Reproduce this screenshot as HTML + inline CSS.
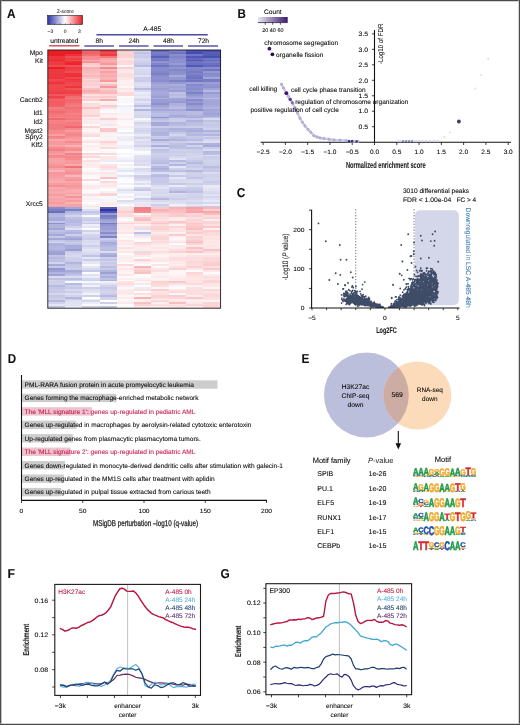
<!DOCTYPE html>
<html><head><meta charset="utf-8"><style>
html,body{margin:0;padding:0;background:#fff;width:520px;height:725px;overflow:hidden}
svg{display:block;filter:blur(0.3px);font-family:"Liberation Sans", sans-serif;text-rendering:geometricPrecision}
</style></head><body>
<svg width="520" height="725" viewBox="0 0 520 725">
<rect width="520" height="725" fill="#fff"/>
<text x="7" y="17.9" font-size="12.9" font-weight="bold" fill="#111" textLength="8.57" lengthAdjust="spacingAndGlyphs" stroke="#111" stroke-width="0.08">A</text>
<defs><linearGradient id="zg" x1="0" x2="1" y1="0" y2="0"><stop offset="0" stop-color="#2c34a6"/><stop offset="0.5" stop-color="#ffffff"/><stop offset="1" stop-color="#eb1c24"/></linearGradient><linearGradient id="cg" x1="0" x2="1" y1="0" y2="0"><stop offset="0" stop-color="#ece8f6"/><stop offset="1" stop-color="#3a1670"/></linearGradient></defs>
<rect x="47.6" y="15.4" width="35" height="9" fill="url(#zg)" stroke="#222" stroke-width="0.6"/>
<line x1="49.5" y1="23.2" x2="49.5" y2="24.6" stroke="#333" stroke-width="0.5" />
<line x1="54.8" y1="23.2" x2="54.8" y2="24.6" stroke="#333" stroke-width="0.5" />
<line x1="60.1" y1="23.2" x2="60.1" y2="24.6" stroke="#333" stroke-width="0.5" />
<line x1="65.4" y1="23.2" x2="65.4" y2="24.6" stroke="#333" stroke-width="0.5" />
<line x1="70.7" y1="23.2" x2="70.7" y2="24.6" stroke="#333" stroke-width="0.5" />
<line x1="76" y1="23.2" x2="76" y2="24.6" stroke="#333" stroke-width="0.5" />
<line x1="81.3" y1="23.2" x2="81.3" y2="24.6" stroke="#333" stroke-width="0.5" />
<text x="65.2" y="12.7" font-size="5" text-anchor="middle" fill="#333" stroke="#333" stroke-width="0.08">Z-score</text>
<text x="50.4" y="32.5" font-size="5" text-anchor="middle" fill="#333" stroke="#333" stroke-width="0.08">−3</text>
<text x="65.2" y="32.5" font-size="5" text-anchor="middle" fill="#333" stroke="#333" stroke-width="0.08">0</text>
<text x="79.5" y="32.5" font-size="5" text-anchor="middle" fill="#333" stroke="#333" stroke-width="0.08">3</text>
<text x="64.3" y="42.6" font-size="6.7" text-anchor="middle" stroke="#222" stroke-width="0.08">untreated</text>
<line x1="49.2" y1="45.8" x2="79.4" y2="45.8" stroke="#cc4050" stroke-width="1.35" />
<text x="152.2" y="31.4" font-size="6.7" text-anchor="middle" stroke="#222" stroke-width="0.08">A-485</text>
<line x1="96.4" y1="34.7" x2="207.8" y2="34.7" stroke="#4a4aa2" stroke-width="1.4" />
<text x="99.3" y="43.2" font-size="6.7" text-anchor="middle" stroke="#222" stroke-width="0.08">8h</text>
<text x="134" y="43.2" font-size="6.7" text-anchor="middle" stroke="#222" stroke-width="0.08">24h</text>
<text x="168.5" y="43.2" font-size="6.7" text-anchor="middle" stroke="#222" stroke-width="0.08">48h</text>
<text x="203.5" y="43.2" font-size="6.7" text-anchor="middle" stroke="#222" stroke-width="0.08">72h</text>
<line x1="84.3" y1="46" x2="114" y2="46" stroke="#4a4aa2" stroke-width="1.4" />
<line x1="119" y1="46" x2="148.6" y2="46" stroke="#4a4aa2" stroke-width="1.4" />
<line x1="153.5" y1="46" x2="183" y2="46" stroke="#4a4aa2" stroke-width="1.4" />
<line x1="188" y1="46" x2="218" y2="46" stroke="#4a4aa2" stroke-width="1.4" />
<g shape-rendering="crispEdges">
<rect x="47.8" y="50" width="17.33" height="1.95" fill="#eb1c24" />
<rect x="65.08" y="50" width="17.33" height="1.95" fill="#eb1f27" />
<rect x="82.36" y="50" width="17.33" height="1.95" fill="#f2676c" />
<rect x="99.64" y="50" width="17.33" height="1.95" fill="#ed363d" />
<rect x="116.92" y="50" width="17.33" height="1.95" fill="#facacc" />
<rect x="134.2" y="50" width="17.33" height="1.95" fill="#d3d5ed" />
<rect x="151.48" y="50" width="17.33" height="1.95" fill="#676dbf" />
<rect x="168.76" y="50" width="17.33" height="1.95" fill="#7c81c8" />
<rect x="186.04" y="50" width="17.33" height="1.95" fill="#4d54b4" />
<rect x="203.32" y="50" width="17.33" height="1.95" fill="#4a51b3" />
<rect x="47.8" y="51.9" width="17.33" height="1.95" fill="#eb1c24" />
<rect x="65.08" y="51.9" width="17.33" height="1.95" fill="#eb1c24" />
<rect x="82.36" y="51.9" width="17.33" height="1.95" fill="#f15e64" />
<rect x="99.64" y="51.9" width="17.33" height="1.95" fill="#ef4a50" />
<rect x="116.92" y="51.9" width="17.33" height="1.95" fill="#fbd4d6" />
<rect x="134.2" y="51.9" width="17.33" height="1.95" fill="#c0c2e4" />
<rect x="151.48" y="51.9" width="17.33" height="1.95" fill="#787dc6" />
<rect x="168.76" y="51.9" width="17.33" height="1.95" fill="#6e74c2" />
<rect x="186.04" y="51.9" width="17.33" height="1.95" fill="#454cb0" />
<rect x="203.32" y="51.9" width="17.33" height="1.95" fill="#575eb8" />
<rect x="47.8" y="53.8" width="17.33" height="1.95" fill="#eb1c24" />
<rect x="65.08" y="53.8" width="17.33" height="1.95" fill="#ed3138" />
<rect x="82.36" y="53.8" width="17.33" height="1.95" fill="#f27075" />
<rect x="99.64" y="53.8" width="17.33" height="1.95" fill="#ee3a41" />
<rect x="116.92" y="53.8" width="17.33" height="1.95" fill="#fbd0d1" />
<rect x="134.2" y="53.8" width="17.33" height="1.95" fill="#cccee9" />
<rect x="151.48" y="53.8" width="17.33" height="1.95" fill="#7277c3" />
<rect x="168.76" y="53.8" width="17.33" height="1.95" fill="#8a8ecd" />
<rect x="186.04" y="53.8" width="17.33" height="1.95" fill="#7076c3" />
<rect x="203.32" y="53.8" width="17.33" height="1.95" fill="#545bb7" />
<rect x="47.8" y="55.7" width="17.33" height="1.95" fill="#ed353c" />
<rect x="65.08" y="55.7" width="17.33" height="1.95" fill="#ef4f55" />
<rect x="82.36" y="55.7" width="17.33" height="1.95" fill="#f58c90" />
<rect x="99.64" y="55.7" width="17.33" height="1.95" fill="#f3787d" />
<rect x="116.92" y="55.7" width="17.33" height="1.95" fill="#fbd3d4" />
<rect x="134.2" y="55.7" width="17.33" height="1.95" fill="#c7cae8" />
<rect x="151.48" y="55.7" width="17.33" height="1.95" fill="#5a60b9" />
<rect x="168.76" y="55.7" width="17.33" height="1.95" fill="#8085c9" />
<rect x="186.04" y="55.7" width="17.33" height="1.95" fill="#4f56b5" />
<rect x="203.32" y="55.7" width="17.33" height="1.95" fill="#484fb2" />
<rect x="47.8" y="57.6" width="17.33" height="1.95" fill="#ed343b" />
<rect x="65.08" y="57.6" width="17.33" height="1.95" fill="#ee3f45" />
<rect x="82.36" y="57.6" width="17.33" height="1.95" fill="#f58e92" />
<rect x="99.64" y="57.6" width="17.33" height="1.95" fill="#f7a4a7" />
<rect x="116.92" y="57.6" width="17.33" height="1.95" fill="#fde3e4" />
<rect x="134.2" y="57.6" width="17.33" height="1.95" fill="#d4d6ed" />
<rect x="151.48" y="57.6" width="17.33" height="1.95" fill="#7a7fc7" />
<rect x="168.76" y="57.6" width="17.33" height="1.95" fill="#888dcd" />
<rect x="186.04" y="57.6" width="17.33" height="1.95" fill="#656bbe" />
<rect x="203.32" y="57.6" width="17.33" height="1.95" fill="#7277c4" />
<rect x="47.8" y="59.5" width="17.33" height="1.95" fill="#ec2830" />
<rect x="65.08" y="59.5" width="17.33" height="1.95" fill="#ef4e55" />
<rect x="82.36" y="59.5" width="17.33" height="1.95" fill="#f8abae" />
<rect x="99.64" y="59.5" width="17.33" height="1.95" fill="#f8b2b5" />
<rect x="116.92" y="59.5" width="17.33" height="1.95" fill="#fcdcdd" />
<rect x="134.2" y="59.5" width="17.33" height="1.95" fill="#d6d7ee" />
<rect x="151.48" y="59.5" width="17.33" height="1.95" fill="#6f74c2" />
<rect x="168.76" y="59.5" width="17.33" height="1.95" fill="#9094d0" />
<rect x="186.04" y="59.5" width="17.33" height="1.95" fill="#5259b6" />
<rect x="203.32" y="59.5" width="17.33" height="1.95" fill="#656bbe" />
<rect x="47.8" y="61.4" width="17.33" height="1.95" fill="#ed383f" />
<rect x="65.08" y="61.4" width="17.33" height="1.95" fill="#ed2e35" />
<rect x="82.36" y="61.4" width="17.33" height="1.95" fill="#f59296" />
<rect x="99.64" y="61.4" width="17.33" height="1.95" fill="#f7a9ac" />
<rect x="116.92" y="61.4" width="17.33" height="1.95" fill="#fcd8da" />
<rect x="134.2" y="61.4" width="17.33" height="1.95" fill="#ced0ea" />
<rect x="151.48" y="61.4" width="17.33" height="1.95" fill="#9094d0" />
<rect x="168.76" y="61.4" width="17.33" height="1.95" fill="#8c90ce" />
<rect x="186.04" y="61.4" width="17.33" height="1.95" fill="#6e73c2" />
<rect x="203.32" y="61.4" width="17.33" height="1.95" fill="#777dc6" />
<rect x="47.8" y="63.3" width="17.33" height="1.95" fill="#ee3c43" />
<rect x="65.08" y="63.3" width="17.33" height="1.95" fill="#ec242c" />
<rect x="82.36" y="63.3" width="17.33" height="1.95" fill="#fac9cb" />
<rect x="99.64" y="63.3" width="17.33" height="1.95" fill="#f6979b" />
<rect x="116.92" y="63.3" width="17.33" height="1.95" fill="#fcdddf" />
<rect x="134.2" y="63.3" width="17.33" height="1.95" fill="#c8cae8" />
<rect x="151.48" y="63.3" width="17.33" height="1.95" fill="#8186ca" />
<rect x="168.76" y="63.3" width="17.33" height="1.95" fill="#979bd3" />
<rect x="186.04" y="63.3" width="17.33" height="1.95" fill="#6a70c0" />
<rect x="203.32" y="63.3" width="17.33" height="1.95" fill="#6b70c1" />
<rect x="47.8" y="65.2" width="17.33" height="1.95" fill="#ef4c52" />
<rect x="65.08" y="65.2" width="17.33" height="1.95" fill="#f04f55" />
<rect x="82.36" y="65.2" width="17.33" height="1.95" fill="#fbd3d4" />
<rect x="99.64" y="65.2" width="17.33" height="1.95" fill="#fac8ca" />
<rect x="116.92" y="65.2" width="17.33" height="1.95" fill="#fef6f6" />
<rect x="134.2" y="65.2" width="17.33" height="1.95" fill="#b9bce2" />
<rect x="151.48" y="65.2" width="17.33" height="1.95" fill="#6f74c2" />
<rect x="168.76" y="65.2" width="17.33" height="1.95" fill="#8286ca" />
<rect x="186.04" y="65.2" width="17.33" height="1.95" fill="#5258b6" />
<rect x="203.32" y="65.2" width="17.33" height="1.95" fill="#6268bd" />
<rect x="47.8" y="67.1" width="17.33" height="1.95" fill="#eb1c24" />
<rect x="65.08" y="67.1" width="17.33" height="1.95" fill="#ee3a41" />
<rect x="82.36" y="67.1" width="17.33" height="1.95" fill="#f8b0b3" />
<rect x="99.64" y="67.1" width="17.33" height="1.95" fill="#f58a8e" />
<rect x="116.92" y="67.1" width="17.33" height="1.95" fill="#fbd0d2" />
<rect x="134.2" y="67.1" width="17.33" height="1.95" fill="#dee0f1" />
<rect x="151.48" y="67.1" width="17.33" height="1.95" fill="#898dcd" />
<rect x="168.76" y="67.1" width="17.33" height="1.95" fill="#9094d0" />
<rect x="186.04" y="67.1" width="17.33" height="1.95" fill="#8287ca" />
<rect x="203.32" y="67.1" width="17.33" height="1.95" fill="#888dcd" />
<rect x="47.8" y="69" width="17.33" height="1.95" fill="#ed383f" />
<rect x="65.08" y="69" width="17.33" height="1.95" fill="#ee4248" />
<rect x="82.36" y="69" width="17.33" height="1.95" fill="#f9b8ba" />
<rect x="99.64" y="69" width="17.33" height="1.95" fill="#f9babc" />
<rect x="116.92" y="69" width="17.33" height="1.95" fill="#fde8e9" />
<rect x="134.2" y="69" width="17.33" height="1.95" fill="#d7d9ee" />
<rect x="151.48" y="69" width="17.33" height="1.95" fill="#878ccc" />
<rect x="168.76" y="69" width="17.33" height="1.95" fill="#8287ca" />
<rect x="186.04" y="69" width="17.33" height="1.95" fill="#7e82c8" />
<rect x="203.32" y="69" width="17.33" height="1.95" fill="#7076c3" />
<rect x="47.8" y="70.9" width="17.33" height="1.95" fill="#ee3a41" />
<rect x="65.08" y="70.9" width="17.33" height="1.95" fill="#ef4d53" />
<rect x="82.36" y="70.9" width="17.33" height="1.95" fill="#f9bbbd" />
<rect x="99.64" y="70.9" width="17.33" height="1.95" fill="#f7a1a4" />
<rect x="116.92" y="70.9" width="17.33" height="1.95" fill="#fde9ea" />
<rect x="134.2" y="70.9" width="17.33" height="1.95" fill="#d7d9ee" />
<rect x="151.48" y="70.9" width="17.33" height="1.95" fill="#8287ca" />
<rect x="168.76" y="70.9" width="17.33" height="1.95" fill="#8a8fce" />
<rect x="186.04" y="70.9" width="17.33" height="1.95" fill="#757ac5" />
<rect x="203.32" y="70.9" width="17.33" height="1.95" fill="#9599d2" />
<rect x="47.8" y="72.8" width="17.33" height="1.95" fill="#ed363d" />
<rect x="65.08" y="72.8" width="17.33" height="1.95" fill="#ed3239" />
<rect x="82.36" y="72.8" width="17.33" height="1.95" fill="#fac4c6" />
<rect x="99.64" y="72.8" width="17.33" height="1.95" fill="#f8b2b5" />
<rect x="116.92" y="72.8" width="17.33" height="1.95" fill="#fcdee0" />
<rect x="134.2" y="72.8" width="17.33" height="1.95" fill="#d2d4ec" />
<rect x="151.48" y="72.8" width="17.33" height="1.95" fill="#7b80c7" />
<rect x="168.76" y="72.8" width="17.33" height="1.95" fill="#8d91cf" />
<rect x="186.04" y="72.8" width="17.33" height="1.95" fill="#7c81c8" />
<rect x="203.32" y="72.8" width="17.33" height="1.95" fill="#868bcc" />
<rect x="47.8" y="74.7" width="17.33" height="1.95" fill="#ed373e" />
<rect x="65.08" y="74.7" width="17.33" height="1.95" fill="#ed2f36" />
<rect x="82.36" y="74.7" width="17.33" height="1.95" fill="#f9b7ba" />
<rect x="99.64" y="74.7" width="17.33" height="1.95" fill="#f8abae" />
<rect x="116.92" y="74.7" width="17.33" height="1.95" fill="#fcddde" />
<rect x="134.2" y="74.7" width="17.33" height="1.95" fill="#e0e1f2" />
<rect x="151.48" y="74.7" width="17.33" height="1.95" fill="#898dcd" />
<rect x="168.76" y="74.7" width="17.33" height="1.95" fill="#a7abda" />
<rect x="186.04" y="74.7" width="17.33" height="1.95" fill="#7378c4" />
<rect x="203.32" y="74.7" width="17.33" height="1.95" fill="#8a8fce" />
<rect x="47.8" y="76.6" width="17.33" height="1.95" fill="#ed333b" />
<rect x="65.08" y="76.6" width="17.33" height="1.95" fill="#ef484e" />
<rect x="82.36" y="76.6" width="17.33" height="1.95" fill="#fac7c9" />
<rect x="99.64" y="76.6" width="17.33" height="1.95" fill="#f9b6b8" />
<rect x="116.92" y="76.6" width="17.33" height="1.95" fill="#fde4e5" />
<rect x="134.2" y="76.6" width="17.33" height="1.95" fill="#cccee9" />
<rect x="151.48" y="76.6" width="17.33" height="1.95" fill="#8f93d0" />
<rect x="168.76" y="76.6" width="17.33" height="1.95" fill="#9498d2" />
<rect x="186.04" y="76.6" width="17.33" height="1.95" fill="#6e73c2" />
<rect x="203.32" y="76.6" width="17.33" height="1.95" fill="#a3a7d8" />
<rect x="47.8" y="78.5" width="17.33" height="1.95" fill="#ef4b51" />
<rect x="65.08" y="78.5" width="17.33" height="1.95" fill="#ed3239" />
<rect x="82.36" y="78.5" width="17.33" height="1.95" fill="#fcd8d9" />
<rect x="99.64" y="78.5" width="17.33" height="1.95" fill="#f8adb0" />
<rect x="116.92" y="78.5" width="17.33" height="1.95" fill="#fde7e7" />
<rect x="134.2" y="78.5" width="17.33" height="1.95" fill="#ced0ea" />
<rect x="151.48" y="78.5" width="17.33" height="1.95" fill="#8b8fce" />
<rect x="168.76" y="78.5" width="17.33" height="1.95" fill="#9296d1" />
<rect x="186.04" y="78.5" width="17.33" height="1.95" fill="#7d82c8" />
<rect x="203.32" y="78.5" width="17.33" height="1.95" fill="#757ac5" />
<rect x="47.8" y="80.4" width="17.33" height="1.95" fill="#ef444b" />
<rect x="65.08" y="80.4" width="17.33" height="1.95" fill="#ee3e45" />
<rect x="82.36" y="80.4" width="17.33" height="1.95" fill="#facacc" />
<rect x="99.64" y="80.4" width="17.33" height="1.95" fill="#f6999c" />
<rect x="116.92" y="80.4" width="17.33" height="1.95" fill="#fef0f1" />
<rect x="134.2" y="80.4" width="17.33" height="1.95" fill="#c9cbe8" />
<rect x="151.48" y="80.4" width="17.33" height="1.95" fill="#8a8ece" />
<rect x="168.76" y="80.4" width="17.33" height="1.95" fill="#7d82c8" />
<rect x="186.04" y="80.4" width="17.33" height="1.95" fill="#7076c3" />
<rect x="203.32" y="80.4" width="17.33" height="1.95" fill="#787dc6" />
<rect x="47.8" y="82.3" width="17.33" height="1.95" fill="#ed343b" />
<rect x="65.08" y="82.3" width="17.33" height="1.95" fill="#ef494f" />
<rect x="82.36" y="82.3" width="17.33" height="1.95" fill="#fbd3d5" />
<rect x="99.64" y="82.3" width="17.33" height="1.95" fill="#fcddde" />
<rect x="116.92" y="82.3" width="17.33" height="1.95" fill="#fef0f1" />
<rect x="134.2" y="82.3" width="17.33" height="1.95" fill="#dbdcf0" />
<rect x="151.48" y="82.3" width="17.33" height="1.95" fill="#9b9fd5" />
<rect x="168.76" y="82.3" width="17.33" height="1.95" fill="#9599d2" />
<rect x="186.04" y="82.3" width="17.33" height="1.95" fill="#9da0d6" />
<rect x="203.32" y="82.3" width="17.33" height="1.95" fill="#9c9fd5" />
<rect x="47.8" y="84.2" width="17.33" height="1.95" fill="#ef454b" />
<rect x="65.08" y="84.2" width="17.33" height="1.95" fill="#ef4a50" />
<rect x="82.36" y="84.2" width="17.33" height="1.95" fill="#fbcecf" />
<rect x="99.64" y="84.2" width="17.33" height="1.95" fill="#f9bfc1" />
<rect x="116.92" y="84.2" width="17.33" height="1.95" fill="#fdedee" />
<rect x="134.2" y="84.2" width="17.33" height="1.95" fill="#dfe0f1" />
<rect x="151.48" y="84.2" width="17.33" height="1.95" fill="#a6a9d9" />
<rect x="168.76" y="84.2" width="17.33" height="1.95" fill="#abaedc" />
<rect x="186.04" y="84.2" width="17.33" height="1.95" fill="#868acc" />
<rect x="203.32" y="84.2" width="17.33" height="1.95" fill="#9397d1" />
<rect x="47.8" y="86.1" width="17.33" height="1.95" fill="#ef494f" />
<rect x="65.08" y="86.1" width="17.33" height="1.95" fill="#ed343b" />
<rect x="82.36" y="86.1" width="17.33" height="1.95" fill="#fcdadb" />
<rect x="99.64" y="86.1" width="17.33" height="1.95" fill="#f6969a" />
<rect x="116.92" y="86.1" width="17.33" height="1.95" fill="#fef8f8" />
<rect x="134.2" y="86.1" width="17.33" height="1.95" fill="#d8daef" />
<rect x="151.48" y="86.1" width="17.33" height="1.95" fill="#a3a7d8" />
<rect x="168.76" y="86.1" width="17.33" height="1.95" fill="#9fa2d6" />
<rect x="186.04" y="86.1" width="17.33" height="1.95" fill="#8d91cf" />
<rect x="203.32" y="86.1" width="17.33" height="1.95" fill="#8d91cf" />
<rect x="47.8" y="88" width="17.33" height="1.95" fill="#ef464c" />
<rect x="65.08" y="88" width="17.33" height="1.95" fill="#f05359" />
<rect x="82.36" y="88" width="17.33" height="1.95" fill="#f9c0c2" />
<rect x="99.64" y="88" width="17.33" height="1.95" fill="#facbcd" />
<rect x="116.92" y="88" width="17.33" height="1.95" fill="#fde5e6" />
<rect x="134.2" y="88" width="17.33" height="1.95" fill="#babce2" />
<rect x="151.48" y="88" width="17.33" height="1.95" fill="#999dd4" />
<rect x="168.76" y="88" width="17.33" height="1.95" fill="#a6aada" />
<rect x="186.04" y="88" width="17.33" height="1.95" fill="#878ccc" />
<rect x="203.32" y="88" width="17.33" height="1.95" fill="#9ea2d6" />
<rect x="47.8" y="89.9" width="17.33" height="1.95" fill="#ef444a" />
<rect x="65.08" y="89.9" width="17.33" height="1.95" fill="#ee434a" />
<rect x="82.36" y="89.9" width="17.33" height="1.95" fill="#f8abae" />
<rect x="99.64" y="89.9" width="17.33" height="1.95" fill="#f9bdc0" />
<rect x="116.92" y="89.9" width="17.33" height="1.95" fill="#fdedee" />
<rect x="134.2" y="89.9" width="17.33" height="1.95" fill="#d8daef" />
<rect x="151.48" y="89.9" width="17.33" height="1.95" fill="#a2a6d8" />
<rect x="168.76" y="89.9" width="17.33" height="1.95" fill="#999dd4" />
<rect x="186.04" y="89.9" width="17.33" height="1.95" fill="#9195d1" />
<rect x="203.32" y="89.9" width="17.33" height="1.95" fill="#b6b9e0" />
<rect x="47.8" y="91.8" width="17.33" height="1.95" fill="#ee3c43" />
<rect x="65.08" y="91.8" width="17.33" height="1.95" fill="#ee3f45" />
<rect x="82.36" y="91.8" width="17.33" height="1.95" fill="#f9b7ba" />
<rect x="99.64" y="91.8" width="17.33" height="1.95" fill="#f9b6b9" />
<rect x="116.92" y="91.8" width="17.33" height="1.95" fill="#fcdadc" />
<rect x="134.2" y="91.8" width="17.33" height="1.95" fill="#ebecf7" />
<rect x="151.48" y="91.8" width="17.33" height="1.95" fill="#a7aada" />
<rect x="168.76" y="91.8" width="17.33" height="1.95" fill="#bfc2e4" />
<rect x="186.04" y="91.8" width="17.33" height="1.95" fill="#7d82c8" />
<rect x="203.32" y="91.8" width="17.33" height="1.95" fill="#989cd4" />
<rect x="47.8" y="93.7" width="17.33" height="1.95" fill="#f0585e" />
<rect x="65.08" y="93.7" width="17.33" height="1.95" fill="#f0575d" />
<rect x="82.36" y="93.7" width="17.33" height="1.95" fill="#fce1e2" />
<rect x="99.64" y="93.7" width="17.33" height="1.95" fill="#fcdadb" />
<rect x="116.92" y="93.7" width="17.33" height="1.95" fill="#fcdadb" />
<rect x="134.2" y="93.7" width="17.33" height="1.95" fill="#e3e4f3" />
<rect x="151.48" y="93.7" width="17.33" height="1.95" fill="#a2a5d8" />
<rect x="168.76" y="93.7" width="17.33" height="1.95" fill="#b8bae1" />
<rect x="186.04" y="93.7" width="17.33" height="1.95" fill="#9397d1" />
<rect x="203.32" y="93.7" width="17.33" height="1.95" fill="#a6aada" />
<rect x="47.8" y="95.6" width="17.33" height="1.95" fill="#ee4147" />
<rect x="65.08" y="95.6" width="17.33" height="1.95" fill="#f26b70" />
<rect x="82.36" y="95.6" width="17.33" height="1.95" fill="#fbcfd1" />
<rect x="99.64" y="95.6" width="17.33" height="1.95" fill="#facbcd" />
<rect x="116.92" y="95.6" width="17.33" height="1.95" fill="#fefeff" />
<rect x="134.2" y="95.6" width="17.33" height="1.95" fill="#e9e9f6" />
<rect x="151.48" y="95.6" width="17.33" height="1.95" fill="#9b9ed5" />
<rect x="168.76" y="95.6" width="17.33" height="1.95" fill="#bdc0e3" />
<rect x="186.04" y="95.6" width="17.33" height="1.95" fill="#9ea1d6" />
<rect x="203.32" y="95.6" width="17.33" height="1.95" fill="#a7aada" />
<rect x="47.8" y="97.5" width="17.33" height="1.95" fill="#f05056" />
<rect x="65.08" y="97.5" width="17.33" height="1.95" fill="#f3777c" />
<rect x="82.36" y="97.5" width="17.33" height="1.95" fill="#fcdcdd" />
<rect x="99.64" y="97.5" width="17.33" height="1.95" fill="#fce0e1" />
<rect x="116.92" y="97.5" width="17.33" height="1.95" fill="#fef5f5" />
<rect x="134.2" y="97.5" width="17.33" height="1.95" fill="#dcddf0" />
<rect x="151.48" y="97.5" width="17.33" height="1.95" fill="#acafdc" />
<rect x="168.76" y="97.5" width="17.33" height="1.95" fill="#a1a5d7" />
<rect x="186.04" y="97.5" width="17.33" height="1.95" fill="#adb0dd" />
<rect x="203.32" y="97.5" width="17.33" height="1.95" fill="#babce2" />
<rect x="47.8" y="99.4" width="17.33" height="1.95" fill="#f16267" />
<rect x="65.08" y="99.4" width="17.33" height="1.95" fill="#f2666b" />
<rect x="82.36" y="99.4" width="17.33" height="1.95" fill="#fbced0" />
<rect x="99.64" y="99.4" width="17.33" height="1.95" fill="#f7a9ac" />
<rect x="116.92" y="99.4" width="17.33" height="1.95" fill="#f9f9fc" />
<rect x="134.2" y="99.4" width="17.33" height="1.95" fill="#d4d6ed" />
<rect x="151.48" y="99.4" width="17.33" height="1.95" fill="#999dd4" />
<rect x="168.76" y="99.4" width="17.33" height="1.95" fill="#9ea2d6" />
<rect x="186.04" y="99.4" width="17.33" height="1.95" fill="#878bcc" />
<rect x="203.32" y="99.4" width="17.33" height="1.95" fill="#a4a8d9" />
<rect x="47.8" y="101.3" width="17.33" height="1.95" fill="#f15c62" />
<rect x="65.08" y="101.3" width="17.33" height="1.95" fill="#f26a6f" />
<rect x="82.36" y="101.3" width="17.33" height="1.95" fill="#fef4f4" />
<rect x="99.64" y="101.3" width="17.33" height="1.95" fill="#fef3f3" />
<rect x="116.92" y="101.3" width="17.33" height="1.95" fill="#f8f8fc" />
<rect x="134.2" y="101.3" width="17.33" height="1.95" fill="#e4e5f4" />
<rect x="151.48" y="101.3" width="17.33" height="1.95" fill="#989cd3" />
<rect x="168.76" y="101.3" width="17.33" height="1.95" fill="#969ad3" />
<rect x="186.04" y="101.3" width="17.33" height="1.95" fill="#9599d2" />
<rect x="203.32" y="101.3" width="17.33" height="1.95" fill="#a1a5d7" />
<rect x="47.8" y="103.2" width="17.33" height="1.95" fill="#f15d63" />
<rect x="65.08" y="103.2" width="17.33" height="1.95" fill="#f37479" />
<rect x="82.36" y="103.2" width="17.33" height="1.95" fill="#fcdddf" />
<rect x="99.64" y="103.2" width="17.33" height="1.95" fill="#fdeded" />
<rect x="116.92" y="103.2" width="17.33" height="1.95" fill="#ffffff" />
<rect x="134.2" y="103.2" width="17.33" height="1.95" fill="#d7d8ee" />
<rect x="151.48" y="103.2" width="17.33" height="1.95" fill="#8c90cf" />
<rect x="168.76" y="103.2" width="17.33" height="1.95" fill="#aeb1dd" />
<rect x="186.04" y="103.2" width="17.33" height="1.95" fill="#878bcc" />
<rect x="203.32" y="103.2" width="17.33" height="1.95" fill="#a2a5d8" />
<rect x="47.8" y="105.1" width="17.33" height="1.95" fill="#f16267" />
<rect x="65.08" y="105.1" width="17.33" height="1.95" fill="#f37c81" />
<rect x="82.36" y="105.1" width="17.33" height="1.95" fill="#fcdedf" />
<rect x="99.64" y="105.1" width="17.33" height="1.95" fill="#facacc" />
<rect x="116.92" y="105.1" width="17.33" height="1.95" fill="#eeeff8" />
<rect x="134.2" y="105.1" width="17.33" height="1.95" fill="#bcbfe3" />
<rect x="151.48" y="105.1" width="17.33" height="1.95" fill="#9fa3d7" />
<rect x="168.76" y="105.1" width="17.33" height="1.95" fill="#b2b5df" />
<rect x="186.04" y="105.1" width="17.33" height="1.95" fill="#999dd4" />
<rect x="203.32" y="105.1" width="17.33" height="1.95" fill="#a8acda" />
<rect x="47.8" y="107" width="17.33" height="1.95" fill="#f47d81" />
<rect x="65.08" y="107" width="17.33" height="1.95" fill="#f27075" />
<rect x="82.36" y="107" width="17.33" height="1.95" fill="#fac1c3" />
<rect x="99.64" y="107" width="17.33" height="1.95" fill="#fcdfe0" />
<rect x="116.92" y="107" width="17.33" height="1.95" fill="#f5f5fb" />
<rect x="134.2" y="107" width="17.33" height="1.95" fill="#dfe1f2" />
<rect x="151.48" y="107" width="17.33" height="1.95" fill="#adb0dc" />
<rect x="168.76" y="107" width="17.33" height="1.95" fill="#bcbee3" />
<rect x="186.04" y="107" width="17.33" height="1.95" fill="#9ea2d6" />
<rect x="203.32" y="107" width="17.33" height="1.95" fill="#b0b3de" />
<rect x="47.8" y="108.9" width="17.33" height="1.95" fill="#f3777c" />
<rect x="65.08" y="108.9" width="17.33" height="1.95" fill="#f3767a" />
<rect x="82.36" y="108.9" width="17.33" height="1.95" fill="#fcdedf" />
<rect x="99.64" y="108.9" width="17.33" height="1.95" fill="#f6f7fb" />
<rect x="116.92" y="108.9" width="17.33" height="1.95" fill="#f8f8fc" />
<rect x="134.2" y="108.9" width="17.33" height="1.95" fill="#b1b4de" />
<rect x="151.48" y="108.9" width="17.33" height="1.95" fill="#a5a9d9" />
<rect x="168.76" y="108.9" width="17.33" height="1.95" fill="#a6a9da" />
<rect x="186.04" y="108.9" width="17.33" height="1.95" fill="#8d92cf" />
<rect x="203.32" y="108.9" width="17.33" height="1.95" fill="#a3a7d8" />
<rect x="47.8" y="110.8" width="17.33" height="1.95" fill="#f2696e" />
<rect x="65.08" y="110.8" width="17.33" height="1.95" fill="#f3797e" />
<rect x="82.36" y="110.8" width="17.33" height="1.95" fill="#fcdfe0" />
<rect x="99.64" y="110.8" width="17.33" height="1.95" fill="#fafafd" />
<rect x="116.92" y="110.8" width="17.33" height="1.95" fill="#f7f7fc" />
<rect x="134.2" y="110.8" width="17.33" height="1.95" fill="#d8daef" />
<rect x="151.48" y="110.8" width="17.33" height="1.95" fill="#b4b7e0" />
<rect x="168.76" y="110.8" width="17.33" height="1.95" fill="#b6b8e0" />
<rect x="186.04" y="110.8" width="17.33" height="1.95" fill="#b9bbe1" />
<rect x="203.32" y="110.8" width="17.33" height="1.95" fill="#a5a9d9" />
<rect x="47.8" y="112.7" width="17.33" height="1.95" fill="#f3757a" />
<rect x="65.08" y="112.7" width="17.33" height="1.95" fill="#f48186" />
<rect x="82.36" y="112.7" width="17.33" height="1.95" fill="#fcdedf" />
<rect x="99.64" y="112.7" width="17.33" height="1.95" fill="#fde9ea" />
<rect x="116.92" y="112.7" width="17.33" height="1.95" fill="#fef1f2" />
<rect x="134.2" y="112.7" width="17.33" height="1.95" fill="#d8daef" />
<rect x="151.48" y="112.7" width="17.33" height="1.95" fill="#bdc0e3" />
<rect x="168.76" y="112.7" width="17.33" height="1.95" fill="#b5b7e0" />
<rect x="186.04" y="112.7" width="17.33" height="1.95" fill="#b9bbe1" />
<rect x="203.32" y="112.7" width="17.33" height="1.95" fill="#9fa3d7" />
<rect x="47.8" y="114.6" width="17.33" height="1.95" fill="#f37a7f" />
<rect x="65.08" y="114.6" width="17.33" height="1.95" fill="#f3797e" />
<rect x="82.36" y="114.6" width="17.33" height="1.95" fill="#fbd1d2" />
<rect x="99.64" y="114.6" width="17.33" height="1.95" fill="#fef2f3" />
<rect x="116.92" y="114.6" width="17.33" height="1.95" fill="#f7f7fb" />
<rect x="134.2" y="114.6" width="17.33" height="1.95" fill="#d5d7ed" />
<rect x="151.48" y="114.6" width="17.33" height="1.95" fill="#b9bce2" />
<rect x="168.76" y="114.6" width="17.33" height="1.95" fill="#a6a9d9" />
<rect x="186.04" y="114.6" width="17.33" height="1.95" fill="#afb2dd" />
<rect x="203.32" y="114.6" width="17.33" height="1.95" fill="#a7aada" />
<rect x="47.8" y="116.5" width="17.33" height="1.95" fill="#f48589" />
<rect x="65.08" y="116.5" width="17.33" height="1.95" fill="#f48387" />
<rect x="82.36" y="116.5" width="17.33" height="1.95" fill="#fef4f5" />
<rect x="99.64" y="116.5" width="17.33" height="1.95" fill="#feefef" />
<rect x="116.92" y="116.5" width="17.33" height="1.95" fill="#f8f9fc" />
<rect x="134.2" y="116.5" width="17.33" height="1.95" fill="#d4d5ed" />
<rect x="151.48" y="116.5" width="17.33" height="1.95" fill="#9195d1" />
<rect x="168.76" y="116.5" width="17.33" height="1.95" fill="#aeb1dd" />
<rect x="186.04" y="116.5" width="17.33" height="1.95" fill="#a8abda" />
<rect x="203.32" y="116.5" width="17.33" height="1.95" fill="#bbbde2" />
<rect x="47.8" y="118.4" width="17.33" height="1.95" fill="#f2676d" />
<rect x="65.08" y="118.4" width="17.33" height="1.95" fill="#f37479" />
<rect x="82.36" y="118.4" width="17.33" height="1.95" fill="#fde6e7" />
<rect x="99.64" y="118.4" width="17.33" height="1.95" fill="#fbcfd1" />
<rect x="116.92" y="118.4" width="17.33" height="1.95" fill="#fdebec" />
<rect x="134.2" y="118.4" width="17.33" height="1.95" fill="#f6f6fb" />
<rect x="151.48" y="118.4" width="17.33" height="1.95" fill="#b9bbe1" />
<rect x="168.76" y="118.4" width="17.33" height="1.95" fill="#c9cbe8" />
<rect x="186.04" y="118.4" width="17.33" height="1.95" fill="#c4c7e6" />
<rect x="203.32" y="118.4" width="17.33" height="1.95" fill="#d7d9ee" />
<rect x="47.8" y="120.3" width="17.33" height="1.95" fill="#f48286" />
<rect x="65.08" y="120.3" width="17.33" height="1.95" fill="#f5898d" />
<rect x="82.36" y="120.3" width="17.33" height="1.95" fill="#fdeaeb" />
<rect x="99.64" y="120.3" width="17.33" height="1.95" fill="#fdeced" />
<rect x="116.92" y="120.3" width="17.33" height="1.95" fill="#fef6f6" />
<rect x="134.2" y="120.3" width="17.33" height="1.95" fill="#eaebf6" />
<rect x="151.48" y="120.3" width="17.33" height="1.95" fill="#c2c5e5" />
<rect x="168.76" y="120.3" width="17.33" height="1.95" fill="#cbcde9" />
<rect x="186.04" y="120.3" width="17.33" height="1.95" fill="#aeb1dd" />
<rect x="203.32" y="120.3" width="17.33" height="1.95" fill="#bec1e4" />
<rect x="47.8" y="122.2" width="17.33" height="1.95" fill="#f48185" />
<rect x="65.08" y="122.2" width="17.33" height="1.95" fill="#f3797e" />
<rect x="82.36" y="122.2" width="17.33" height="1.95" fill="#fdeaeb" />
<rect x="99.64" y="122.2" width="17.33" height="1.95" fill="#f2f3fa" />
<rect x="116.92" y="122.2" width="17.33" height="1.95" fill="#f9f9fd" />
<rect x="134.2" y="122.2" width="17.33" height="1.95" fill="#d4d5ed" />
<rect x="151.48" y="122.2" width="17.33" height="1.95" fill="#a6aada" />
<rect x="168.76" y="122.2" width="17.33" height="1.95" fill="#b2b5df" />
<rect x="186.04" y="122.2" width="17.33" height="1.95" fill="#bcbee3" />
<rect x="203.32" y="122.2" width="17.33" height="1.95" fill="#cbcde9" />
<rect x="47.8" y="124.1" width="17.33" height="1.95" fill="#f3787d" />
<rect x="65.08" y="124.1" width="17.33" height="1.95" fill="#f37c80" />
<rect x="82.36" y="124.1" width="17.33" height="1.95" fill="#fffbfb" />
<rect x="99.64" y="124.1" width="17.33" height="1.95" fill="#fde5e6" />
<rect x="116.92" y="124.1" width="17.33" height="1.95" fill="#fafafd" />
<rect x="134.2" y="124.1" width="17.33" height="1.95" fill="#dddef1" />
<rect x="151.48" y="124.1" width="17.33" height="1.95" fill="#a6a9d9" />
<rect x="168.76" y="124.1" width="17.33" height="1.95" fill="#b7bae1" />
<rect x="186.04" y="124.1" width="17.33" height="1.95" fill="#bdc0e3" />
<rect x="203.32" y="124.1" width="17.33" height="1.95" fill="#c6c8e7" />
<rect x="47.8" y="126" width="17.33" height="1.95" fill="#f37b7f" />
<rect x="65.08" y="126" width="17.33" height="1.95" fill="#f2676d" />
<rect x="82.36" y="126" width="17.33" height="1.95" fill="#fbd5d6" />
<rect x="99.64" y="126" width="17.33" height="1.95" fill="#fef6f6" />
<rect x="116.92" y="126" width="17.33" height="1.95" fill="#feefef" />
<rect x="134.2" y="126" width="17.33" height="1.95" fill="#e4e5f4" />
<rect x="151.48" y="126" width="17.33" height="1.95" fill="#cbcde9" />
<rect x="168.76" y="126" width="17.33" height="1.95" fill="#c8cae8" />
<rect x="186.04" y="126" width="17.33" height="1.95" fill="#cdcfea" />
<rect x="203.32" y="126" width="17.33" height="1.95" fill="#c9cbe8" />
<rect x="47.8" y="127.9" width="17.33" height="1.95" fill="#f37a7f" />
<rect x="65.08" y="127.9" width="17.33" height="1.95" fill="#f4888c" />
<rect x="82.36" y="127.9" width="17.33" height="1.95" fill="#fef1f1" />
<rect x="99.64" y="127.9" width="17.33" height="1.95" fill="#fac8ca" />
<rect x="116.92" y="127.9" width="17.33" height="1.95" fill="#f7f7fc" />
<rect x="134.2" y="127.9" width="17.33" height="1.95" fill="#d6d7ee" />
<rect x="151.48" y="127.9" width="17.33" height="1.95" fill="#b5b7e0" />
<rect x="168.76" y="127.9" width="17.33" height="1.95" fill="#aeb1dd" />
<rect x="186.04" y="127.9" width="17.33" height="1.95" fill="#afb2dd" />
<rect x="203.32" y="127.9" width="17.33" height="1.95" fill="#d0d2eb" />
<rect x="47.8" y="129.8" width="17.33" height="1.95" fill="#f58b8f" />
<rect x="65.08" y="129.8" width="17.33" height="1.95" fill="#f69da0" />
<rect x="82.36" y="129.8" width="17.33" height="1.95" fill="#fef8f8" />
<rect x="99.64" y="129.8" width="17.33" height="1.95" fill="#fac7c9" />
<rect x="116.92" y="129.8" width="17.33" height="1.95" fill="#ffffff" />
<rect x="134.2" y="129.8" width="17.33" height="1.95" fill="#d2d4ec" />
<rect x="151.48" y="129.8" width="17.33" height="1.95" fill="#b8bbe1" />
<rect x="168.76" y="129.8" width="17.33" height="1.95" fill="#b2b5df" />
<rect x="186.04" y="129.8" width="17.33" height="1.95" fill="#aaaddb" />
<rect x="203.32" y="129.8" width="17.33" height="1.95" fill="#afb2dd" />
<rect x="47.8" y="131.7" width="17.33" height="1.95" fill="#f5898d" />
<rect x="65.08" y="131.7" width="17.33" height="1.95" fill="#f58b8f" />
<rect x="82.36" y="131.7" width="17.33" height="1.95" fill="#fdeaeb" />
<rect x="99.64" y="131.7" width="17.33" height="1.95" fill="#feefef" />
<rect x="116.92" y="131.7" width="17.33" height="1.95" fill="#eaebf6" />
<rect x="134.2" y="131.7" width="17.33" height="1.95" fill="#d8daef" />
<rect x="151.48" y="131.7" width="17.33" height="1.95" fill="#aeb2dd" />
<rect x="168.76" y="131.7" width="17.33" height="1.95" fill="#c6c8e7" />
<rect x="186.04" y="131.7" width="17.33" height="1.95" fill="#babde2" />
<rect x="203.32" y="131.7" width="17.33" height="1.95" fill="#c2c5e5" />
<rect x="47.8" y="133.6" width="17.33" height="1.95" fill="#f79fa3" />
<rect x="65.08" y="133.6" width="17.33" height="1.95" fill="#f48589" />
<rect x="82.36" y="133.6" width="17.33" height="1.95" fill="#fcddde" />
<rect x="99.64" y="133.6" width="17.33" height="1.95" fill="#f5f5fb" />
<rect x="116.92" y="133.6" width="17.33" height="1.95" fill="#fafafd" />
<rect x="134.2" y="133.6" width="17.33" height="1.95" fill="#e9eaf6" />
<rect x="151.48" y="133.6" width="17.33" height="1.95" fill="#b1b4de" />
<rect x="168.76" y="133.6" width="17.33" height="1.95" fill="#d4d6ed" />
<rect x="186.04" y="133.6" width="17.33" height="1.95" fill="#b4b7df" />
<rect x="203.32" y="133.6" width="17.33" height="1.95" fill="#b2b5de" />
<rect x="47.8" y="135.5" width="17.33" height="1.95" fill="#f47f83" />
<rect x="65.08" y="135.5" width="17.33" height="1.95" fill="#f58e92" />
<rect x="82.36" y="135.5" width="17.33" height="1.95" fill="#fcd8da" />
<rect x="99.64" y="135.5" width="17.33" height="1.95" fill="#f3f4fa" />
<rect x="116.92" y="135.5" width="17.33" height="1.95" fill="#fdeaeb" />
<rect x="134.2" y="135.5" width="17.33" height="1.95" fill="#dddff1" />
<rect x="151.48" y="135.5" width="17.33" height="1.95" fill="#cbcde9" />
<rect x="168.76" y="135.5" width="17.33" height="1.95" fill="#c6c9e7" />
<rect x="186.04" y="135.5" width="17.33" height="1.95" fill="#c8cae8" />
<rect x="203.32" y="135.5" width="17.33" height="1.95" fill="#d3d4ec" />
<rect x="47.8" y="137.4" width="17.33" height="1.95" fill="#f5888c" />
<rect x="65.08" y="137.4" width="17.33" height="1.95" fill="#f6999c" />
<rect x="82.36" y="137.4" width="17.33" height="1.95" fill="#fffcfc" />
<rect x="99.64" y="137.4" width="17.33" height="1.95" fill="#fef3f3" />
<rect x="116.92" y="137.4" width="17.33" height="1.95" fill="#ecedf7" />
<rect x="134.2" y="137.4" width="17.33" height="1.95" fill="#d1d3ec" />
<rect x="151.48" y="137.4" width="17.33" height="1.95" fill="#c7c9e7" />
<rect x="168.76" y="137.4" width="17.33" height="1.95" fill="#bec0e3" />
<rect x="186.04" y="137.4" width="17.33" height="1.95" fill="#c5c7e6" />
<rect x="203.32" y="137.4" width="17.33" height="1.95" fill="#c2c5e5" />
<rect x="47.8" y="139.3" width="17.33" height="1.95" fill="#f7a9ac" />
<rect x="65.08" y="139.3" width="17.33" height="1.95" fill="#f7a0a3" />
<rect x="82.36" y="139.3" width="17.33" height="1.95" fill="#fef1f1" />
<rect x="99.64" y="139.3" width="17.33" height="1.95" fill="#fef0f0" />
<rect x="116.92" y="139.3" width="17.33" height="1.95" fill="#ececf7" />
<rect x="134.2" y="139.3" width="17.33" height="1.95" fill="#e3e5f3" />
<rect x="151.48" y="139.3" width="17.33" height="1.95" fill="#a8abda" />
<rect x="168.76" y="139.3" width="17.33" height="1.95" fill="#b1b4de" />
<rect x="186.04" y="139.3" width="17.33" height="1.95" fill="#b9bce2" />
<rect x="203.32" y="139.3" width="17.33" height="1.95" fill="#d6d8ee" />
<rect x="47.8" y="141.2" width="17.33" height="1.95" fill="#f6989c" />
<rect x="65.08" y="141.2" width="17.33" height="1.95" fill="#f58a8e" />
<rect x="82.36" y="141.2" width="17.33" height="1.95" fill="#fde3e4" />
<rect x="99.64" y="141.2" width="17.33" height="1.95" fill="#fbd3d5" />
<rect x="116.92" y="141.2" width="17.33" height="1.95" fill="#f7f7fc" />
<rect x="134.2" y="141.2" width="17.33" height="1.95" fill="#d9daef" />
<rect x="151.48" y="141.2" width="17.33" height="1.95" fill="#c6c8e7" />
<rect x="168.76" y="141.2" width="17.33" height="1.95" fill="#cdcfea" />
<rect x="186.04" y="141.2" width="17.33" height="1.95" fill="#d3d5ed" />
<rect x="203.32" y="141.2" width="17.33" height="1.95" fill="#dedff1" />
<rect x="47.8" y="143.1" width="17.33" height="1.95" fill="#f69b9f" />
<rect x="65.08" y="143.1" width="17.33" height="1.95" fill="#f69a9d" />
<rect x="82.36" y="143.1" width="17.33" height="1.95" fill="#fef8f8" />
<rect x="99.64" y="143.1" width="17.33" height="1.95" fill="#fde5e6" />
<rect x="116.92" y="143.1" width="17.33" height="1.95" fill="#f8f9fc" />
<rect x="134.2" y="143.1" width="17.33" height="1.95" fill="#dddff1" />
<rect x="151.48" y="143.1" width="17.33" height="1.95" fill="#ced0ea" />
<rect x="168.76" y="143.1" width="17.33" height="1.95" fill="#c1c3e5" />
<rect x="186.04" y="143.1" width="17.33" height="1.95" fill="#b0b3de" />
<rect x="203.32" y="143.1" width="17.33" height="1.95" fill="#afb2dd" />
<rect x="47.8" y="145" width="17.33" height="1.95" fill="#f7a4a7" />
<rect x="65.08" y="145" width="17.33" height="1.95" fill="#f8b1b4" />
<rect x="82.36" y="145" width="17.33" height="1.95" fill="#fdedee" />
<rect x="99.64" y="145" width="17.33" height="1.95" fill="#feeeef" />
<rect x="116.92" y="145" width="17.33" height="1.95" fill="#eeeff8" />
<rect x="134.2" y="145" width="17.33" height="1.95" fill="#d0d2eb" />
<rect x="151.48" y="145" width="17.33" height="1.95" fill="#acafdc" />
<rect x="168.76" y="145" width="17.33" height="1.95" fill="#b7bae1" />
<rect x="186.04" y="145" width="17.33" height="1.95" fill="#d0d2eb" />
<rect x="203.32" y="145" width="17.33" height="1.95" fill="#a7abda" />
<rect x="47.8" y="146.9" width="17.33" height="1.95" fill="#f5898d" />
<rect x="65.08" y="146.9" width="17.33" height="1.95" fill="#f69498" />
<rect x="82.36" y="146.9" width="17.33" height="1.95" fill="#fef4f4" />
<rect x="99.64" y="146.9" width="17.33" height="1.95" fill="#fcdadc" />
<rect x="116.92" y="146.9" width="17.33" height="1.95" fill="#eeeff8" />
<rect x="134.2" y="146.9" width="17.33" height="1.95" fill="#e6e7f4" />
<rect x="151.48" y="146.9" width="17.33" height="1.95" fill="#d6d7ee" />
<rect x="168.76" y="146.9" width="17.33" height="1.95" fill="#bdc0e3" />
<rect x="186.04" y="146.9" width="17.33" height="1.95" fill="#babde2" />
<rect x="203.32" y="146.9" width="17.33" height="1.95" fill="#cacce8" />
<rect x="47.8" y="148.8" width="17.33" height="1.95" fill="#f47e83" />
<rect x="65.08" y="148.8" width="17.33" height="1.95" fill="#f5898d" />
<rect x="82.36" y="148.8" width="17.33" height="1.95" fill="#fef4f4" />
<rect x="99.64" y="148.8" width="17.33" height="1.95" fill="#fefeff" />
<rect x="116.92" y="148.8" width="17.33" height="1.95" fill="#ffffff" />
<rect x="134.2" y="148.8" width="17.33" height="1.95" fill="#e9eaf6" />
<rect x="151.48" y="148.8" width="17.33" height="1.95" fill="#bfc1e4" />
<rect x="168.76" y="148.8" width="17.33" height="1.95" fill="#cfd1eb" />
<rect x="186.04" y="148.8" width="17.33" height="1.95" fill="#cdcfea" />
<rect x="203.32" y="148.8" width="17.33" height="1.95" fill="#dadbef" />
<rect x="47.8" y="150.7" width="17.33" height="1.95" fill="#f69497" />
<rect x="65.08" y="150.7" width="17.33" height="1.95" fill="#f8abae" />
<rect x="82.36" y="150.7" width="17.33" height="1.95" fill="#fffcfc" />
<rect x="99.64" y="150.7" width="17.33" height="1.95" fill="#fef5f5" />
<rect x="116.92" y="150.7" width="17.33" height="1.95" fill="#ffffff" />
<rect x="134.2" y="150.7" width="17.33" height="1.95" fill="#fdfdfe" />
<rect x="151.48" y="150.7" width="17.33" height="1.95" fill="#c4c6e6" />
<rect x="168.76" y="150.7" width="17.33" height="1.95" fill="#cacce9" />
<rect x="186.04" y="150.7" width="17.33" height="1.95" fill="#cbcde9" />
<rect x="203.32" y="150.7" width="17.33" height="1.95" fill="#b4b7e0" />
<rect x="47.8" y="152.6" width="17.33" height="1.95" fill="#f69ea1" />
<rect x="65.08" y="152.6" width="17.33" height="1.95" fill="#f48186" />
<rect x="82.36" y="152.6" width="17.33" height="1.95" fill="#fcd8da" />
<rect x="99.64" y="152.6" width="17.33" height="1.95" fill="#fcddde" />
<rect x="116.92" y="152.6" width="17.33" height="1.95" fill="#f4f4fa" />
<rect x="134.2" y="152.6" width="17.33" height="1.95" fill="#f5f6fb" />
<rect x="151.48" y="152.6" width="17.33" height="1.95" fill="#cfd0eb" />
<rect x="168.76" y="152.6" width="17.33" height="1.95" fill="#d0d2eb" />
<rect x="186.04" y="152.6" width="17.33" height="1.95" fill="#d1d3ec" />
<rect x="203.32" y="152.6" width="17.33" height="1.95" fill="#bbbee2" />
<rect x="47.8" y="154.5" width="17.33" height="1.95" fill="#f4878c" />
<rect x="65.08" y="154.5" width="17.33" height="1.95" fill="#f59396" />
<rect x="82.36" y="154.5" width="17.33" height="1.95" fill="#fdeced" />
<rect x="99.64" y="154.5" width="17.33" height="1.95" fill="#fefefe" />
<rect x="116.92" y="154.5" width="17.33" height="1.95" fill="#ffffff" />
<rect x="134.2" y="154.5" width="17.33" height="1.95" fill="#e4e5f4" />
<rect x="151.48" y="154.5" width="17.33" height="1.95" fill="#cbcde9" />
<rect x="168.76" y="154.5" width="17.33" height="1.95" fill="#c8cae8" />
<rect x="186.04" y="154.5" width="17.33" height="1.95" fill="#d3d5ed" />
<rect x="203.32" y="154.5" width="17.33" height="1.95" fill="#dcddf0" />
<rect x="47.8" y="156.4" width="17.33" height="1.95" fill="#f5898e" />
<rect x="65.08" y="156.4" width="17.33" height="1.95" fill="#f5888d" />
<rect x="82.36" y="156.4" width="17.33" height="1.95" fill="#fcd9da" />
<rect x="99.64" y="156.4" width="17.33" height="1.95" fill="#fde6e7" />
<rect x="116.92" y="156.4" width="17.33" height="1.95" fill="#f7f7fc" />
<rect x="134.2" y="156.4" width="17.33" height="1.95" fill="#dddff1" />
<rect x="151.48" y="156.4" width="17.33" height="1.95" fill="#cbcde9" />
<rect x="168.76" y="156.4" width="17.33" height="1.95" fill="#d5d7ed" />
<rect x="186.04" y="156.4" width="17.33" height="1.95" fill="#d5d7ed" />
<rect x="203.32" y="156.4" width="17.33" height="1.95" fill="#cacce9" />
<rect x="47.8" y="158.3" width="17.33" height="1.95" fill="#f7a1a4" />
<rect x="65.08" y="158.3" width="17.33" height="1.95" fill="#f58b8f" />
<rect x="82.36" y="158.3" width="17.33" height="1.95" fill="#fef6f6" />
<rect x="99.64" y="158.3" width="17.33" height="1.95" fill="#fde5e6" />
<rect x="116.92" y="158.3" width="17.33" height="1.95" fill="#f1f1f9" />
<rect x="134.2" y="158.3" width="17.33" height="1.95" fill="#dddff1" />
<rect x="151.48" y="158.3" width="17.33" height="1.95" fill="#c3c5e6" />
<rect x="168.76" y="158.3" width="17.33" height="1.95" fill="#e1e3f3" />
<rect x="186.04" y="158.3" width="17.33" height="1.95" fill="#cfd0eb" />
<rect x="203.32" y="158.3" width="17.33" height="1.95" fill="#ccceea" />
<rect x="47.8" y="160.2" width="17.33" height="1.95" fill="#f7a4a7" />
<rect x="65.08" y="160.2" width="17.33" height="1.95" fill="#f69a9e" />
<rect x="82.36" y="160.2" width="17.33" height="1.95" fill="#fce1e2" />
<rect x="99.64" y="160.2" width="17.33" height="1.95" fill="#ebecf7" />
<rect x="116.92" y="160.2" width="17.33" height="1.95" fill="#e8e9f5" />
<rect x="134.2" y="160.2" width="17.33" height="1.95" fill="#d9daef" />
<rect x="151.48" y="160.2" width="17.33" height="1.95" fill="#bec1e4" />
<rect x="168.76" y="160.2" width="17.33" height="1.95" fill="#b6b9e0" />
<rect x="186.04" y="160.2" width="17.33" height="1.95" fill="#c6c8e7" />
<rect x="203.32" y="160.2" width="17.33" height="1.95" fill="#d1d3ec" />
<rect x="47.8" y="162.1" width="17.33" height="1.95" fill="#f79fa3" />
<rect x="65.08" y="162.1" width="17.33" height="1.95" fill="#f69a9e" />
<rect x="82.36" y="162.1" width="17.33" height="1.95" fill="#fdeeee" />
<rect x="99.64" y="162.1" width="17.33" height="1.95" fill="#fdfdfe" />
<rect x="116.92" y="162.1" width="17.33" height="1.95" fill="#fffcfc" />
<rect x="134.2" y="162.1" width="17.33" height="1.95" fill="#dddef1" />
<rect x="151.48" y="162.1" width="17.33" height="1.95" fill="#b9bce1" />
<rect x="168.76" y="162.1" width="17.33" height="1.95" fill="#d1d2eb" />
<rect x="186.04" y="162.1" width="17.33" height="1.95" fill="#b6b9e0" />
<rect x="203.32" y="162.1" width="17.33" height="1.95" fill="#d0d2eb" />
<rect x="47.8" y="164" width="17.33" height="1.95" fill="#f6979b" />
<rect x="65.08" y="164" width="17.33" height="1.95" fill="#f8abae" />
<rect x="82.36" y="164" width="17.33" height="1.95" fill="#fdeaeb" />
<rect x="99.64" y="164" width="17.33" height="1.95" fill="#fde5e6" />
<rect x="116.92" y="164" width="17.33" height="1.95" fill="#f3f3fa" />
<rect x="134.2" y="164" width="17.33" height="1.95" fill="#dadbef" />
<rect x="151.48" y="164" width="17.33" height="1.95" fill="#d0d2eb" />
<rect x="168.76" y="164" width="17.33" height="1.95" fill="#b3b6df" />
<rect x="186.04" y="164" width="17.33" height="1.95" fill="#cacce9" />
<rect x="203.32" y="164" width="17.33" height="1.95" fill="#cdcfea" />
<rect x="47.8" y="165.9" width="17.33" height="1.95" fill="#f58d91" />
<rect x="65.08" y="165.9" width="17.33" height="1.95" fill="#f27075" />
<rect x="82.36" y="165.9" width="17.33" height="1.95" fill="#fdedee" />
<rect x="99.64" y="165.9" width="17.33" height="1.95" fill="#fcd9da" />
<rect x="116.92" y="165.9" width="17.33" height="1.95" fill="#fafafd" />
<rect x="134.2" y="165.9" width="17.33" height="1.95" fill="#f4f4fa" />
<rect x="151.48" y="165.9" width="17.33" height="1.95" fill="#b8bbe1" />
<rect x="168.76" y="165.9" width="17.33" height="1.95" fill="#e6e7f4" />
<rect x="186.04" y="165.9" width="17.33" height="1.95" fill="#c8cae8" />
<rect x="203.32" y="165.9" width="17.33" height="1.95" fill="#babde2" />
<rect x="47.8" y="167.8" width="17.33" height="1.95" fill="#f7a3a6" />
<rect x="65.08" y="167.8" width="17.33" height="1.95" fill="#f7a2a6" />
<rect x="82.36" y="167.8" width="17.33" height="1.95" fill="#fff9fa" />
<rect x="99.64" y="167.8" width="17.33" height="1.95" fill="#fde3e4" />
<rect x="116.92" y="167.8" width="17.33" height="1.95" fill="#efeff8" />
<rect x="134.2" y="167.8" width="17.33" height="1.95" fill="#dadbef" />
<rect x="151.48" y="167.8" width="17.33" height="1.95" fill="#aeb1dd" />
<rect x="168.76" y="167.8" width="17.33" height="1.95" fill="#cfd1eb" />
<rect x="186.04" y="167.8" width="17.33" height="1.95" fill="#d3d5ec" />
<rect x="203.32" y="167.8" width="17.33" height="1.95" fill="#c6c8e7" />
<rect x="47.8" y="169.7" width="17.33" height="1.95" fill="#f9b5b8" />
<rect x="65.08" y="169.7" width="17.33" height="1.95" fill="#f6979b" />
<rect x="82.36" y="169.7" width="17.33" height="1.95" fill="#f8f9fc" />
<rect x="99.64" y="169.7" width="17.33" height="1.95" fill="#f5f5fb" />
<rect x="116.92" y="169.7" width="17.33" height="1.95" fill="#e3e4f3" />
<rect x="134.2" y="169.7" width="17.33" height="1.95" fill="#dddef1" />
<rect x="151.48" y="169.7" width="17.33" height="1.95" fill="#bbbee3" />
<rect x="168.76" y="169.7" width="17.33" height="1.95" fill="#bcbee3" />
<rect x="186.04" y="169.7" width="17.33" height="1.95" fill="#b3b6df" />
<rect x="203.32" y="169.7" width="17.33" height="1.95" fill="#c6c8e7" />
<rect x="47.8" y="171.6" width="17.33" height="1.95" fill="#f6979b" />
<rect x="65.08" y="171.6" width="17.33" height="1.95" fill="#f58f93" />
<rect x="82.36" y="171.6" width="17.33" height="1.95" fill="#fdeaeb" />
<rect x="99.64" y="171.6" width="17.33" height="1.95" fill="#fde6e7" />
<rect x="116.92" y="171.6" width="17.33" height="1.95" fill="#fcfcfe" />
<rect x="134.2" y="171.6" width="17.33" height="1.95" fill="#e7e8f5" />
<rect x="151.48" y="171.6" width="17.33" height="1.95" fill="#dee0f1" />
<rect x="168.76" y="171.6" width="17.33" height="1.95" fill="#dcddf0" />
<rect x="186.04" y="171.6" width="17.33" height="1.95" fill="#ced0ea" />
<rect x="203.32" y="171.6" width="17.33" height="1.95" fill="#dadbef" />
<rect x="47.8" y="173.5" width="17.33" height="1.95" fill="#f6979b" />
<rect x="65.08" y="173.5" width="17.33" height="1.95" fill="#f69ea2" />
<rect x="82.36" y="173.5" width="17.33" height="1.95" fill="#fdeeee" />
<rect x="99.64" y="173.5" width="17.33" height="1.95" fill="#eeeef8" />
<rect x="116.92" y="173.5" width="17.33" height="1.95" fill="#f8f8fc" />
<rect x="134.2" y="173.5" width="17.33" height="1.95" fill="#eeeff8" />
<rect x="151.48" y="173.5" width="17.33" height="1.95" fill="#bec0e4" />
<rect x="168.76" y="173.5" width="17.33" height="1.95" fill="#e3e4f3" />
<rect x="186.04" y="173.5" width="17.33" height="1.95" fill="#d3d4ec" />
<rect x="203.32" y="173.5" width="17.33" height="1.95" fill="#d0d2eb" />
<rect x="47.8" y="175.4" width="17.33" height="1.95" fill="#f69b9f" />
<rect x="65.08" y="175.4" width="17.33" height="1.95" fill="#f9b7b9" />
<rect x="82.36" y="175.4" width="17.33" height="1.95" fill="#fafafd" />
<rect x="99.64" y="175.4" width="17.33" height="1.95" fill="#feeeef" />
<rect x="116.92" y="175.4" width="17.33" height="1.95" fill="#e1e2f2" />
<rect x="134.2" y="175.4" width="17.33" height="1.95" fill="#ccceea" />
<rect x="151.48" y="175.4" width="17.33" height="1.95" fill="#b7bae1" />
<rect x="168.76" y="175.4" width="17.33" height="1.95" fill="#c6c8e7" />
<rect x="186.04" y="175.4" width="17.33" height="1.95" fill="#cdcfea" />
<rect x="203.32" y="175.4" width="17.33" height="1.95" fill="#ced0ea" />
<rect x="47.8" y="177.3" width="17.33" height="1.95" fill="#f79fa2" />
<rect x="65.08" y="177.3" width="17.33" height="1.95" fill="#f69da1" />
<rect x="82.36" y="177.3" width="17.33" height="1.95" fill="#fffafa" />
<rect x="99.64" y="177.3" width="17.33" height="1.95" fill="#f9c0c3" />
<rect x="116.92" y="177.3" width="17.33" height="1.95" fill="#f8f8fc" />
<rect x="134.2" y="177.3" width="17.33" height="1.95" fill="#cfd1eb" />
<rect x="151.48" y="177.3" width="17.33" height="1.95" fill="#c5c7e6" />
<rect x="168.76" y="177.3" width="17.33" height="1.95" fill="#e6e7f5" />
<rect x="186.04" y="177.3" width="17.33" height="1.95" fill="#c4c6e6" />
<rect x="203.32" y="177.3" width="17.33" height="1.95" fill="#d2d4ec" />
<rect x="47.8" y="179.2" width="17.33" height="1.95" fill="#f7a8ab" />
<rect x="65.08" y="179.2" width="17.33" height="1.95" fill="#f69497" />
<rect x="82.36" y="179.2" width="17.33" height="1.95" fill="#fcdadb" />
<rect x="99.64" y="179.2" width="17.33" height="1.95" fill="#fdfdfe" />
<rect x="116.92" y="179.2" width="17.33" height="1.95" fill="#fffdfd" />
<rect x="134.2" y="179.2" width="17.33" height="1.95" fill="#dadbef" />
<rect x="151.48" y="179.2" width="17.33" height="1.95" fill="#c6c8e7" />
<rect x="168.76" y="179.2" width="17.33" height="1.95" fill="#d7d9ee" />
<rect x="186.04" y="179.2" width="17.33" height="1.95" fill="#d7d8ee" />
<rect x="203.32" y="179.2" width="17.33" height="1.95" fill="#d1d3ec" />
<rect x="47.8" y="181.1" width="17.33" height="1.95" fill="#f8abae" />
<rect x="65.08" y="181.1" width="17.33" height="1.95" fill="#f7a7aa" />
<rect x="82.36" y="181.1" width="17.33" height="1.95" fill="#fffdfd" />
<rect x="99.64" y="181.1" width="17.33" height="1.95" fill="#fcdadc" />
<rect x="116.92" y="181.1" width="17.33" height="1.95" fill="#fffefe" />
<rect x="134.2" y="181.1" width="17.33" height="1.95" fill="#edeef7" />
<rect x="151.48" y="181.1" width="17.33" height="1.95" fill="#c5c8e7" />
<rect x="168.76" y="181.1" width="17.33" height="1.95" fill="#d9daef" />
<rect x="186.04" y="181.1" width="17.33" height="1.95" fill="#dcdef0" />
<rect x="203.32" y="181.1" width="17.33" height="1.95" fill="#c9cbe8" />
<rect x="47.8" y="183" width="17.33" height="1.95" fill="#f69da1" />
<rect x="65.08" y="183" width="17.33" height="1.95" fill="#f7a0a4" />
<rect x="82.36" y="183" width="17.33" height="1.95" fill="#fef5f6" />
<rect x="99.64" y="183" width="17.33" height="1.95" fill="#fdeaea" />
<rect x="116.92" y="183" width="17.33" height="1.95" fill="#f2f2f9" />
<rect x="134.2" y="183" width="17.33" height="1.95" fill="#dee0f1" />
<rect x="151.48" y="183" width="17.33" height="1.95" fill="#cacce9" />
<rect x="168.76" y="183" width="17.33" height="1.95" fill="#c5c7e6" />
<rect x="186.04" y="183" width="17.33" height="1.95" fill="#cccee9" />
<rect x="203.32" y="183" width="17.33" height="1.95" fill="#cecfea" />
<rect x="47.8" y="184.9" width="17.33" height="1.95" fill="#f58f93" />
<rect x="65.08" y="184.9" width="17.33" height="1.95" fill="#f6969a" />
<rect x="82.36" y="184.9" width="17.33" height="1.95" fill="#fde9ea" />
<rect x="99.64" y="184.9" width="17.33" height="1.95" fill="#fde6e7" />
<rect x="116.92" y="184.9" width="17.33" height="1.95" fill="#fefeff" />
<rect x="134.2" y="184.9" width="17.33" height="1.95" fill="#f4f5fa" />
<rect x="151.48" y="184.9" width="17.33" height="1.95" fill="#dddef1" />
<rect x="168.76" y="184.9" width="17.33" height="1.95" fill="#eaebf6" />
<rect x="186.04" y="184.9" width="17.33" height="1.95" fill="#d9dbef" />
<rect x="203.32" y="184.9" width="17.33" height="1.95" fill="#e8e9f5" />
<rect x="47.8" y="186.8" width="17.33" height="1.95" fill="#f7a9ac" />
<rect x="65.08" y="186.8" width="17.33" height="1.95" fill="#f69ea1" />
<rect x="82.36" y="186.8" width="17.33" height="1.95" fill="#fdebec" />
<rect x="99.64" y="186.8" width="17.33" height="1.95" fill="#fef4f4" />
<rect x="116.92" y="186.8" width="17.33" height="1.95" fill="#f4f4fa" />
<rect x="134.2" y="186.8" width="17.33" height="1.95" fill="#d3d5ec" />
<rect x="151.48" y="186.8" width="17.33" height="1.95" fill="#e2e3f3" />
<rect x="168.76" y="186.8" width="17.33" height="1.95" fill="#ced0eb" />
<rect x="186.04" y="186.8" width="17.33" height="1.95" fill="#cccee9" />
<rect x="203.32" y="186.8" width="17.33" height="1.95" fill="#e5e6f4" />
<rect x="47.8" y="188.7" width="17.33" height="1.95" fill="#f7a2a5" />
<rect x="65.08" y="188.7" width="17.33" height="1.95" fill="#f8acaf" />
<rect x="82.36" y="188.7" width="17.33" height="1.95" fill="#fef7f7" />
<rect x="99.64" y="188.7" width="17.33" height="1.95" fill="#fefefe" />
<rect x="116.92" y="188.7" width="17.33" height="1.95" fill="#dddff1" />
<rect x="134.2" y="188.7" width="17.33" height="1.95" fill="#c4c6e6" />
<rect x="151.48" y="188.7" width="17.33" height="1.95" fill="#d7d9ee" />
<rect x="168.76" y="188.7" width="17.33" height="1.95" fill="#c5c7e6" />
<rect x="186.04" y="188.7" width="17.33" height="1.95" fill="#c5c7e7" />
<rect x="203.32" y="188.7" width="17.33" height="1.95" fill="#e0e2f2" />
<rect x="47.8" y="190.6" width="17.33" height="1.95" fill="#f7a9ac" />
<rect x="65.08" y="190.6" width="17.33" height="1.95" fill="#f8adb0" />
<rect x="82.36" y="190.6" width="17.33" height="1.95" fill="#fffafa" />
<rect x="99.64" y="190.6" width="17.33" height="1.95" fill="#f2f2f9" />
<rect x="116.92" y="190.6" width="17.33" height="1.95" fill="#eaebf6" />
<rect x="134.2" y="190.6" width="17.33" height="1.95" fill="#ecedf7" />
<rect x="151.48" y="190.6" width="17.33" height="1.95" fill="#d6d8ee" />
<rect x="168.76" y="190.6" width="17.33" height="1.95" fill="#b0b3de" />
<rect x="186.04" y="190.6" width="17.33" height="1.95" fill="#bdbfe3" />
<rect x="203.32" y="190.6" width="17.33" height="1.95" fill="#dadbef" />
<rect x="47.8" y="192.5" width="17.33" height="1.95" fill="#f7a8ab" />
<rect x="65.08" y="192.5" width="17.33" height="1.95" fill="#f69c9f" />
<rect x="82.36" y="192.5" width="17.33" height="1.95" fill="#f1f2f9" />
<rect x="99.64" y="192.5" width="17.33" height="1.95" fill="#fcd7d9" />
<rect x="116.92" y="192.5" width="17.33" height="1.95" fill="#f3f3fa" />
<rect x="134.2" y="192.5" width="17.33" height="1.95" fill="#e7e8f5" />
<rect x="151.48" y="192.5" width="17.33" height="1.95" fill="#d4d6ed" />
<rect x="168.76" y="192.5" width="17.33" height="1.95" fill="#dedff1" />
<rect x="186.04" y="192.5" width="17.33" height="1.95" fill="#d3d5ed" />
<rect x="203.32" y="192.5" width="17.33" height="1.95" fill="#d4d5ed" />
<rect x="47.8" y="194.4" width="17.33" height="1.95" fill="#f69da1" />
<rect x="65.08" y="194.4" width="17.33" height="1.95" fill="#f8b1b4" />
<rect x="82.36" y="194.4" width="17.33" height="1.95" fill="#fcdedf" />
<rect x="99.64" y="194.4" width="17.33" height="1.95" fill="#fbd2d4" />
<rect x="116.92" y="194.4" width="17.33" height="1.95" fill="#fffafa" />
<rect x="134.2" y="194.4" width="17.33" height="1.95" fill="#e7e8f5" />
<rect x="151.48" y="194.4" width="17.33" height="1.95" fill="#dbdcf0" />
<rect x="168.76" y="194.4" width="17.33" height="1.95" fill="#d6d7ee" />
<rect x="186.04" y="194.4" width="17.33" height="1.95" fill="#d1d3ec" />
<rect x="203.32" y="194.4" width="17.33" height="1.95" fill="#e0e1f2" />
<rect x="47.8" y="196.3" width="17.33" height="1.95" fill="#f8abae" />
<rect x="65.08" y="196.3" width="17.33" height="1.95" fill="#f59296" />
<rect x="82.36" y="196.3" width="17.33" height="1.95" fill="#f5f5fb" />
<rect x="99.64" y="196.3" width="17.33" height="1.95" fill="#fafbfd" />
<rect x="116.92" y="196.3" width="17.33" height="1.95" fill="#edeef7" />
<rect x="134.2" y="196.3" width="17.33" height="1.95" fill="#f1f1f9" />
<rect x="151.48" y="196.3" width="17.33" height="1.95" fill="#d1d3eb" />
<rect x="168.76" y="196.3" width="17.33" height="1.95" fill="#d4d5ed" />
<rect x="186.04" y="196.3" width="17.33" height="1.95" fill="#cfd1eb" />
<rect x="203.32" y="196.3" width="17.33" height="1.95" fill="#d4d6ed" />
<rect x="47.8" y="198.2" width="17.33" height="1.95" fill="#f7a2a5" />
<rect x="65.08" y="198.2" width="17.33" height="1.95" fill="#f8aaad" />
<rect x="82.36" y="198.2" width="17.33" height="1.95" fill="#fef0f0" />
<rect x="99.64" y="198.2" width="17.33" height="1.95" fill="#f5f5fb" />
<rect x="116.92" y="198.2" width="17.33" height="1.95" fill="#fffcfc" />
<rect x="134.2" y="198.2" width="17.33" height="1.95" fill="#d1d2eb" />
<rect x="151.48" y="198.2" width="17.33" height="1.95" fill="#b5b7e0" />
<rect x="168.76" y="198.2" width="17.33" height="1.95" fill="#cccee9" />
<rect x="186.04" y="198.2" width="17.33" height="1.95" fill="#d3d5ed" />
<rect x="203.32" y="198.2" width="17.33" height="1.95" fill="#dedff1" />
<rect x="47.8" y="200.1" width="17.33" height="1.95" fill="#f7a5a9" />
<rect x="65.08" y="200.1" width="17.33" height="1.95" fill="#f69ca0" />
<rect x="82.36" y="200.1" width="17.33" height="1.95" fill="#f7f8fc" />
<rect x="99.64" y="200.1" width="17.33" height="1.95" fill="#f5f5fb" />
<rect x="116.92" y="200.1" width="17.33" height="1.95" fill="#dcdef0" />
<rect x="134.2" y="200.1" width="17.33" height="1.95" fill="#dfe1f2" />
<rect x="151.48" y="200.1" width="17.33" height="1.95" fill="#d7d9ee" />
<rect x="168.76" y="200.1" width="17.33" height="1.95" fill="#dadbef" />
<rect x="186.04" y="200.1" width="17.33" height="1.95" fill="#dddff1" />
<rect x="203.32" y="200.1" width="17.33" height="1.95" fill="#e7e8f5" />
<rect x="47.8" y="202" width="17.33" height="1.95" fill="#f69b9f" />
<rect x="65.08" y="202" width="17.33" height="1.95" fill="#f8b4b7" />
<rect x="82.36" y="202" width="17.33" height="1.95" fill="#feffff" />
<rect x="99.64" y="202" width="17.33" height="1.95" fill="#fdedee" />
<rect x="116.92" y="202" width="17.33" height="1.95" fill="#ebebf6" />
<rect x="134.2" y="202" width="17.33" height="1.95" fill="#e9eaf6" />
<rect x="151.48" y="202" width="17.33" height="1.95" fill="#e4e5f4" />
<rect x="168.76" y="202" width="17.33" height="1.95" fill="#dddef1" />
<rect x="186.04" y="202" width="17.33" height="1.95" fill="#d3d4ec" />
<rect x="203.32" y="202" width="17.33" height="1.95" fill="#d6d8ee" />
<rect x="47.8" y="203.9" width="17.33" height="1.95" fill="#f7a8ab" />
<rect x="65.08" y="203.9" width="17.33" height="1.95" fill="#f7a2a5" />
<rect x="82.36" y="203.9" width="17.33" height="1.95" fill="#fef1f1" />
<rect x="99.64" y="203.9" width="17.33" height="1.95" fill="#fdeaeb" />
<rect x="116.92" y="203.9" width="17.33" height="1.95" fill="#fffbfb" />
<rect x="134.2" y="203.9" width="17.33" height="1.95" fill="#e5e6f4" />
<rect x="151.48" y="203.9" width="17.33" height="1.95" fill="#ccceea" />
<rect x="168.76" y="203.9" width="17.33" height="1.95" fill="#f0f0f9" />
<rect x="186.04" y="203.9" width="17.33" height="1.95" fill="#e5e6f4" />
<rect x="203.32" y="203.9" width="17.33" height="1.95" fill="#eeeff8" />
<rect x="47.8" y="205.8" width="17.33" height="1.55" fill="#f79fa3" />
<rect x="65.08" y="205.8" width="17.33" height="1.55" fill="#f69ea1" />
<rect x="82.36" y="205.8" width="17.33" height="1.55" fill="#fde3e4" />
<rect x="99.64" y="205.8" width="17.33" height="1.55" fill="#fffafa" />
<rect x="116.92" y="205.8" width="17.33" height="1.55" fill="#eeeef8" />
<rect x="134.2" y="205.8" width="17.33" height="1.55" fill="#e7e8f5" />
<rect x="151.48" y="205.8" width="17.33" height="1.55" fill="#d7d9ee" />
<rect x="168.76" y="205.8" width="17.33" height="1.55" fill="#dfe0f1" />
<rect x="186.04" y="205.8" width="17.33" height="1.55" fill="#d4d5ed" />
<rect x="203.32" y="205.8" width="17.33" height="1.55" fill="#c5c7e7" />
<rect x="47.8" y="207.3" width="17.33" height="1.95" fill="#868bcc" />
<rect x="65.08" y="207.3" width="17.33" height="1.95" fill="#a3a7d8" />
<rect x="82.36" y="207.3" width="17.33" height="1.95" fill="#f2f3fa" />
<rect x="99.64" y="207.3" width="17.33" height="1.95" fill="#545bb7" />
<rect x="116.92" y="207.3" width="17.33" height="1.95" fill="#fce2e3" />
<rect x="134.2" y="207.3" width="17.33" height="1.95" fill="#f48084" />
<rect x="151.48" y="207.3" width="17.33" height="1.95" fill="#fac8ca" />
<rect x="168.76" y="207.3" width="17.33" height="1.95" fill="#f8b1b4" />
<rect x="186.04" y="207.3" width="17.33" height="1.95" fill="#f79fa2" />
<rect x="203.32" y="207.3" width="17.33" height="1.95" fill="#f9b7b9" />
<rect x="47.8" y="209.2" width="17.33" height="1.95" fill="#797ec6" />
<rect x="65.08" y="209.2" width="17.33" height="1.95" fill="#7d82c8" />
<rect x="82.36" y="209.2" width="17.33" height="1.95" fill="#dbdcf0" />
<rect x="99.64" y="209.2" width="17.33" height="1.95" fill="#2c34a6" />
<rect x="116.92" y="209.2" width="17.33" height="1.95" fill="#fcdbdc" />
<rect x="134.2" y="209.2" width="17.33" height="1.95" fill="#f48186" />
<rect x="151.48" y="209.2" width="17.33" height="1.95" fill="#f8b2b4" />
<rect x="168.76" y="209.2" width="17.33" height="1.95" fill="#f9bdbf" />
<rect x="186.04" y="209.2" width="17.33" height="1.95" fill="#f8abae" />
<rect x="203.32" y="209.2" width="17.33" height="1.95" fill="#fbd0d1" />
<rect x="47.8" y="211.1" width="17.33" height="1.95" fill="#696ec0" />
<rect x="65.08" y="211.1" width="17.33" height="1.95" fill="#b1b4de" />
<rect x="82.36" y="211.1" width="17.33" height="1.95" fill="#c3c6e6" />
<rect x="99.64" y="211.1" width="17.33" height="1.95" fill="#5258b6" />
<rect x="116.92" y="211.1" width="17.33" height="1.95" fill="#fbcfd1" />
<rect x="134.2" y="211.1" width="17.33" height="1.95" fill="#f58b8f" />
<rect x="151.48" y="211.1" width="17.33" height="1.95" fill="#f9bfc2" />
<rect x="168.76" y="211.1" width="17.33" height="1.95" fill="#fac1c3" />
<rect x="186.04" y="211.1" width="17.33" height="1.95" fill="#f7a3a7" />
<rect x="203.32" y="211.1" width="17.33" height="1.95" fill="#f7a8ab" />
<rect x="47.8" y="213" width="17.33" height="1.95" fill="#afb2dd" />
<rect x="65.08" y="213" width="17.33" height="1.95" fill="#c0c3e4" />
<rect x="82.36" y="213" width="17.33" height="1.95" fill="#cfd0eb" />
<rect x="99.64" y="213" width="17.33" height="1.95" fill="#9a9ed4" />
<rect x="116.92" y="213" width="17.33" height="1.95" fill="#fcdbdc" />
<rect x="134.2" y="213" width="17.33" height="1.95" fill="#fffafa" />
<rect x="151.48" y="213" width="17.33" height="1.95" fill="#fbd6d8" />
<rect x="168.76" y="213" width="17.33" height="1.95" fill="#facbcd" />
<rect x="186.04" y="213" width="17.33" height="1.95" fill="#fcd7d9" />
<rect x="203.32" y="213" width="17.33" height="1.95" fill="#f9bdbf" />
<rect x="47.8" y="214.9" width="17.33" height="1.95" fill="#b4b7df" />
<rect x="65.08" y="214.9" width="17.33" height="1.95" fill="#d4d6ed" />
<rect x="82.36" y="214.9" width="17.33" height="1.95" fill="#f9f9fd" />
<rect x="99.64" y="214.9" width="17.33" height="1.95" fill="#777cc5" />
<rect x="116.92" y="214.9" width="17.33" height="1.95" fill="#fcdadb" />
<rect x="134.2" y="214.9" width="17.33" height="1.95" fill="#fce1e2" />
<rect x="151.48" y="214.9" width="17.33" height="1.95" fill="#fbd4d5" />
<rect x="168.76" y="214.9" width="17.33" height="1.95" fill="#fac9cb" />
<rect x="186.04" y="214.9" width="17.33" height="1.95" fill="#fbcfd1" />
<rect x="203.32" y="214.9" width="17.33" height="1.95" fill="#fcddde" />
<rect x="47.8" y="216.8" width="17.33" height="1.95" fill="#a8acda" />
<rect x="65.08" y="216.8" width="17.33" height="1.95" fill="#bec1e4" />
<rect x="82.36" y="216.8" width="17.33" height="1.95" fill="#d1d3ec" />
<rect x="99.64" y="216.8" width="17.33" height="1.95" fill="#7f84c9" />
<rect x="116.92" y="216.8" width="17.33" height="1.95" fill="#fef2f2" />
<rect x="134.2" y="216.8" width="17.33" height="1.95" fill="#fac7c9" />
<rect x="151.48" y="216.8" width="17.33" height="1.95" fill="#fcddde" />
<rect x="168.76" y="216.8" width="17.33" height="1.95" fill="#fdecec" />
<rect x="186.04" y="216.8" width="17.33" height="1.95" fill="#fcdfe0" />
<rect x="203.32" y="216.8" width="17.33" height="1.95" fill="#fbd2d3" />
<rect x="47.8" y="218.7" width="17.33" height="1.95" fill="#a7aada" />
<rect x="65.08" y="218.7" width="17.33" height="1.95" fill="#b8bae1" />
<rect x="82.36" y="218.7" width="17.33" height="1.95" fill="#c8cae8" />
<rect x="99.64" y="218.7" width="17.33" height="1.95" fill="#9ca0d5" />
<rect x="116.92" y="218.7" width="17.33" height="1.95" fill="#fefefe" />
<rect x="134.2" y="218.7" width="17.33" height="1.95" fill="#f9bdc0" />
<rect x="151.48" y="218.7" width="17.33" height="1.95" fill="#fde3e4" />
<rect x="168.76" y="218.7" width="17.33" height="1.95" fill="#fdeded" />
<rect x="186.04" y="218.7" width="17.33" height="1.95" fill="#fbd4d6" />
<rect x="203.32" y="218.7" width="17.33" height="1.95" fill="#feeeef" />
<rect x="47.8" y="220.6" width="17.33" height="1.95" fill="#c2c5e5" />
<rect x="65.08" y="220.6" width="17.33" height="1.95" fill="#b5b8e0" />
<rect x="82.36" y="220.6" width="17.33" height="1.95" fill="#d8d9ee" />
<rect x="99.64" y="220.6" width="17.33" height="1.95" fill="#a6aada" />
<rect x="116.92" y="220.6" width="17.33" height="1.95" fill="#fdeced" />
<rect x="134.2" y="220.6" width="17.33" height="1.95" fill="#fce2e3" />
<rect x="151.48" y="220.6" width="17.33" height="1.95" fill="#fbd4d5" />
<rect x="168.76" y="220.6" width="17.33" height="1.95" fill="#fac6c8" />
<rect x="186.04" y="220.6" width="17.33" height="1.95" fill="#fbd7d8" />
<rect x="203.32" y="220.6" width="17.33" height="1.95" fill="#fbd4d5" />
<rect x="47.8" y="222.5" width="17.33" height="1.95" fill="#8c90ce" />
<rect x="65.08" y="222.5" width="17.33" height="1.95" fill="#bec0e4" />
<rect x="82.36" y="222.5" width="17.33" height="1.95" fill="#c6c8e7" />
<rect x="99.64" y="222.5" width="17.33" height="1.95" fill="#767bc5" />
<rect x="116.92" y="222.5" width="17.33" height="1.95" fill="#fbd1d2" />
<rect x="134.2" y="222.5" width="17.33" height="1.95" fill="#fcd9da" />
<rect x="151.48" y="222.5" width="17.33" height="1.95" fill="#fac4c6" />
<rect x="168.76" y="222.5" width="17.33" height="1.95" fill="#fcd7d9" />
<rect x="186.04" y="222.5" width="17.33" height="1.95" fill="#fac7c9" />
<rect x="203.32" y="222.5" width="17.33" height="1.95" fill="#fbd6d7" />
<rect x="47.8" y="224.4" width="17.33" height="1.95" fill="#afb2dd" />
<rect x="65.08" y="224.4" width="17.33" height="1.95" fill="#bcbfe3" />
<rect x="82.36" y="224.4" width="17.33" height="1.95" fill="#edeef7" />
<rect x="99.64" y="224.4" width="17.33" height="1.95" fill="#9094d0" />
<rect x="116.92" y="224.4" width="17.33" height="1.95" fill="#fde9ea" />
<rect x="134.2" y="224.4" width="17.33" height="1.95" fill="#fef2f2" />
<rect x="151.48" y="224.4" width="17.33" height="1.95" fill="#fcdddf" />
<rect x="168.76" y="224.4" width="17.33" height="1.95" fill="#fdeeef" />
<rect x="186.04" y="224.4" width="17.33" height="1.95" fill="#faccce" />
<rect x="203.32" y="224.4" width="17.33" height="1.95" fill="#fce1e2" />
<rect x="47.8" y="226.3" width="17.33" height="1.95" fill="#b0b3de" />
<rect x="65.08" y="226.3" width="17.33" height="1.95" fill="#cfd1eb" />
<rect x="82.36" y="226.3" width="17.33" height="1.95" fill="#e3e4f3" />
<rect x="99.64" y="226.3" width="17.33" height="1.95" fill="#9b9fd5" />
<rect x="116.92" y="226.3" width="17.33" height="1.95" fill="#fde8e9" />
<rect x="134.2" y="226.3" width="17.33" height="1.95" fill="#fcdcdd" />
<rect x="151.48" y="226.3" width="17.33" height="1.95" fill="#fbd3d5" />
<rect x="168.76" y="226.3" width="17.33" height="1.95" fill="#fbd6d7" />
<rect x="186.04" y="226.3" width="17.33" height="1.95" fill="#fac6c8" />
<rect x="203.32" y="226.3" width="17.33" height="1.95" fill="#fac6c8" />
<rect x="47.8" y="228.2" width="17.33" height="1.95" fill="#a0a4d7" />
<rect x="65.08" y="228.2" width="17.33" height="1.95" fill="#e0e1f2" />
<rect x="82.36" y="228.2" width="17.33" height="1.95" fill="#fdfdfe" />
<rect x="99.64" y="228.2" width="17.33" height="1.95" fill="#9a9ed4" />
<rect x="116.92" y="228.2" width="17.33" height="1.95" fill="#fdeaeb" />
<rect x="134.2" y="228.2" width="17.33" height="1.95" fill="#dfe0f1" />
<rect x="151.48" y="228.2" width="17.33" height="1.95" fill="#fbd0d1" />
<rect x="168.76" y="228.2" width="17.33" height="1.95" fill="#fde4e5" />
<rect x="186.04" y="228.2" width="17.33" height="1.95" fill="#f9bdbf" />
<rect x="203.32" y="228.2" width="17.33" height="1.95" fill="#fef1f1" />
<rect x="47.8" y="230.1" width="17.33" height="1.95" fill="#c1c3e5" />
<rect x="65.08" y="230.1" width="17.33" height="1.95" fill="#b8bae1" />
<rect x="82.36" y="230.1" width="17.33" height="1.95" fill="#d1d2eb" />
<rect x="99.64" y="230.1" width="17.33" height="1.95" fill="#a6a9d9" />
<rect x="116.92" y="230.1" width="17.33" height="1.95" fill="#feeeef" />
<rect x="134.2" y="230.1" width="17.33" height="1.95" fill="#fef1f2" />
<rect x="151.48" y="230.1" width="17.33" height="1.95" fill="#fcddde" />
<rect x="168.76" y="230.1" width="17.33" height="1.95" fill="#fce2e3" />
<rect x="186.04" y="230.1" width="17.33" height="1.95" fill="#fcd8d9" />
<rect x="203.32" y="230.1" width="17.33" height="1.95" fill="#fbcfd1" />
<rect x="47.8" y="232" width="17.33" height="1.95" fill="#b6b9e0" />
<rect x="65.08" y="232" width="17.33" height="1.95" fill="#afb2dd" />
<rect x="82.36" y="232" width="17.33" height="1.95" fill="#e6e7f5" />
<rect x="99.64" y="232" width="17.33" height="1.95" fill="#888dcd" />
<rect x="116.92" y="232" width="17.33" height="1.95" fill="#fde4e5" />
<rect x="134.2" y="232" width="17.33" height="1.95" fill="#bec0e3" />
<rect x="151.48" y="232" width="17.33" height="1.95" fill="#fdeaea" />
<rect x="168.76" y="232" width="17.33" height="1.95" fill="#fef1f2" />
<rect x="186.04" y="232" width="17.33" height="1.95" fill="#fbcdcf" />
<rect x="203.32" y="232" width="17.33" height="1.95" fill="#fcd8da" />
<rect x="47.8" y="233.9" width="17.33" height="1.95" fill="#a4a8d9" />
<rect x="65.08" y="233.9" width="17.33" height="1.95" fill="#cfd1eb" />
<rect x="82.36" y="233.9" width="17.33" height="1.95" fill="#d4d5ed" />
<rect x="99.64" y="233.9" width="17.33" height="1.95" fill="#aaaddb" />
<rect x="116.92" y="233.9" width="17.33" height="1.95" fill="#fefeff" />
<rect x="134.2" y="233.9" width="17.33" height="1.95" fill="#e3e4f3" />
<rect x="151.48" y="233.9" width="17.33" height="1.95" fill="#fcdfe0" />
<rect x="168.76" y="233.9" width="17.33" height="1.95" fill="#facbcd" />
<rect x="186.04" y="233.9" width="17.33" height="1.95" fill="#fde5e6" />
<rect x="203.32" y="233.9" width="17.33" height="1.95" fill="#fcdbdc" />
<rect x="47.8" y="235.8" width="17.33" height="1.95" fill="#c6c8e7" />
<rect x="65.08" y="235.8" width="17.33" height="1.95" fill="#b2b5de" />
<rect x="82.36" y="235.8" width="17.33" height="1.95" fill="#d0d2eb" />
<rect x="99.64" y="235.8" width="17.33" height="1.95" fill="#7e83c9" />
<rect x="116.92" y="235.8" width="17.33" height="1.95" fill="#fef4f5" />
<rect x="134.2" y="235.8" width="17.33" height="1.95" fill="#fde9ea" />
<rect x="151.48" y="235.8" width="17.33" height="1.95" fill="#fbd4d6" />
<rect x="168.76" y="235.8" width="17.33" height="1.95" fill="#fef1f1" />
<rect x="186.04" y="235.8" width="17.33" height="1.95" fill="#fbd2d4" />
<rect x="203.32" y="235.8" width="17.33" height="1.95" fill="#fde4e5" />
<rect x="47.8" y="237.7" width="17.33" height="1.95" fill="#a4a7d8" />
<rect x="65.08" y="237.7" width="17.33" height="1.95" fill="#a0a3d7" />
<rect x="82.36" y="237.7" width="17.33" height="1.95" fill="#c9cbe8" />
<rect x="99.64" y="237.7" width="17.33" height="1.95" fill="#cacce9" />
<rect x="116.92" y="237.7" width="17.33" height="1.95" fill="#fef8f8" />
<rect x="134.2" y="237.7" width="17.33" height="1.95" fill="#fef8f9" />
<rect x="151.48" y="237.7" width="17.33" height="1.95" fill="#fbd4d5" />
<rect x="168.76" y="237.7" width="17.33" height="1.95" fill="#fef8f8" />
<rect x="186.04" y="237.7" width="17.33" height="1.95" fill="#fbd5d6" />
<rect x="203.32" y="237.7" width="17.33" height="1.95" fill="#fce2e3" />
<rect x="47.8" y="239.6" width="17.33" height="1.95" fill="#c6c8e7" />
<rect x="65.08" y="239.6" width="17.33" height="1.95" fill="#bec0e3" />
<rect x="82.36" y="239.6" width="17.33" height="1.95" fill="#dadbef" />
<rect x="99.64" y="239.6" width="17.33" height="1.95" fill="#bdc0e3" />
<rect x="116.92" y="239.6" width="17.33" height="1.95" fill="#fde5e6" />
<rect x="134.2" y="239.6" width="17.33" height="1.95" fill="#ffffff" />
<rect x="151.48" y="239.6" width="17.33" height="1.95" fill="#fce0e1" />
<rect x="168.76" y="239.6" width="17.33" height="1.95" fill="#fdedee" />
<rect x="186.04" y="239.6" width="17.33" height="1.95" fill="#fac9cb" />
<rect x="203.32" y="239.6" width="17.33" height="1.95" fill="#fde8e9" />
<rect x="47.8" y="241.5" width="17.33" height="1.95" fill="#d6d8ee" />
<rect x="65.08" y="241.5" width="17.33" height="1.95" fill="#cfd1eb" />
<rect x="82.36" y="241.5" width="17.33" height="1.95" fill="#d9daef" />
<rect x="99.64" y="241.5" width="17.33" height="1.95" fill="#a4a7d8" />
<rect x="116.92" y="241.5" width="17.33" height="1.95" fill="#fef0f1" />
<rect x="134.2" y="241.5" width="17.33" height="1.95" fill="#fbcdcf" />
<rect x="151.48" y="241.5" width="17.33" height="1.95" fill="#fcdadb" />
<rect x="168.76" y="241.5" width="17.33" height="1.95" fill="#fcdedf" />
<rect x="186.04" y="241.5" width="17.33" height="1.95" fill="#f9babd" />
<rect x="203.32" y="241.5" width="17.33" height="1.95" fill="#fde4e5" />
<rect x="47.8" y="243.4" width="17.33" height="1.95" fill="#aeb1dd" />
<rect x="65.08" y="243.4" width="17.33" height="1.95" fill="#c2c4e5" />
<rect x="82.36" y="243.4" width="17.33" height="1.95" fill="#dee0f1" />
<rect x="99.64" y="243.4" width="17.33" height="1.95" fill="#acafdc" />
<rect x="116.92" y="243.4" width="17.33" height="1.95" fill="#fde8e9" />
<rect x="134.2" y="243.4" width="17.33" height="1.95" fill="#fcdcde" />
<rect x="151.48" y="243.4" width="17.33" height="1.95" fill="#fde6e6" />
<rect x="168.76" y="243.4" width="17.33" height="1.95" fill="#fffefe" />
<rect x="186.04" y="243.4" width="17.33" height="1.95" fill="#fbd3d5" />
<rect x="203.32" y="243.4" width="17.33" height="1.95" fill="#fde9ea" />
<rect x="47.8" y="245.3" width="17.33" height="1.95" fill="#b1b4de" />
<rect x="65.08" y="245.3" width="17.33" height="1.95" fill="#a7abda" />
<rect x="82.36" y="245.3" width="17.33" height="1.95" fill="#cdcfea" />
<rect x="99.64" y="245.3" width="17.33" height="1.95" fill="#b4b7df" />
<rect x="116.92" y="245.3" width="17.33" height="1.95" fill="#fef3f4" />
<rect x="134.2" y="245.3" width="17.33" height="1.95" fill="#fde6e7" />
<rect x="151.48" y="245.3" width="17.33" height="1.95" fill="#fdeeee" />
<rect x="168.76" y="245.3" width="17.33" height="1.95" fill="#fde7e8" />
<rect x="186.04" y="245.3" width="17.33" height="1.95" fill="#fdeaeb" />
<rect x="203.32" y="245.3" width="17.33" height="1.95" fill="#fde4e5" />
<rect x="47.8" y="247.2" width="17.33" height="1.95" fill="#b4b7e0" />
<rect x="65.08" y="247.2" width="17.33" height="1.95" fill="#a9acdb" />
<rect x="82.36" y="247.2" width="17.33" height="1.95" fill="#dbdcf0" />
<rect x="99.64" y="247.2" width="17.33" height="1.95" fill="#bdc0e3" />
<rect x="116.92" y="247.2" width="17.33" height="1.95" fill="#fce1e2" />
<rect x="134.2" y="247.2" width="17.33" height="1.95" fill="#fdecec" />
<rect x="151.48" y="247.2" width="17.33" height="1.95" fill="#fde4e5" />
<rect x="168.76" y="247.2" width="17.33" height="1.95" fill="#fdeced" />
<rect x="186.04" y="247.2" width="17.33" height="1.95" fill="#fac2c4" />
<rect x="203.32" y="247.2" width="17.33" height="1.95" fill="#fde6e7" />
<rect x="47.8" y="249.1" width="17.33" height="1.95" fill="#afb2dd" />
<rect x="65.08" y="249.1" width="17.33" height="1.95" fill="#9b9ed5" />
<rect x="82.36" y="249.1" width="17.33" height="1.95" fill="#e5e6f4" />
<rect x="99.64" y="249.1" width="17.33" height="1.95" fill="#b9bce1" />
<rect x="116.92" y="249.1" width="17.33" height="1.95" fill="#feeff0" />
<rect x="134.2" y="249.1" width="17.33" height="1.95" fill="#efeff8" />
<rect x="151.48" y="249.1" width="17.33" height="1.95" fill="#fdedee" />
<rect x="168.76" y="249.1" width="17.33" height="1.95" fill="#fcdedf" />
<rect x="186.04" y="249.1" width="17.33" height="1.95" fill="#fcd7d9" />
<rect x="203.32" y="249.1" width="17.33" height="1.95" fill="#fac4c6" />
<rect x="47.8" y="251" width="17.33" height="1.95" fill="#9ea1d6" />
<rect x="65.08" y="251" width="17.33" height="1.95" fill="#c9cbe8" />
<rect x="82.36" y="251" width="17.33" height="1.95" fill="#dedff1" />
<rect x="99.64" y="251" width="17.33" height="1.95" fill="#dbdcf0" />
<rect x="116.92" y="251" width="17.33" height="1.95" fill="#fde7e8" />
<rect x="134.2" y="251" width="17.33" height="1.95" fill="#fbd6d8" />
<rect x="151.48" y="251" width="17.33" height="1.95" fill="#fcdedf" />
<rect x="168.76" y="251" width="17.33" height="1.95" fill="#fbd3d5" />
<rect x="186.04" y="251" width="17.33" height="1.95" fill="#fac4c6" />
<rect x="203.32" y="251" width="17.33" height="1.95" fill="#fcdddf" />
<rect x="47.8" y="252.9" width="17.33" height="1.95" fill="#9ca0d5" />
<rect x="65.08" y="252.9" width="17.33" height="1.95" fill="#d2d4ec" />
<rect x="82.36" y="252.9" width="17.33" height="1.95" fill="#d5d7ed" />
<rect x="99.64" y="252.9" width="17.33" height="1.95" fill="#b1b4de" />
<rect x="116.92" y="252.9" width="17.33" height="1.95" fill="#fdfdfe" />
<rect x="134.2" y="252.9" width="17.33" height="1.95" fill="#fcd8da" />
<rect x="151.48" y="252.9" width="17.33" height="1.95" fill="#fdeaeb" />
<rect x="168.76" y="252.9" width="17.33" height="1.95" fill="#feefef" />
<rect x="186.04" y="252.9" width="17.33" height="1.95" fill="#fdeeee" />
<rect x="203.32" y="252.9" width="17.33" height="1.95" fill="#fdebec" />
<rect x="47.8" y="254.8" width="17.33" height="1.95" fill="#c2c5e5" />
<rect x="65.08" y="254.8" width="17.33" height="1.95" fill="#d8d9ee" />
<rect x="82.36" y="254.8" width="17.33" height="1.95" fill="#c1c3e5" />
<rect x="99.64" y="254.8" width="17.33" height="1.95" fill="#a4a8d9" />
<rect x="116.92" y="254.8" width="17.33" height="1.95" fill="#feeff0" />
<rect x="134.2" y="254.8" width="17.33" height="1.95" fill="#fdebec" />
<rect x="151.48" y="254.8" width="17.33" height="1.95" fill="#fef5f5" />
<rect x="168.76" y="254.8" width="17.33" height="1.95" fill="#fdeaeb" />
<rect x="186.04" y="254.8" width="17.33" height="1.95" fill="#fce2e3" />
<rect x="203.32" y="254.8" width="17.33" height="1.95" fill="#fde4e5" />
<rect x="47.8" y="256.7" width="17.33" height="1.95" fill="#b7b9e0" />
<rect x="65.08" y="256.7" width="17.33" height="1.95" fill="#d0d2eb" />
<rect x="82.36" y="256.7" width="17.33" height="1.95" fill="#e6e7f4" />
<rect x="99.64" y="256.7" width="17.33" height="1.95" fill="#ccceea" />
<rect x="116.92" y="256.7" width="17.33" height="1.95" fill="#fdedee" />
<rect x="134.2" y="256.7" width="17.33" height="1.95" fill="#fafafd" />
<rect x="151.48" y="256.7" width="17.33" height="1.95" fill="#fdeaeb" />
<rect x="168.76" y="256.7" width="17.33" height="1.95" fill="#fcdcde" />
<rect x="186.04" y="256.7" width="17.33" height="1.95" fill="#fcdddf" />
<rect x="203.32" y="256.7" width="17.33" height="1.95" fill="#fcd7d9" />
<rect x="47.8" y="258.6" width="17.33" height="1.95" fill="#bec0e3" />
<rect x="65.08" y="258.6" width="17.33" height="1.95" fill="#cdcfea" />
<rect x="82.36" y="258.6" width="17.33" height="1.95" fill="#cacce9" />
<rect x="99.64" y="258.6" width="17.33" height="1.95" fill="#c2c4e5" />
<rect x="116.92" y="258.6" width="17.33" height="1.95" fill="#fef1f1" />
<rect x="134.2" y="258.6" width="17.33" height="1.95" fill="#fbd1d3" />
<rect x="151.48" y="258.6" width="17.33" height="1.95" fill="#fde8e9" />
<rect x="168.76" y="258.6" width="17.33" height="1.95" fill="#fcdedf" />
<rect x="186.04" y="258.6" width="17.33" height="1.95" fill="#fcdfe1" />
<rect x="203.32" y="258.6" width="17.33" height="1.95" fill="#fbd7d8" />
<rect x="47.8" y="260.5" width="17.33" height="1.95" fill="#bcbfe3" />
<rect x="65.08" y="260.5" width="17.33" height="1.95" fill="#cacce9" />
<rect x="82.36" y="260.5" width="17.33" height="1.95" fill="#e5e6f4" />
<rect x="99.64" y="260.5" width="17.33" height="1.95" fill="#d7d9ee" />
<rect x="116.92" y="260.5" width="17.33" height="1.95" fill="#fdeced" />
<rect x="134.2" y="260.5" width="17.33" height="1.95" fill="#fde7e8" />
<rect x="151.48" y="260.5" width="17.33" height="1.95" fill="#fde3e4" />
<rect x="168.76" y="260.5" width="17.33" height="1.95" fill="#fde9ea" />
<rect x="186.04" y="260.5" width="17.33" height="1.95" fill="#fbd6d8" />
<rect x="203.32" y="260.5" width="17.33" height="1.95" fill="#fbd5d7" />
<rect x="47.8" y="262.4" width="17.33" height="1.95" fill="#d3d5ec" />
<rect x="65.08" y="262.4" width="17.33" height="1.95" fill="#b3b6df" />
<rect x="82.36" y="262.4" width="17.33" height="1.95" fill="#e5e6f4" />
<rect x="99.64" y="262.4" width="17.33" height="1.95" fill="#c7c9e8" />
<rect x="116.92" y="262.4" width="17.33" height="1.95" fill="#fcfcfe" />
<rect x="134.2" y="262.4" width="17.33" height="1.95" fill="#fef3f4" />
<rect x="151.48" y="262.4" width="17.33" height="1.95" fill="#fffafa" />
<rect x="168.76" y="262.4" width="17.33" height="1.95" fill="#fde9ea" />
<rect x="186.04" y="262.4" width="17.33" height="1.95" fill="#fcdadc" />
<rect x="203.32" y="262.4" width="17.33" height="1.95" fill="#fbcfd1" />
<rect x="47.8" y="264.3" width="17.33" height="1.95" fill="#a6a9d9" />
<rect x="65.08" y="264.3" width="17.33" height="1.95" fill="#c3c5e6" />
<rect x="82.36" y="264.3" width="17.33" height="1.95" fill="#f8f9fc" />
<rect x="99.64" y="264.3" width="17.33" height="1.95" fill="#cdcfea" />
<rect x="116.92" y="264.3" width="17.33" height="1.95" fill="#fcd9da" />
<rect x="134.2" y="264.3" width="17.33" height="1.95" fill="#ffffff" />
<rect x="151.48" y="264.3" width="17.33" height="1.95" fill="#fde5e6" />
<rect x="168.76" y="264.3" width="17.33" height="1.95" fill="#fdeeee" />
<rect x="186.04" y="264.3" width="17.33" height="1.95" fill="#fcddde" />
<rect x="203.32" y="264.3" width="17.33" height="1.95" fill="#fbccce" />
<rect x="47.8" y="266.2" width="17.33" height="1.95" fill="#c6c8e7" />
<rect x="65.08" y="266.2" width="17.33" height="1.95" fill="#c8cae8" />
<rect x="82.36" y="266.2" width="17.33" height="1.95" fill="#e5e6f4" />
<rect x="99.64" y="266.2" width="17.33" height="1.95" fill="#bbbee2" />
<rect x="116.92" y="266.2" width="17.33" height="1.95" fill="#fef3f4" />
<rect x="134.2" y="266.2" width="17.33" height="1.95" fill="#f8b3b6" />
<rect x="151.48" y="266.2" width="17.33" height="1.95" fill="#fef7f8" />
<rect x="168.76" y="266.2" width="17.33" height="1.95" fill="#fce0e1" />
<rect x="186.04" y="266.2" width="17.33" height="1.95" fill="#fbd2d4" />
<rect x="203.32" y="266.2" width="17.33" height="1.95" fill="#fce0e1" />
<rect x="47.8" y="268.1" width="17.33" height="1.95" fill="#9296d1" />
<rect x="65.08" y="268.1" width="17.33" height="1.95" fill="#cacce8" />
<rect x="82.36" y="268.1" width="17.33" height="1.95" fill="#d8d9ef" />
<rect x="99.64" y="268.1" width="17.33" height="1.95" fill="#c7c9e7" />
<rect x="116.92" y="268.1" width="17.33" height="1.95" fill="#fde5e6" />
<rect x="134.2" y="268.1" width="17.33" height="1.95" fill="#fbd6d7" />
<rect x="151.48" y="268.1" width="17.33" height="1.95" fill="#fde4e4" />
<rect x="168.76" y="268.1" width="17.33" height="1.95" fill="#fbd0d2" />
<rect x="186.04" y="268.1" width="17.33" height="1.95" fill="#fde6e7" />
<rect x="203.32" y="268.1" width="17.33" height="1.95" fill="#facbcd" />
<rect x="47.8" y="270" width="17.33" height="1.95" fill="#9da0d6" />
<rect x="65.08" y="270" width="17.33" height="1.95" fill="#a5a8d9" />
<rect x="82.36" y="270" width="17.33" height="1.95" fill="#c4c7e6" />
<rect x="99.64" y="270" width="17.33" height="1.95" fill="#b1b4de" />
<rect x="116.92" y="270" width="17.33" height="1.95" fill="#feeff0" />
<rect x="134.2" y="270" width="17.33" height="1.95" fill="#fac9cb" />
<rect x="151.48" y="270" width="17.33" height="1.95" fill="#fcddde" />
<rect x="168.76" y="270" width="17.33" height="1.95" fill="#fef5f5" />
<rect x="186.04" y="270" width="17.33" height="1.95" fill="#fffbfb" />
<rect x="203.32" y="270" width="17.33" height="1.95" fill="#fde6e7" />
<rect x="47.8" y="271.9" width="17.33" height="1.95" fill="#b2b5df" />
<rect x="65.08" y="271.9" width="17.33" height="1.95" fill="#b2b4de" />
<rect x="82.36" y="271.9" width="17.33" height="1.95" fill="#fbfbfd" />
<rect x="99.64" y="271.9" width="17.33" height="1.95" fill="#9ca0d5" />
<rect x="116.92" y="271.9" width="17.33" height="1.95" fill="#fef5f5" />
<rect x="134.2" y="271.9" width="17.33" height="1.95" fill="#fac1c3" />
<rect x="151.48" y="271.9" width="17.33" height="1.95" fill="#fef2f3" />
<rect x="168.76" y="271.9" width="17.33" height="1.95" fill="#fef7f7" />
<rect x="186.04" y="271.9" width="17.33" height="1.95" fill="#fbd6d7" />
<rect x="203.32" y="271.9" width="17.33" height="1.95" fill="#fcfcfe" />
<rect x="47.8" y="273.8" width="17.33" height="1.95" fill="#9ea2d6" />
<rect x="65.08" y="273.8" width="17.33" height="1.95" fill="#c3c5e6" />
<rect x="82.36" y="273.8" width="17.33" height="1.95" fill="#e0e1f2" />
<rect x="99.64" y="273.8" width="17.33" height="1.95" fill="#babde2" />
<rect x="116.92" y="273.8" width="17.33" height="1.95" fill="#fde6e7" />
<rect x="134.2" y="273.8" width="17.33" height="1.95" fill="#fdfdfe" />
<rect x="151.48" y="273.8" width="17.33" height="1.95" fill="#fef0f0" />
<rect x="168.76" y="273.8" width="17.33" height="1.95" fill="#fef3f4" />
<rect x="186.04" y="273.8" width="17.33" height="1.95" fill="#fcddde" />
<rect x="203.32" y="273.8" width="17.33" height="1.95" fill="#fdeced" />
<rect x="47.8" y="275.7" width="17.33" height="1.95" fill="#dadbef" />
<rect x="65.08" y="275.7" width="17.33" height="1.95" fill="#dbddf0" />
<rect x="82.36" y="275.7" width="17.33" height="1.95" fill="#ececf7" />
<rect x="99.64" y="275.7" width="17.33" height="1.95" fill="#acb0dc" />
<rect x="116.92" y="275.7" width="17.33" height="1.95" fill="#fffbfb" />
<rect x="134.2" y="275.7" width="17.33" height="1.95" fill="#fffafa" />
<rect x="151.48" y="275.7" width="17.33" height="1.95" fill="#fdebeb" />
<rect x="168.76" y="275.7" width="17.33" height="1.95" fill="#fdeded" />
<rect x="186.04" y="275.7" width="17.33" height="1.95" fill="#fde5e6" />
<rect x="203.32" y="275.7" width="17.33" height="1.95" fill="#fcdcde" />
<rect x="47.8" y="277.6" width="17.33" height="1.95" fill="#bec1e4" />
<rect x="65.08" y="277.6" width="17.33" height="1.95" fill="#bbbee2" />
<rect x="82.36" y="277.6" width="17.33" height="1.95" fill="#d4d6ed" />
<rect x="99.64" y="277.6" width="17.33" height="1.95" fill="#bec0e3" />
<rect x="116.92" y="277.6" width="17.33" height="1.95" fill="#feeeef" />
<rect x="134.2" y="277.6" width="17.33" height="1.95" fill="#fdeded" />
<rect x="151.48" y="277.6" width="17.33" height="1.95" fill="#fef4f5" />
<rect x="168.76" y="277.6" width="17.33" height="1.95" fill="#fde7e8" />
<rect x="186.04" y="277.6" width="17.33" height="1.95" fill="#fde5e6" />
<rect x="203.32" y="277.6" width="17.33" height="1.95" fill="#fce3e4" />
<rect x="47.8" y="279.5" width="17.33" height="1.95" fill="#d1d3ec" />
<rect x="65.08" y="279.5" width="17.33" height="1.95" fill="#cfd0eb" />
<rect x="82.36" y="279.5" width="17.33" height="1.95" fill="#d0d2eb" />
<rect x="99.64" y="279.5" width="17.33" height="1.95" fill="#b0b3de" />
<rect x="116.92" y="279.5" width="17.33" height="1.95" fill="#fffdfd" />
<rect x="134.2" y="279.5" width="17.33" height="1.95" fill="#fde3e4" />
<rect x="151.48" y="279.5" width="17.33" height="1.95" fill="#feeeef" />
<rect x="168.76" y="279.5" width="17.33" height="1.95" fill="#fdeaeb" />
<rect x="186.04" y="279.5" width="17.33" height="1.95" fill="#fce2e3" />
<rect x="203.32" y="279.5" width="17.33" height="1.95" fill="#fbd4d6" />
<rect x="47.8" y="281.4" width="17.33" height="1.95" fill="#cdcfea" />
<rect x="65.08" y="281.4" width="17.33" height="1.95" fill="#fafafd" />
<rect x="82.36" y="281.4" width="17.33" height="1.95" fill="#f7f7fb" />
<rect x="99.64" y="281.4" width="17.33" height="1.95" fill="#f0f1f9" />
<rect x="116.92" y="281.4" width="17.33" height="1.95" fill="#fde3e4" />
<rect x="134.2" y="281.4" width="17.33" height="1.95" fill="#f9f9fc" />
<rect x="151.48" y="281.4" width="17.33" height="1.95" fill="#fbd2d3" />
<rect x="168.76" y="281.4" width="17.33" height="1.95" fill="#fac8ca" />
<rect x="186.04" y="281.4" width="17.33" height="1.95" fill="#fde4e5" />
<rect x="203.32" y="281.4" width="17.33" height="1.95" fill="#fbd4d6" />
<rect x="47.8" y="283.3" width="17.33" height="1.95" fill="#cfd1eb" />
<rect x="65.08" y="283.3" width="17.33" height="1.95" fill="#b9bce2" />
<rect x="82.36" y="283.3" width="17.33" height="1.95" fill="#dcdef0" />
<rect x="99.64" y="283.3" width="17.33" height="1.95" fill="#e0e2f2" />
<rect x="116.92" y="283.3" width="17.33" height="1.95" fill="#fcdcdd" />
<rect x="134.2" y="283.3" width="17.33" height="1.95" fill="#fde9ea" />
<rect x="151.48" y="283.3" width="17.33" height="1.95" fill="#fcd8da" />
<rect x="168.76" y="283.3" width="17.33" height="1.95" fill="#fce1e2" />
<rect x="186.04" y="283.3" width="17.33" height="1.95" fill="#fcdadb" />
<rect x="203.32" y="283.3" width="17.33" height="1.95" fill="#fde4e5" />
<rect x="47.8" y="285.2" width="17.33" height="1.95" fill="#b8bbe1" />
<rect x="65.08" y="285.2" width="17.33" height="1.95" fill="#ccceea" />
<rect x="82.36" y="285.2" width="17.33" height="1.95" fill="#f1f2f9" />
<rect x="99.64" y="285.2" width="17.33" height="1.95" fill="#d0d2eb" />
<rect x="116.92" y="285.2" width="17.33" height="1.95" fill="#fdeaea" />
<rect x="134.2" y="285.2" width="17.33" height="1.95" fill="#fcfcfe" />
<rect x="151.48" y="285.2" width="17.33" height="1.95" fill="#fcdedf" />
<rect x="168.76" y="285.2" width="17.33" height="1.95" fill="#f4f5fb" />
<rect x="186.04" y="285.2" width="17.33" height="1.95" fill="#fef2f2" />
<rect x="203.32" y="285.2" width="17.33" height="1.95" fill="#fde6e7" />
<rect x="47.8" y="287.1" width="17.33" height="1.95" fill="#c4c6e6" />
<rect x="65.08" y="287.1" width="17.33" height="1.95" fill="#c5c8e7" />
<rect x="82.36" y="287.1" width="17.33" height="1.95" fill="#ccceea" />
<rect x="99.64" y="287.1" width="17.33" height="1.95" fill="#c6c8e7" />
<rect x="116.92" y="287.1" width="17.33" height="1.95" fill="#f7f8fc" />
<rect x="134.2" y="287.1" width="17.33" height="1.95" fill="#ebecf7" />
<rect x="151.48" y="287.1" width="17.33" height="1.95" fill="#fef5f5" />
<rect x="168.76" y="287.1" width="17.33" height="1.95" fill="#fcfcfe" />
<rect x="186.04" y="287.1" width="17.33" height="1.95" fill="#fce0e1" />
<rect x="203.32" y="287.1" width="17.33" height="1.95" fill="#fef4f4" />
<rect x="47.8" y="289" width="17.33" height="1.95" fill="#c8cae8" />
<rect x="65.08" y="289" width="17.33" height="1.95" fill="#d8d9ee" />
<rect x="82.36" y="289" width="17.33" height="1.95" fill="#dcdef0" />
<rect x="99.64" y="289" width="17.33" height="1.95" fill="#ced0ea" />
<rect x="116.92" y="289" width="17.33" height="1.95" fill="#fdeced" />
<rect x="134.2" y="289" width="17.33" height="1.95" fill="#fce1e2" />
<rect x="151.48" y="289" width="17.33" height="1.95" fill="#fbd0d1" />
<rect x="168.76" y="289" width="17.33" height="1.95" fill="#fde6e7" />
<rect x="186.04" y="289" width="17.33" height="1.95" fill="#fcddde" />
<rect x="203.32" y="289" width="17.33" height="1.95" fill="#fcd7d9" />
<rect x="47.8" y="290.9" width="17.33" height="1.95" fill="#c8cae8" />
<rect x="65.08" y="290.9" width="17.33" height="1.95" fill="#cbcde9" />
<rect x="82.36" y="290.9" width="17.33" height="1.95" fill="#e1e2f2" />
<rect x="99.64" y="290.9" width="17.33" height="1.95" fill="#d4d6ed" />
<rect x="116.92" y="290.9" width="17.33" height="1.95" fill="#fde7e8" />
<rect x="134.2" y="290.9" width="17.33" height="1.95" fill="#fffefe" />
<rect x="151.48" y="290.9" width="17.33" height="1.95" fill="#fde4e5" />
<rect x="168.76" y="290.9" width="17.33" height="1.95" fill="#fcd8d9" />
<rect x="186.04" y="290.9" width="17.33" height="1.95" fill="#fcdcde" />
<rect x="203.32" y="290.9" width="17.33" height="1.95" fill="#fde3e4" />
<rect x="47.8" y="292.8" width="17.33" height="1.95" fill="#d7d8ee" />
<rect x="65.08" y="292.8" width="17.33" height="1.95" fill="#dcdef0" />
<rect x="82.36" y="292.8" width="17.33" height="1.95" fill="#f2f2f9" />
<rect x="99.64" y="292.8" width="17.33" height="1.95" fill="#ccceea" />
<rect x="116.92" y="292.8" width="17.33" height="1.95" fill="#fde9e9" />
<rect x="134.2" y="292.8" width="17.33" height="1.95" fill="#fce0e1" />
<rect x="151.48" y="292.8" width="17.33" height="1.95" fill="#fce0e1" />
<rect x="168.76" y="292.8" width="17.33" height="1.95" fill="#fef6f6" />
<rect x="186.04" y="292.8" width="17.33" height="1.95" fill="#fcdedf" />
<rect x="203.32" y="292.8" width="17.33" height="1.95" fill="#fcdadb" />
<rect x="47.8" y="294.7" width="17.33" height="1.95" fill="#c4c6e6" />
<rect x="65.08" y="294.7" width="17.33" height="1.95" fill="#d1d3ec" />
<rect x="82.36" y="294.7" width="17.33" height="1.95" fill="#ced0ea" />
<rect x="99.64" y="294.7" width="17.33" height="1.95" fill="#b6b9e0" />
<rect x="116.92" y="294.7" width="17.33" height="1.95" fill="#f8f8fc" />
<rect x="134.2" y="294.7" width="17.33" height="1.95" fill="#fef2f3" />
<rect x="151.48" y="294.7" width="17.33" height="1.95" fill="#fbd1d2" />
<rect x="168.76" y="294.7" width="17.33" height="1.95" fill="#fbcfd1" />
<rect x="186.04" y="294.7" width="17.33" height="1.95" fill="#fdeced" />
<rect x="203.32" y="294.7" width="17.33" height="1.95" fill="#fcd8d9" />
<rect x="47.8" y="296.6" width="17.33" height="1.95" fill="#c9cbe8" />
<rect x="65.08" y="296.6" width="17.33" height="1.95" fill="#b3b6df" />
<rect x="82.36" y="296.6" width="17.33" height="1.95" fill="#fffefe" />
<rect x="99.64" y="296.6" width="17.33" height="1.95" fill="#d1d3ec" />
<rect x="116.92" y="296.6" width="17.33" height="1.95" fill="#fdebec" />
<rect x="134.2" y="296.6" width="17.33" height="1.95" fill="#f8b3b6" />
<rect x="151.48" y="296.6" width="17.33" height="1.95" fill="#fcdadb" />
<rect x="168.76" y="296.6" width="17.33" height="1.95" fill="#fbd5d7" />
<rect x="186.04" y="296.6" width="17.33" height="1.95" fill="#fac8ca" />
<rect x="203.32" y="296.6" width="17.33" height="1.95" fill="#fcddde" />
<rect x="47.8" y="298.5" width="17.33" height="1.95" fill="#d0d2eb" />
<rect x="65.08" y="298.5" width="17.33" height="1.95" fill="#cacce9" />
<rect x="82.36" y="298.5" width="17.33" height="1.95" fill="#eaebf6" />
<rect x="99.64" y="298.5" width="17.33" height="1.95" fill="#d5d6ed" />
<rect x="116.92" y="298.5" width="17.33" height="1.95" fill="#fffcfc" />
<rect x="134.2" y="298.5" width="17.33" height="1.95" fill="#fef3f3" />
<rect x="151.48" y="298.5" width="17.33" height="1.95" fill="#fef0f1" />
<rect x="168.76" y="298.5" width="17.33" height="1.95" fill="#feeff0" />
<rect x="186.04" y="298.5" width="17.33" height="1.95" fill="#fde9e9" />
<rect x="203.32" y="298.5" width="17.33" height="1.95" fill="#fde5e6" />
<rect x="47.8" y="300.4" width="17.33" height="1.95" fill="#b4b7df" />
<rect x="65.08" y="300.4" width="17.33" height="1.95" fill="#dddef1" />
<rect x="82.36" y="300.4" width="17.33" height="1.95" fill="#d3d5ec" />
<rect x="99.64" y="300.4" width="17.33" height="1.95" fill="#fffefe" />
<rect x="116.92" y="300.4" width="17.33" height="1.95" fill="#fef4f5" />
<rect x="134.2" y="300.4" width="17.33" height="1.95" fill="#feeeef" />
<rect x="151.48" y="300.4" width="17.33" height="1.95" fill="#fbd6d7" />
<rect x="168.76" y="300.4" width="17.33" height="1.95" fill="#fde7e8" />
<rect x="186.04" y="300.4" width="17.33" height="1.95" fill="#fef0f0" />
<rect x="203.32" y="300.4" width="17.33" height="1.95" fill="#fef2f2" />
<rect x="47.8" y="302.3" width="17.33" height="1.95" fill="#d3d4ec" />
<rect x="65.08" y="302.3" width="17.33" height="1.95" fill="#e1e2f2" />
<rect x="82.36" y="302.3" width="17.33" height="1.95" fill="#ecedf7" />
<rect x="99.64" y="302.3" width="17.33" height="1.95" fill="#ccceea" />
<rect x="116.92" y="302.3" width="17.33" height="1.95" fill="#fde9ea" />
<rect x="134.2" y="302.3" width="17.33" height="1.95" fill="#f9c0c2" />
<rect x="151.48" y="302.3" width="17.33" height="1.95" fill="#feeeef" />
<rect x="168.76" y="302.3" width="17.33" height="1.95" fill="#f9bcbf" />
<rect x="186.04" y="302.3" width="17.33" height="1.95" fill="#fde6e7" />
<rect x="203.32" y="302.3" width="17.33" height="1.95" fill="#fbd3d4" />
<rect x="47.8" y="304.2" width="17.33" height="1.95" fill="#e5e6f4" />
<rect x="65.08" y="304.2" width="17.33" height="1.95" fill="#e1e2f3" />
<rect x="82.36" y="304.2" width="17.33" height="1.95" fill="#fcfcfe" />
<rect x="99.64" y="304.2" width="17.33" height="1.95" fill="#fafafd" />
<rect x="116.92" y="304.2" width="17.33" height="1.95" fill="#fffbfc" />
<rect x="134.2" y="304.2" width="17.33" height="1.95" fill="#fbd4d6" />
<rect x="151.48" y="304.2" width="17.33" height="1.95" fill="#fce0e1" />
<rect x="168.76" y="304.2" width="17.33" height="1.95" fill="#fde3e4" />
<rect x="186.04" y="304.2" width="17.33" height="1.95" fill="#fbd6d8" />
<rect x="203.32" y="304.2" width="17.33" height="1.95" fill="#fbd6d7" />
<rect x="47.8" y="306.1" width="17.33" height="1.95" fill="#c3c5e6" />
<rect x="65.08" y="306.1" width="17.33" height="1.95" fill="#e8e9f5" />
<rect x="82.36" y="306.1" width="17.33" height="1.95" fill="#ccceea" />
<rect x="99.64" y="306.1" width="17.33" height="1.95" fill="#c5c7e6" />
<rect x="116.92" y="306.1" width="17.33" height="1.95" fill="#fef7f8" />
<rect x="134.2" y="306.1" width="17.33" height="1.95" fill="#fde9e9" />
<rect x="151.48" y="306.1" width="17.33" height="1.95" fill="#fdeaeb" />
<rect x="168.76" y="306.1" width="17.33" height="1.95" fill="#fcdfe0" />
<rect x="186.04" y="306.1" width="17.33" height="1.95" fill="#fdeaea" />
<rect x="203.32" y="306.1" width="17.33" height="1.95" fill="#fbd2d4" />
<rect x="47.8" y="308" width="17.33" height="0.25" fill="#c6c8e7" />
<rect x="65.08" y="308" width="17.33" height="0.25" fill="#b8bae1" />
<rect x="82.36" y="308" width="17.33" height="0.25" fill="#dadbef" />
<rect x="99.64" y="308" width="17.33" height="0.25" fill="#babde2" />
<rect x="116.92" y="308" width="17.33" height="0.25" fill="#fce0e1" />
<rect x="134.2" y="308" width="17.33" height="0.25" fill="#fbd4d6" />
<rect x="151.48" y="308" width="17.33" height="0.25" fill="#fef2f3" />
<rect x="168.76" y="308" width="17.33" height="0.25" fill="#fbced0" />
<rect x="186.04" y="308" width="17.33" height="0.25" fill="#fde3e4" />
<rect x="203.32" y="308" width="17.33" height="0.25" fill="#fffafa" />
</g>
<rect x="47.8" y="50" width="172.8" height="258.2" fill="none" stroke="#1a1a1a" stroke-width="0.9"/>
<text x="42.8" y="55" font-size="6.7" text-anchor="end" stroke="#222" stroke-width="0.08">Mpo</text>
<text x="42.8" y="63.1" font-size="6.7" text-anchor="end" stroke="#222" stroke-width="0.08">Kit</text>
<text x="42.8" y="101.9" font-size="6.7" text-anchor="end" stroke="#222" stroke-width="0.08">Cacnb2</text>
<text x="42.8" y="115.4" font-size="6.7" text-anchor="end" stroke="#222" stroke-width="0.08">Id1</text>
<text x="42.8" y="123.5" font-size="6.7" text-anchor="end" stroke="#222" stroke-width="0.08">Id2</text>
<text x="42.8" y="132.5" font-size="6.7" text-anchor="end" stroke="#222" stroke-width="0.08">Mgst2</text>
<text x="42.8" y="139.3" font-size="6.7" text-anchor="end" stroke="#222" stroke-width="0.08">Spry2</text>
<text x="42.8" y="146.5" font-size="6.7" text-anchor="end" stroke="#222" stroke-width="0.08">Klf2</text>
<text x="42.8" y="205.6" font-size="6.7" text-anchor="end" stroke="#222" stroke-width="0.08">Xrcc5</text>
<text x="237.4" y="18" font-size="12.9" font-weight="bold" fill="#111" textLength="8.38" lengthAdjust="spacingAndGlyphs" stroke="#111" stroke-width="0.08">B</text>
<text x="272.9" y="13.7" font-size="6.6" text-anchor="middle" stroke="#222" stroke-width="0.08">Count</text>
<rect x="257.9" y="17.0" width="29.8" height="5.4" fill="url(#cg)"/>
<line x1="257.9" y1="22.6" x2="287.7" y2="22.6" stroke="#222" stroke-width="0.8" />
<line x1="265.2" y1="22.2" x2="265.2" y2="24.8" stroke="#222" stroke-width="0.7" />
<line x1="272.7" y1="22.2" x2="272.7" y2="24.8" stroke="#222" stroke-width="0.7" />
<line x1="280.4" y1="22.2" x2="280.4" y2="24.8" stroke="#222" stroke-width="0.7" />
<text x="265.2" y="31.5" font-size="5.4" text-anchor="middle" stroke="#222" stroke-width="0.08">20</text>
<text x="272.7" y="31.5" font-size="5.4" text-anchor="middle" stroke="#222" stroke-width="0.08">40</text>
<text x="280.4" y="31.5" font-size="5.4" text-anchor="middle" stroke="#222" stroke-width="0.08">60</text>
<line x1="374.5" y1="30" x2="374.5" y2="142.2" stroke="#111" stroke-width="1.1" />
<line x1="260.6" y1="142.2" x2="511" y2="142.2" stroke="#111" stroke-width="1.1" />
<line x1="371.9" y1="126.72" x2="374.5" y2="126.72" stroke="#111" stroke-width="0.8" />
<text x="368.2" y="128.92" font-size="6.3" text-anchor="end" textLength="9.63" lengthAdjust="spacingAndGlyphs" stroke="#222" stroke-width="0.08">0.5</text>
<line x1="371.9" y1="111.25" x2="374.5" y2="111.25" stroke="#111" stroke-width="0.8" />
<text x="368.2" y="113.45" font-size="6.3" text-anchor="end" textLength="9.63" lengthAdjust="spacingAndGlyphs" stroke="#222" stroke-width="0.08">1.0</text>
<line x1="371.9" y1="95.77" x2="374.5" y2="95.77" stroke="#111" stroke-width="0.8" />
<text x="368.2" y="97.97" font-size="6.3" text-anchor="end" textLength="9.63" lengthAdjust="spacingAndGlyphs" stroke="#222" stroke-width="0.08">1.5</text>
<line x1="371.9" y1="80.3" x2="374.5" y2="80.3" stroke="#111" stroke-width="0.8" />
<text x="368.2" y="82.5" font-size="6.3" text-anchor="end" textLength="9.63" lengthAdjust="spacingAndGlyphs" stroke="#222" stroke-width="0.08">2.0</text>
<line x1="371.9" y1="64.82" x2="374.5" y2="64.82" stroke="#111" stroke-width="0.8" />
<text x="368.2" y="67.02" font-size="6.3" text-anchor="end" textLength="9.63" lengthAdjust="spacingAndGlyphs" stroke="#222" stroke-width="0.08">2.5</text>
<line x1="371.9" y1="49.35" x2="374.5" y2="49.35" stroke="#111" stroke-width="0.8" />
<text x="368.2" y="51.55" font-size="6.3" text-anchor="end" textLength="9.63" lengthAdjust="spacingAndGlyphs" stroke="#222" stroke-width="0.08">3.0</text>
<line x1="371.9" y1="33.87" x2="374.5" y2="33.87" stroke="#111" stroke-width="0.8" />
<text x="368.2" y="36.07" font-size="6.3" text-anchor="end" textLength="9.63" lengthAdjust="spacingAndGlyphs" stroke="#222" stroke-width="0.08">3.5</text>
<line x1="263.1" y1="142.2" x2="263.1" y2="145" stroke="#111" stroke-width="0.8" />
<text x="263.1" y="154.2" font-size="6.3" text-anchor="middle" textLength="12.93" lengthAdjust="spacingAndGlyphs" stroke="#222" stroke-width="0.08">−2.5</text>
<line x1="285.38" y1="142.2" x2="285.38" y2="145" stroke="#111" stroke-width="0.8" />
<text x="285.38" y="154.2" font-size="6.3" text-anchor="middle" textLength="12.93" lengthAdjust="spacingAndGlyphs" stroke="#222" stroke-width="0.08">−2.0</text>
<line x1="307.66" y1="142.2" x2="307.66" y2="145" stroke="#111" stroke-width="0.8" />
<text x="307.66" y="154.2" font-size="6.3" text-anchor="middle" textLength="12.93" lengthAdjust="spacingAndGlyphs" stroke="#222" stroke-width="0.08">−1.5</text>
<line x1="329.94" y1="142.2" x2="329.94" y2="145" stroke="#111" stroke-width="0.8" />
<text x="329.94" y="154.2" font-size="6.3" text-anchor="middle" textLength="12.93" lengthAdjust="spacingAndGlyphs" stroke="#222" stroke-width="0.08">−1.0</text>
<line x1="352.22" y1="142.2" x2="352.22" y2="145" stroke="#111" stroke-width="0.8" />
<text x="352.22" y="154.2" font-size="6.3" text-anchor="middle" textLength="12.93" lengthAdjust="spacingAndGlyphs" stroke="#222" stroke-width="0.08">−0.5</text>
<line x1="374.5" y1="142.2" x2="374.5" y2="145" stroke="#111" stroke-width="0.8" />
<text x="374.5" y="154.2" font-size="6.3" text-anchor="middle" textLength="9.11" lengthAdjust="spacingAndGlyphs" stroke="#222" stroke-width="0.08">0.0</text>
<line x1="396.78" y1="142.2" x2="396.78" y2="145" stroke="#111" stroke-width="0.8" />
<text x="396.78" y="154.2" font-size="6.3" text-anchor="middle" textLength="9.11" lengthAdjust="spacingAndGlyphs" stroke="#222" stroke-width="0.08">0.5</text>
<line x1="419.06" y1="142.2" x2="419.06" y2="145" stroke="#111" stroke-width="0.8" />
<text x="419.06" y="154.2" font-size="6.3" text-anchor="middle" textLength="9.11" lengthAdjust="spacingAndGlyphs" stroke="#222" stroke-width="0.08">1.0</text>
<line x1="441.34" y1="142.2" x2="441.34" y2="145" stroke="#111" stroke-width="0.8" />
<text x="441.34" y="154.2" font-size="6.3" text-anchor="middle" textLength="9.11" lengthAdjust="spacingAndGlyphs" stroke="#222" stroke-width="0.08">1.5</text>
<line x1="463.62" y1="142.2" x2="463.62" y2="145" stroke="#111" stroke-width="0.8" />
<text x="463.62" y="154.2" font-size="6.3" text-anchor="middle" textLength="9.11" lengthAdjust="spacingAndGlyphs" stroke="#222" stroke-width="0.08">2.0</text>
<line x1="485.9" y1="142.2" x2="485.9" y2="145" stroke="#111" stroke-width="0.8" />
<text x="485.9" y="154.2" font-size="6.3" text-anchor="middle" textLength="9.11" lengthAdjust="spacingAndGlyphs" stroke="#222" stroke-width="0.08">2.5</text>
<line x1="508.18" y1="142.2" x2="508.18" y2="145" stroke="#111" stroke-width="0.8" />
<text x="508.18" y="154.2" font-size="6.3" text-anchor="middle" textLength="9.11" lengthAdjust="spacingAndGlyphs" stroke="#222" stroke-width="0.08">3.0</text>
<text x="383" y="43.8" font-size="7.2" text-anchor="middle" fill="#111" textLength="40.6" lengthAdjust="spacingAndGlyphs" transform="rotate(-90 383 43.8)" stroke="#111" stroke-width="0.08">-Log10 of FDR</text>
<text x="385.8" y="167.7" font-size="8.8" text-anchor="middle" font-weight="bold" fill="#1a1a1a" textLength="79.6" lengthAdjust="spacingAndGlyphs" stroke="#1a1a1a" stroke-width="0.08">Normalized enrichment score</text>
<path d="M281.5 84.2 L283.5 88 L286.4 93.2 L288.3 96.5 L290.2 99.4 L292.6 103.6 L295 108 L297.5 113 L300 118.3 L302.5 122.4 L305 126 L308 129.5 L310.8 132.3 L313.8 135.6 L317 137 L320 137.9 L324 138.6 L329.2 139.3 L334 139.9 L340 140.3 L346 140.8 L352.3 141.2 L358 141.5" fill="none" stroke="#cbc8e6" stroke-width="2.4" stroke-linejoin="round" stroke-linecap="round" opacity="0.95"/>
<circle cx="281.5" cy="84.2" r="1.25" fill="#c0bce0" stroke="#8a84c4" stroke-width="0.45" opacity="0.9"/>
<circle cx="283.5" cy="88" r="1.25" fill="#c0bce0" stroke="#8a84c4" stroke-width="0.45" opacity="0.9"/>
<circle cx="286.4" cy="93.2" r="1.25" fill="#c0bce0" stroke="#8a84c4" stroke-width="0.45" opacity="0.9"/>
<circle cx="288.3" cy="96.5" r="1.25" fill="#c0bce0" stroke="#8a84c4" stroke-width="0.45" opacity="0.9"/>
<circle cx="290.2" cy="99.4" r="1.25" fill="#c0bce0" stroke="#8a84c4" stroke-width="0.45" opacity="0.9"/>
<circle cx="292.6" cy="103.6" r="1.25" fill="#c0bce0" stroke="#8a84c4" stroke-width="0.45" opacity="0.9"/>
<circle cx="295" cy="108" r="1.25" fill="#c0bce0" stroke="#8a84c4" stroke-width="0.45" opacity="0.9"/>
<circle cx="297.5" cy="113" r="1.25" fill="#c0bce0" stroke="#8a84c4" stroke-width="0.45" opacity="0.9"/>
<circle cx="300" cy="118.3" r="1.25" fill="#c0bce0" stroke="#8a84c4" stroke-width="0.45" opacity="0.9"/>
<circle cx="302.5" cy="122.4" r="1.25" fill="#c0bce0" stroke="#8a84c4" stroke-width="0.45" opacity="0.9"/>
<circle cx="305" cy="126" r="1.25" fill="#c0bce0" stroke="#8a84c4" stroke-width="0.45" opacity="0.9"/>
<circle cx="308" cy="129.5" r="1.25" fill="#c0bce0" stroke="#8a84c4" stroke-width="0.45" opacity="0.9"/>
<circle cx="310.8" cy="132.3" r="1.25" fill="#c0bce0" stroke="#8a84c4" stroke-width="0.45" opacity="0.9"/>
<circle cx="313.8" cy="135.6" r="1.25" fill="#c0bce0" stroke="#8a84c4" stroke-width="0.45" opacity="0.9"/>
<circle cx="317" cy="137" r="1.25" fill="#c0bce0" stroke="#8a84c4" stroke-width="0.45" opacity="0.9"/>
<circle cx="320" cy="137.9" r="1.25" fill="#c0bce0" stroke="#8a84c4" stroke-width="0.45" opacity="0.9"/>
<circle cx="324" cy="138.6" r="1.25" fill="#c0bce0" stroke="#8a84c4" stroke-width="0.45" opacity="0.9"/>
<circle cx="329.2" cy="139.3" r="1.25" fill="#c0bce0" stroke="#8a84c4" stroke-width="0.45" opacity="0.9"/>
<circle cx="334" cy="139.9" r="1.25" fill="#c0bce0" stroke="#8a84c4" stroke-width="0.45" opacity="0.9"/>
<circle cx="340" cy="140.3" r="1.25" fill="#c0bce0" stroke="#8a84c4" stroke-width="0.45" opacity="0.9"/>
<circle cx="346" cy="140.8" r="1.25" fill="#c0bce0" stroke="#8a84c4" stroke-width="0.45" opacity="0.9"/>
<circle cx="352.3" cy="141.2" r="1.25" fill="#c0bce0" stroke="#8a84c4" stroke-width="0.45" opacity="0.9"/>
<circle cx="358" cy="141.5" r="1.25" fill="#c0bce0" stroke="#8a84c4" stroke-width="0.45" opacity="0.9"/>
<circle cx="286.4" cy="93.2" r="1.9" fill="#3a1670" />
<circle cx="290.2" cy="99.4" r="1.7" fill="#5a3d90" />
<circle cx="292.3" cy="102.5" r="1.5" fill="#7a6ab0" />
<circle cx="296" cy="110" r="1.4" fill="#8a80c0" />
<circle cx="349" cy="141.2" r="1.2" fill="#2a2a6a" />
<circle cx="352" cy="141.2" r="1.2" fill="#2a2a6a" />
<circle cx="356.5" cy="141.4" r="1.2" fill="#2a2a6a" />
<circle cx="269.4" cy="48.7" r="1.9" fill="#3a1670" />
<circle cx="272.4" cy="54.3" r="1.9" fill="#2a1050" />
<circle cx="458.9" cy="121.5" r="1.9" fill="#3a3a6e" />
<circle cx="398" cy="141" r="1.3" fill="#d4d2ec" opacity="0.85"/>
<circle cx="401" cy="141" r="1.3" fill="#d4d2ec" opacity="0.85"/>
<circle cx="404" cy="141" r="1.3" fill="#d4d2ec" opacity="0.85"/>
<circle cx="407" cy="141" r="1.3" fill="#d4d2ec" opacity="0.85"/>
<circle cx="410" cy="141" r="1.3" fill="#d4d2ec" opacity="0.85"/>
<circle cx="413" cy="141" r="1.3" fill="#d4d2ec" opacity="0.85"/>
<circle cx="416" cy="141" r="1.3" fill="#d4d2ec" opacity="0.85"/>
<circle cx="419" cy="141" r="1.3" fill="#d4d2ec" opacity="0.85"/>
<circle cx="422" cy="141" r="1.3" fill="#d4d2ec" opacity="0.85"/>
<circle cx="426" cy="141" r="1.3" fill="#d4d2ec" opacity="0.85"/>
<circle cx="430" cy="141" r="1.3" fill="#d4d2ec" opacity="0.85"/>
<circle cx="434" cy="141" r="1.3" fill="#d4d2ec" opacity="0.85"/>
<circle cx="437.5" cy="141" r="1.3" fill="#d4d2ec" opacity="0.85"/>
<circle cx="403" cy="141.2" r="0.9" fill="#4a4a86" opacity="0.8"/>
<circle cx="406" cy="141.2" r="0.9" fill="#4a4a86" opacity="0.8"/>
<circle cx="409" cy="141.2" r="0.9" fill="#4a4a86" opacity="0.8"/>
<circle cx="412" cy="141.2" r="0.9" fill="#4a4a86" opacity="0.8"/>
<circle cx="444.4" cy="136.8" r="1.1" fill="#e0dfea" />
<circle cx="450.2" cy="132.5" r="1.1" fill="#e0dfea" />
<circle cx="475.3" cy="88.6" r="1.1" fill="#e0dfea" />
<circle cx="481" cy="74.8" r="1.1" fill="#e0dfea" />
<circle cx="488.3" cy="58.9" r="1.1" fill="#e0dfea" />
<text x="264.2" y="45.3" font-size="6.55" stroke="#222" stroke-width="0.08">chromosome segregation</text>
<text x="276" y="57" font-size="6.55" stroke="#222" stroke-width="0.08">organelle fission</text>
<text x="249.2" y="90.6" font-size="6.55" stroke="#222" stroke-width="0.08">cell killing</text>
<text x="291" y="92.3" font-size="6.55" stroke="#222" stroke-width="0.08">cell cycle phase transition</text>
<text x="295.2" y="103.8" font-size="6.55" stroke="#222" stroke-width="0.08">regulation of chromosome organization</text>
<text x="250.4" y="112" font-size="6.55" stroke="#222" stroke-width="0.08">positive regulation of cell cycle</text>
<text x="236.8" y="197" font-size="12.9" font-weight="bold" fill="#111" textLength="8.57" lengthAdjust="spacingAndGlyphs" stroke="#111" stroke-width="0.08">C</text>
<rect x="415" y="210.2" width="43.8" height="95" rx="5" fill="#d4d6ea"/>
<line x1="355.74" y1="209.3" x2="355.74" y2="308" stroke="#808080" stroke-width="1.1" stroke-dasharray="1.3 1.6"/>
<line x1="414.06" y1="209.3" x2="414.06" y2="308" stroke="#808080" stroke-width="1.1" stroke-dasharray="1.3 1.6"/>
<path d="M351.44 300.3h0M361.21 299.97h0M371.42 304.5h0M351.61 301.13h0M368.48 300.71h0M366.58 299.03h0M369.39 303.08h0M353.97 294.58h0M359.71 301.03h0M353.33 287.64h0M361.32 301.2h0M363.83 301.97h0M381.5 307.2h0M366.38 302.44h0M349.24 297.25h0M371.31 304.45h0M360.19 301.88h0M350.05 294.09h0M381.63 306.75h0M347.87 294.24h0M371.07 305.81h0M362.35 303.79h0M353.73 296.24h0M346.45 301.8h0M368.43 299.27h0M371.26 305.03h0M349.14 302.96h0M348.71 300.92h0M358.07 296.75h0M358.15 299.95h0M351.32 299.35h0M361.52 298.38h0M350.28 302.63h0M352.1 296.9h0M360 298.28h0M360.89 300.21h0M360.37 300.82h0M351.06 298.84h0M368.21 305.45h0M367.03 303.51h0M369.01 305.59h0M358.43 295.85h0M349.42 296.19h0M374.74 305.64h0M378.28 306.78h0M351.41 300.03h0M352.42 291.18h0M349.95 296.13h0M361.67 297.97h0M350.29 296.97h0M357.62 297.63h0M360.66 298.61h0M360.84 304.5h0M364.43 303.27h0M360.76 302.22h0M364.3 304.77h0M380.3 306.34h0M360.85 303.7h0M364.53 304.15h0M382.1 307.2h0M358.42 302.25h0M371.74 304.28h0M365.57 304.3h0M376.36 304.05h0M371.82 305.27h0M356.22 298.58h0M357.99 298.76h0M362.8 303.09h0M377.38 306.24h0M369.2 304.32h0M365.47 302.32h0M374.73 305.35h0M372.91 305.5h0M368.76 302.25h0M356.5 299.65h0M378.06 305.92h0M361.69 302.62h0M362.25 302.02h0M354.71 304.24h0M358.99 298.59h0M374.05 302.3h0M349.89 303.85h0M361.95 304.05h0M354.09 300.89h0M374.12 303.31h0M372.76 303.67h0M353.75 302.22h0M360.93 300.04h0M355.85 299.7h0M367.99 303.96h0M374.11 305.47h0M378.19 306.97h0M346 300.39h0M352.22 298.11h0M357.41 300.64h0M347.05 292.59h0M362.76 303.36h0M382.14 306.98h0M361.98 303.2h0M347.24 297.92h0M366.98 298.37h0M366.62 303.19h0M357.33 297.22h0M353.3 299.62h0M355.98 297.4h0M369.45 305.02h0M353.24 298.22h0M363.79 302.59h0M360.33 297.76h0M352.38 295.55h0M359.42 301.47h0M355.32 303.35h0M354.56 299.75h0M359.36 299.41h0M357.84 299.93h0M363.36 303.43h0M375.39 304.28h0M369.79 304.08h0M359.73 302.22h0M363.18 294.7h0M372.59 304.68h0M354.24 301.11h0M356.25 304.28h0M352.8 293.69h0M377.51 305.74h0M355.86 301.48h0M362.22 304.67h0M363.7 301.33h0M353.45 296.02h0M348.24 301.2h0M370.56 304.21h0M358.2 296.78h0M372.12 305.6h0M349.09 302.19h0M355.96 297.8h0M368.52 303.73h0M379.4 305.04h0M354.84 298.76h0M371.79 304.45h0M381.32 306.85h0M349.65 303.82h0M365.44 302.37h0M355.41 299.96h0M348.02 295.58h0M370.11 303.79h0M349.44 296.1h0M371.18 302.82h0M369.58 298.84h0M375.3 306.25h0M348.69 289.75h0M364.73 304.1h0M347.59 302.36h0M375.97 306.19h0M363.31 304.07h0M370.72 304.43h0M358.82 303.48h0M362.09 299.99h0M363.86 303.84h0M360.98 301.88h0M372.42 303.3h0M366.92 303.58h0M379.65 306.34h0M376.92 306.65h0M365.34 302.63h0M367.94 302.94h0M380.62 306.34h0M369.58 304.27h0M365.24 300.45h0M375.33 305.72h0M355.36 299.37h0M360.68 297.5h0M365.1 304.45h0M367.95 302.79h0M359.31 296.68h0M365.97 299.41h0M350.89 303.12h0M353.24 295.28h0M360.51 297.73h0M375.62 305h0M354.83 299.38h0M358.82 300.83h0M364.11 299.53h0M376.63 306.27h0M371.48 306.84h0M374.95 304.12h0M367.6 302.06h0M372.49 305.07h0M356.1 294.35h0M365.28 304.75h0M355.43 302.82h0M356.52 292.97h0M370.46 303.98h0M372.39 304.14h0M381.36 307.01h0M367.68 303h0M357.75 302.98h0M373.59 306h0M353.1 300.74h0M361.59 300.88h0M375.65 304.5h0M357.61 300.78h0M349.43 304.71h0M354.72 300.54h0M364.7 299.1h0M363.54 299.55h0M349.44 299.58h0M347.74 292.86h0M367.2 303.09h0M373.28 305.6h0M345.5 295.44h0M367.75 303.23h0M355.36 299.07h0M354.01 302.26h0M372.42 304.51h0M364.06 300.78h0M354.84 300.78h0M365.94 305.09h0M366.08 304.15h0M362.6 302.64h0M372.8 305.97h0M349.31 301.91h0M346.16 299.41h0M368.07 303.91h0M363.02 304h0M365.69 303.06h0M374.19 304.94h0M368.16 303.11h0M357.01 302.45h0M356.86 302.27h0M354.12 300.62h0M366.54 303.88h0M369.05 299.44h0M365.1 301.66h0M358.82 303.45h0M365.06 301.3h0M349.92 295.85h0M379.97 306.48h0M367.46 301.18h0M373.44 303.3h0M372.22 303.59h0M381.56 307.2h0M369.09 302.85h0M360.93 302.38h0M363.55 304.25h0M380 304.51h0M350.62 302.65h0M353.23 293.53h0M367.32 302.49h0M371.2 305.86h0M361.1 303.62h0M374.33 303.97h0M363.01 303.9h0M365.42 302.55h0M364.16 300.97h0M361.63 295.29h0M351.53 293.07h0M356.36 302.81h0M353.68 298.52h0M361.3 302.46h0M369.85 304.89h0M378.89 306.19h0M358.36 301.54h0M356.73 304.42h0M366.06 304.24h0M370.75 302.58h0M351.49 295.6h0M358.59 302.08h0M361.1 299.7h0M350.02 301.7h0M375.46 303.96h0M361.92 301.14h0M358.1 296.02h0M365.99 302.76h0M347.84 300.79h0M372.47 305.2h0M373.07 303.96h0M379.39 306.01h0M383.2 307.16h0M364.93 296.55h0M364.64 304.74h0M360.66 293.78h0M365.08 304.1h0M371.44 304.21h0M371.79 304.71h0M381.42 307.2h0M382.62 307.2h0M353.99 292.99h0M360.06 291.45h0M359.75 300.51h0M353.56 296.96h0M381.01 306.83h0M347.16 298.57h0M365.16 303.32h0M366.37 301.08h0M363.43 300.35h0M378.98 306.34h0M372.02 305.24h0M371.67 304.26h0M375.95 304.18h0M345.5 299.71h0M371.28 305.1h0M351.85 299.66h0M363.8 303.75h0M350.51 300.02h0M377.87 304.38h0M378.98 306.11h0M356.5 301.85h0M372.19 304.88h0M370.55 304.54h0M369.84 305.85h0M363.41 302.15h0M364.24 301.23h0M374.28 304.07h0M373.24 306.71h0M379.89 305.21h0M362.08 304.06h0M346.46 291.84h0M348.05 297.99h0M375.83 306.14h0M368.57 299.09h0M368.17 304.49h0M360.15 300.32h0M378.95 307.09h0M364.51 300.19h0M351.04 299.22h0M364.82 301.31h0M379.53 306.17h0M359.31 302.49h0M355.06 301.82h0M374.86 304.45h0M358.06 297.78h0M377.87 306.54h0M380 306.65h0M352.63 301.02h0M374.72 306.19h0M368.39 305.12h0M348.15 298.63h0M372.01 303.49h0M367.06 301.57h0M369.31 300.32h0M356.61 301.87h0M351.56 291.73h0M362.7 302.71h0M373.22 303.34h0M370.34 306.46h0M379.95 307h0M354.97 295.45h0M352.7 302.42h0M366.81 302.7h0M365.24 303.63h0M351.75 286.97h0M374.05 303.15h0M356.5 298.43h0M377.15 306.03h0M361.05 302.11h0M357.06 295.07h0M361.26 301.3h0M379.73 305.21h0M370.51 302.68h0M348.1 301.65h0M358.97 303.65h0M376.54 305.44h0M358.72 300.08h0M348.65 304h0M350.56 300.06h0M368.67 303.56h0M375.93 306.04h0M375.15 305.93h0M370.69 304.13h0M355.2 298.03h0M354.24 298.21h0M368.8 297.45h0M365.91 303.05h0M351.72 300.23h0M364.57 304.56h0M350.05 295.19h0M353.78 295.97h0M367.57 301.01h0M376.02 306.58h0M369.46 302.53h0M354.63 303.56h0M377.23 304.15h0M359.91 299.15h0M371.83 306.03h0M375.08 305.79h0M356.65 294.36h0M374.27 305.83h0M364.71 302.1h0M360.13 303.21h0M360.3 304.19h0M376.22 306.1h0M349.91 300.09h0M364.52 302.24h0M356.77 299.96h0M357.42 296.79h0M373.16 302.8h0M359.01 305.48h0M382.23 307.2h0M364.32 301.59h0M372.05 304.76h0M355.93 286.47h0M368.24 303.66h0M357.47 291.47h0M363.79 296.89h0M353.67 300.09h0M346.64 295.27h0M356.27 298.5h0M349.77 299.85h0M347.35 296.24h0M353.88 299.78h0M382.88 307.2h0M364.84 300.33h0M363.82 303.7h0M357.63 296.2h0M368.2 303.6h0M372.7 303.87h0M364.31 304.08h0M346.36 293.57h0M372.53 305.13h0M379.59 305.19h0M381.21 307.2h0M361.68 299.64h0M365.42 305.49h0M368.4 302.97h0M350.59 300.45h0M369.23 302.7h0M368.19 303.99h0M358.9 301.65h0M361.14 299.41h0M380.03 306.75h0M354.54 299.73h0M364.3 302.3h0M368.41 303.26h0M354.01 298.17h0M354.35 302.54h0M369.44 302.28h0M375.49 306.48h0M359.05 301.16h0M375.55 304.19h0M368.67 304.47h0M371.27 301.33h0M365.65 303.58h0M361.42 301.9h0M375.1 303.99h0M378.33 306.7h0M357.98 303.46h0M360.82 299.39h0M380.47 307.09h0M366.51 304.45h0M364.64 305.34h0M367.09 305.16h0M370.1 303.87h0M357.84 301.31h0M374.41 304.95h0M375.48 306h0M378.63 306.19h0M358.9 302.89h0M363.97 302.05h0M348.45 302.15h0M382.25 307.13h0M370.49 303.3h0M348.06 303.48h0M379.18 307.12h0M364.74 303.15h0M364.5 300.56h0M346.71 303.23h0M369.09 305.2h0M380.4 307.11h0M379.49 304.33h0M380.11 306.61h0M357.76 301.83h0M351.19 301.99h0M357.06 300.75h0M358.91 301.3h0M360.87 303.06h0M375.81 306.04h0M359.05 304.12h0M366.21 303.82h0M360.73 304.11h0M370.14 303.5h0M360.87 298.04h0M363.26 303.26h0M378.13 307.17h0M366.91 304.06h0M359.22 300.44h0M359.53 298.6h0M372.32 306.12h0M374.04 304.1h0M364.1 305.07h0M373.36 304.98h0M367.58 301.81h0M347.42 300.55h0M376.57 306.8h0M373.29 303.86h0M364.03 300.74h0M352.71 290.52h0M348.58 298.9h0M358.22 300.77h0M368.22 299.91h0M375.81 306.69h0M355.34 298.56h0M377.75 306.67h0M348.07 294.98h0M355.21 292.73h0M382.8 306.88h0M358.75 300.85h0M365.42 299.06h0M373.47 305.32h0M365.98 300.88h0M347.78 300.44h0M354.7 300.2h0M368.48 304.6h0M357.56 301.3h0M376.61 306.21h0M375.13 305.51h0M371.41 303.9h0M380.8 306.42h0M347.31 299.46h0M379.76 306.3h0M359.42 299.75h0M359.92 298.49h0M367.3 305.03h0M349.49 298.61h0M360.14 301.1h0M361.91 302.83h0M369.83 304.38h0M362.85 300.72h0M381.13 307.2h0M365.92 301.42h0M349.91 302.11h0M349.91 298.59h0M352.24 301.15h0M362.66 303.89h0M369.64 304.71h0M376.72 305.11h0M348.19 300.29h0M360.5 303.79h0M352.42 285.83h0M349.91 290.71h0M349.06 301.98h0M353.53 295.74h0M359.46 303.85h0M367.76 304.81h0M363.16 304h0M361.31 295.87h0M350.16 297.38h0M362.63 298.32h0M347.77 294.54h0M359.64 300.96h0M380.66 306.4h0M352.25 299.36h0M353.95 299.62h0M345.9 295.69h0M372.82 303.55h0M346.98 298.94h0M363.54 304.45h0M357.88 300.15h0M347.83 300.56h0M372.59 305.13h0M371.15 304.96h0M377.33 306.55h0M363.78 302.97h0M355.02 300.06h0M356.53 303.15h0M368.59 301.44h0M349.19 297.72h0M356.87 302.44h0M346.24 300.88h0M380.53 306.62h0M356.59 301.72h0M359.47 298.66h0M360.45 299.97h0M376.57 307.2h0M350.93 301.24h0M356.79 303.2h0M367.93 303.23h0M351.15 302.12h0M369.53 305.56h0M353.06 295.97h0M367.36 303.07h0M379.44 306.83h0M374.17 304.79h0M367.19 305.1h0M356.87 300.15h0M353.69 298.52h0M354.59 300.5h0M364.09 305.16h0M369.05 302.73h0M345.46 299.94h0M359.31 301.17h0M377.71 305.29h0M358.86 299.74h0M362.69 299.22h0M378.32 306.65h0M357.11 300.07h0M377.19 305.67h0M352.18 299.14h0M365.64 303.62h0M372.08 305.21h0M381.11 306.99h0M361.29 304.87h0M373.3 305.27h0M352.54 294.31h0M355.67 302.63h0M372.23 305.41h0M356.29 298.56h0M364.75 298.87h0M373.2 304.7h0M357.78 299.74h0M363.99 304.62h0M354.38 295.73h0M369.57 304.93h0M359.06 301.73h0M345.88 301.25h0M357.69 304.03h0M355.29 298.96h0M360.24 298.24h0M377.77 306.19h0M373.07 305.21h0M355.99 296.23h0M362.88 295.1h0M355.3 302.46h0M375.71 305.72h0M358.35 297.25h0M366.6 302.11h0M354.11 302.81h0M365.43 301.26h0M359.95 300.61h0M373.49 305.63h0M363.07 301.6h0M377.96 306.68h0M357.37 295.54h0M378.28 305.26h0M366.96 305.25h0M353.69 303.19h0M346.18 292.75h0M356.31 300.58h0M373.1 305.41h0M368.41 303.21h0M350.92 300.97h0M358.6 299.1h0M355.92 303.91h0M359.2 302.59h0M374.3 302.26h0M373.83 306.33h0M353.41 302.02h0M354.84 295.48h0M361.57 300.84h0M356.21 303.65h0M365.84 303.85h0M347.87 293.02h0M364.98 302.49h0M357.67 306.21h0M359.49 298.51h0M350.52 297.18h0M367.7 303.24h0M363.12 296.91h0M375.06 305.46h0M359.64 298.07h0M356.7 293.31h0M353.69 294.68h0M375.36 306.85h0M374.08 302.75h0M381.77 307.08h0M356.87 300.59h0M378.29 307h0M352.7 299.72h0M360.4 301.82h0M373.89 305.73h0M354.13 296.97h0M380.96 307.01h0M364.93 302.46h0M370.74 304.71h0M354.84 290.74h0M371.02 305.37h0M352.84 286.83h0M366.24 305.43h0M368.73 303.31h0M349.28 299.16h0M379.2 306.09h0M351.82 297.18h0M349.31 299.7h0M362.61 284.57h0M350.58 297.39h0M366.38 303.21h0M355.37 300.69h0M347.82 297.91h0M352.89 295.67h0M369.45 305.72h0M362.3 296.15h0M360.16 302.01h0M358.42 301.27h0M361.82 298.51h0M365.77 296.18h0M378.38 306.3h0M359.36 299.44h0M365.63 305.12h0M354.89 292.77h0M356.08 299.68h0M372.81 305.44h0M376.09 305.71h0M368.67 302.44h0M378.13 306.52h0M376.72 305.85h0M366.1 302.91h0M362.26 298.57h0M372.6 303.54h0M348.05 301.1h0M355.26 299.58h0M358.57 303.73h0M354.33 295.34h0M358.95 304.05h0M363.69 303.95h0M348.34 300.46h0M373.58 305.05h0M372.49 305.45h0M368.31 304.54h0M369.52 305.23h0M352.24 294.31h0M371.83 303.44h0M381.49 307.2h0M352.58 295.69h0M378.08 306.31h0M351.27 299.96h0M376.32 306.62h0M348.55 297.44h0M357.66 296.89h0M363.51 304.07h0M367.22 305.14h0M355.77 299.1h0M381.23 306.64h0M347.61 295.46h0M366.08 302.49h0M364.86 298.41h0M373.74 305.11h0M370.51 301.67h0M359.6 300.47h0M359.37 299.14h0M355.92 291.52h0M357.86 298.61h0M345.21 296.18h0M353.79 297.3h0M361.98 289.14h0M361.42 301.65h0M363.52 299.11h0M374.76 306.15h0M366.79 299.93h0M356.71 299.62h0M364.96 303.41h0M375.36 306.02h0M369.55 302.83h0M359.21 299h0M379.45 305.89h0M352.43 297.27h0M357.7 300.4h0M370.64 303.34h0M373.38 305.35h0M357.26 300.44h0M365.43 305.03h0M372.67 303.56h0M344.53 300.07h0M346.91 301.63h0M345.07 299.47h0M346.92 291.04h0M343.71 299.15h0M348.34 297.64h0M344.29 294.44h0M344.06 296.39h0M344.65 293.58h0M343.03 301.39h0M346.58 294.41h0M341.95 298.04h0M345.03 285.38h0M343.69 293.4h0M345.42 294.7h0M346.97 292.88h0M347.11 294.75h0M341.63 294.97h0M341.92 299.49h0M347.43 296.32h0M345.7 292.11h0M342.48 300.04h0M341.6 303.03h0M347.81 300.04h0M347.01 298.83h0M344.35 300.85h0M346.85 303.69h0M345.76 301.19h0M348.14 300.96h0M347.25 296.44h0M345.3 295.2h0M347.47 299.08h0M343.64 295.07h0M344.43 296.71h0M346.97 299.13h0M343.52 288.87h0M346.08 304.36h0M345.72 291.48h0M347.7 299.58h0M345.05 296.35h0M407.73 291.08h0M397.49 305.12h0M409.17 302.97h0M403.26 306.42h0M413.76 286.4h0M419.57 283.71h0M419.4 298.99h0M404.29 300.04h0M399.25 302.99h0M418.4 284.36h0M414.51 295.63h0M400.8 303.34h0M409.86 304.48h0M405.31 302.6h0M398.54 302.35h0M415.14 300.43h0M433.16 278.1h0M421.76 279.27h0M401.72 302.8h0M410.12 305.15h0M430.37 291.07h0M429.63 279.75h0M434.87 276.99h0M428.29 288.21h0M425.49 281.51h0M408.37 302.57h0M415.62 290.86h0M414.35 301.74h0M412.92 292.67h0M414.36 284.66h0M410.62 300.14h0M410.44 302.44h0M426.39 276.6h0M423.25 290.37h0M421.48 303.25h0M411.81 286.29h0M421.08 295.53h0M418.69 299.71h0M425.15 295.85h0M432.41 296.54h0M432.63 270.56h0M429.94 280.5h0M431.91 276.55h0M424.48 279.86h0M426 292.33h0M417.73 294.43h0M432.57 295.18h0M419.82 296.99h0M436.71 281.63h0M410.69 303.32h0M415.9 303.16h0M422.95 287.33h0M430.34 294.66h0M414.48 293.18h0M426.53 295.06h0M411.17 297.05h0M423.84 294.64h0M401.2 305.02h0M409.84 303.15h0M425.44 285.26h0M418.77 301.11h0M425.6 293.13h0M424.31 273.81h0M408.21 296.82h0M425.61 277.6h0M398.09 307.01h0M404 299.27h0M400.2 288.52h0M419.57 290.18h0M415.49 294.72h0M418.67 297.51h0M425.1 289.91h0M405.31 288.75h0M434.76 293.68h0M420.21 292.95h0M425.76 288.08h0M416.77 296.91h0M414.44 305.09h0M416.08 279.68h0M418.81 275.99h0M427.97 291.59h0M423.71 285.82h0M436.58 290.6h0M413.69 294.72h0M432.56 298.15h0M405.73 302.86h0M412.2 298.41h0M416.28 293.18h0M418.41 297.62h0M400.78 303.41h0M419.68 303.03h0M426.57 295.78h0M427.53 299.96h0M417.02 304.55h0M428.64 271.95h0M427.02 289.68h0M417.61 304.69h0M429.66 282.88h0M420.33 301.69h0M432.11 301.02h0M420.62 302.68h0M418.49 294.73h0M424.71 301.14h0M430.34 278.68h0M411.55 299.05h0M416.39 305.45h0M429.22 279.58h0M407.68 305.27h0M419.77 282.03h0M421.18 297.16h0M425.68 302.09h0M417.99 287.7h0M393.16 307.01h0M408.31 300.97h0M419.6 298.14h0M391.11 307h0M429.93 293.33h0M405.72 297.23h0M430.69 291.11h0M432.2 280.9h0M402.26 300.09h0M429.69 291.38h0M416.67 291.54h0M421.29 279.68h0M434.91 281.04h0M435.22 280.45h0M409.31 296.42h0M423.33 279.68h0M431.22 278.94h0M426.23 293.55h0M429.36 279.73h0M402.48 302.81h0M409.08 299.97h0M421.66 279.18h0M416.43 299.26h0M406.24 296.45h0M411.73 288.23h0M421.5 271.3h0M424.11 293.7h0M424.46 299.1h0M428.51 292.96h0M410.48 298.35h0M421.91 288.26h0M436.88 293.9h0M424.74 299.54h0M430.93 297.19h0M430.25 293.2h0M426.18 278.2h0M421.17 293.61h0M390.4 307.2h0M407.02 305.34h0M406.33 299.37h0M435.13 288.92h0M433.08 281.78h0M420.19 297.55h0M423.78 302.1h0M406.61 299.76h0M421.97 294.7h0M415.16 300.56h0M425.38 290.02h0M437.2 287.74h0M414.73 296.92h0M431.92 292.04h0M430.38 279.73h0M421.19 297.94h0M428.86 300.29h0M393.78 305.71h0M423.37 279.45h0M434.21 282.58h0M425.93 298.31h0M419.19 294.02h0M417.26 299.61h0M414.4 279.58h0M413.02 293.61h0M426.09 298.31h0M429.12 284.73h0M424.87 284.54h0M398.19 302.96h0M431.41 271.12h0M423.94 290.44h0M428.09 279.32h0M414.29 291.91h0M396.92 302.61h0M406.29 287.15h0M413.44 293.48h0M425.85 280.95h0M415.27 291.76h0M436 284.43h0M427.29 294.92h0M393.28 304.14h0M430.49 282.2h0M402.2 302.96h0M437.6 284.46h0M425.16 280.68h0M411.85 288.75h0M422.82 294.46h0M413.85 293.77h0M422.09 299.97h0M399.22 299.77h0M420.15 292.39h0M403.66 297.47h0M425.3 294.27h0M424.54 304.69h0M409.3 293.65h0M426.64 280.15h0M401.73 303.37h0M420.37 301.94h0M413.39 294.23h0M428.17 301.45h0M407.05 292.42h0M415.22 279.81h0M409.72 301.79h0M422.8 295.71h0M429.34 291.96h0M419.58 286.68h0M400.37 304.08h0M418.11 300.88h0M414.58 289.21h0M422.82 301.7h0M403.69 301.8h0M427.32 274.87h0M411.54 296.04h0M412.13 302.62h0M427.58 301.91h0M401.26 304.97h0M409.37 298.07h0M413.22 304.12h0M412.85 292.98h0M404.05 304.77h0M396.14 296.96h0M429.43 293.73h0M412.25 282.8h0M420.43 300.31h0M436.69 289.62h0M421.39 302.72h0M433.78 278.42h0M431.2 292.34h0M416.72 300.18h0M423.26 279.92h0M428.7 277.21h0M418.97 290.61h0M421.36 297.94h0M426.39 298.22h0M417.13 284.19h0M402.62 298.2h0M409.06 296.23h0M427.83 298.66h0M421.56 295.58h0M417.04 303.07h0M427.82 283.56h0M418.17 301.71h0M404.03 305.54h0M427.92 299.43h0M407.69 303.14h0M396.65 303.7h0M427.11 279.31h0M413.57 296.02h0M393.24 307.2h0M416.36 298.32h0M405.63 303.04h0M420.2 288.54h0M426.31 277.41h0M394.18 304.24h0M429.55 290.53h0M422.52 276.99h0M421.64 274.08h0M422.15 286.12h0M415.48 289.17h0M404.09 294.18h0M413.97 282.33h0M403.79 299.56h0M415.02 280.99h0M391.17 305.45h0M416.96 300.58h0M407.5 301.15h0M428.08 285.87h0M420.52 303.8h0M429.97 300.41h0M417.47 296.34h0M394.46 305.26h0M429.68 291.63h0M412.54 279.75h0M391.92 306.08h0M407.36 301.95h0M436.17 293.06h0M407.19 299.44h0M418.67 293.38h0M417.23 301.35h0M404.85 300.68h0M401.47 299.68h0M407.28 304.99h0M423.16 295.55h0M438.08 283.32h0M431.85 296.82h0M392.65 306.61h0M413.34 302.09h0M433.72 283.74h0M414.99 298.51h0M434.74 280.77h0M402.96 300.97h0M422.55 281.07h0M426.88 288.97h0M428.27 301.66h0M404.74 304.65h0M422.52 302.64h0M432.96 285.04h0M427.5 291.06h0M411.48 301.88h0M428.49 295.36h0M431.17 275.35h0M423.9 299.1h0M436.56 285.04h0M431.41 273.24h0M408.06 283.73h0M413.44 302.11h0M420.79 277.81h0M399.78 303.45h0M433.05 288.17h0M436.27 277.05h0M429.14 300.85h0M431.87 292.09h0M428.51 292.63h0M428.61 293.86h0M431.84 277.16h0M400.53 303.6h0M397.72 306.34h0M395.36 300.82h0M433.31 280.47h0M430.53 299.2h0M430.67 303.07h0M401.27 302.98h0M435.32 298.88h0M436.53 287.36h0M434.38 282.24h0M393.62 305.64h0M435.85 275.45h0M406.73 303.27h0M401.06 301.21h0M429.58 287.04h0M414.1 291.16h0M426.34 287.2h0M400.87 304.94h0M409.34 299.92h0M436.84 284.61h0M394.99 301.81h0M410.55 295.04h0M425.61 293.72h0M391.9 307.17h0M420.88 295.36h0M413.09 302.21h0M412.66 300.88h0M410.8 295.88h0M403.25 302.72h0M434.1 272.48h0M429.79 282.89h0M400.85 303.35h0M405.38 304.81h0M399.14 301.09h0M419.38 300.07h0M433.14 300.56h0M433.17 298.96h0M421.18 301.95h0M407.16 289.43h0M402.05 302.72h0M404.2 306.19h0M414.52 305.59h0M396.1 306.08h0M421.37 279.62h0M433.57 283.66h0M420.16 276.09h0M414 302.93h0M403.61 305.32h0M411.14 301.61h0M397.58 304.64h0M404 296.09h0M415.77 301.27h0M428.51 275.13h0M424.02 301.32h0M401.69 305.95h0M420.59 287.25h0M433.44 281.15h0M403.04 305.02h0M407.48 303.99h0M416.51 301.8h0M423.12 289.45h0M408.64 303.03h0M421.76 298.11h0M429.55 283.81h0M417.56 295.6h0M411.23 301.46h0M401.63 305.54h0M429.65 279.83h0M435.06 272.52h0M434.84 297.54h0M429.66 278.81h0M410.78 288.43h0M402.07 302.79h0M395 306.42h0M437.07 291.91h0M411.16 298.25h0M400.2 305.29h0M420.36 283.89h0M426.23 282.55h0M425.17 295.77h0M424.64 293.61h0M424.36 290.3h0M433.38 299.62h0M418.33 289.86h0M417.35 288.75h0M401.89 305.6h0M395.56 306.58h0M420.1 295.68h0M426.66 285.72h0M414.04 304.62h0M418.45 301.86h0M428.14 288.84h0M437.82 292.75h0M426.87 290.35h0M406.29 300.22h0M414.45 297.47h0M414.33 297.74h0M421.66 296.89h0M427.59 290.59h0M422.66 277.55h0M408.31 304.89h0M414.46 300.08h0M427.56 291.88h0M423.53 274.74h0M420.47 286.42h0M423.06 275.4h0M419.75 302.24h0M414.61 296.72h0M437.5 297.43h0M418.51 279.56h0M408.39 296.31h0M401.14 299.64h0M418.57 289.75h0M416.61 293.99h0M427.21 279.4h0M424.1 273.97h0M418.84 280.54h0M433.43 288.97h0M415.52 298.32h0M430.53 270.92h0M408.46 299.7h0M406.44 304.18h0M437.23 296.18h0M399.59 297.04h0M426.56 268.48h0M400.56 301.38h0M419.75 286.44h0M406.61 292.51h0M419.46 296.57h0M408.69 304.16h0M417.53 284.05h0M426.3 286.66h0M432.16 293.24h0M417.58 293.72h0M427.55 279.76h0M414.14 296.59h0M436.46 284.54h0M427.87 288.55h0M397.65 303.21h0M413.33 301.02h0M435.36 278.45h0M411.4 299.22h0M420.38 294.84h0M407.08 299.66h0M431.92 280.31h0M432.67 280.9h0M408.21 296.87h0M431.43 293.12h0M430.2 299.95h0M430.02 271.38h0M420.28 283.45h0M399.21 300.11h0M410.62 295.2h0M423.08 283.62h0M408.43 304.55h0M421.93 299.16h0M433.4 279.49h0M399.38 305.39h0M412.95 303.41h0M437.73 286.38h0M408.56 295.12h0M422.5 291.1h0M390.8 307.2h0M426.48 298.42h0M400.7 306.22h0M407.72 291.36h0M429.93 293.11h0M421.16 281.98h0M428.49 294.97h0M416.62 270.5h0M418.44 290.92h0M419.37 302.56h0M401.16 302.71h0M427.64 273.62h0M426.69 295.22h0M401.34 301.95h0M432.98 302.2h0M392.9 307h0M409.41 303.47h0M402.92 296.33h0M420.94 300.61h0M391.33 303.71h0M429.02 303.4h0M422.54 300.84h0M421.87 276.72h0M409.26 301.86h0M422.35 294.06h0M407.59 297.11h0M432.23 282.03h0M434.91 282.82h0M428.45 279.45h0M411.27 304.56h0M410.37 302.54h0M415.63 300.64h0M425.45 297.49h0M414.37 303.49h0M410.61 294.07h0M408.98 298.45h0M430.7 278.59h0M406.5 303.61h0M435.3 279.16h0M429.03 296.36h0M427.17 278.84h0M412.19 296.59h0M424.26 292.25h0M422.97 303.35h0M415.57 288.96h0M421.7 275.7h0M435.36 273.34h0M415.3 288.21h0M410.06 306.05h0M400.08 304.17h0M402.89 302.89h0M416.1 292.8h0M410.62 302.74h0M400.62 298.26h0M412.32 300.49h0M421.26 284.33h0M414.35 299.76h0M393.7 306.56h0M398.47 304.38h0M391.5 305.74h0M421.44 279.48h0M424.03 296.83h0M397.51 306.54h0M414.63 306.37h0M423.75 304.2h0M418.43 298.42h0M422.59 290.83h0M409.31 300.51h0M424.37 293.53h0M408.33 295.94h0M413.28 297.82h0M406.6 302.58h0M432.76 272.9h0M425.38 275.1h0M420.13 285.8h0M416.44 296.08h0M404.34 304.17h0M407.86 304.46h0M432.62 280.66h0M433.36 279.18h0M420.85 299.4h0M418.16 288.87h0M415.97 303.05h0M398.18 303.9h0M393.74 305.92h0M403.55 296.38h0M416.98 293.94h0M431.98 299.33h0M417.25 300.35h0M394.9 306.44h0M397.76 304.43h0M397.63 305.15h0M431.58 290.55h0M417.11 295.41h0M414.66 296.88h0M409.54 301.09h0M416.74 303.43h0M435.68 286.8h0M416.87 280.87h0M429.34 295.62h0M432.59 291.82h0M406.8 296.09h0M416.27 298.52h0M424.27 291.48h0M432.56 299.1h0M422.63 296.75h0M403.55 302.39h0M393.69 306.2h0M399.49 302.85h0M431.26 280.74h0M423.35 292.4h0M416.02 298.05h0M431.37 294.48h0M414.21 286.09h0M432.54 279.96h0M426.11 286.71h0M427.9 279.59h0M408.89 295.78h0M426.47 268.27h0M398.24 299.17h0M410.86 297.23h0M424.51 299.06h0M425.71 289.38h0M395.86 305.23h0M405.57 298.85h0M402.89 306.7h0M402.62 303.78h0M424.28 282.03h0M409.96 303.65h0M427.87 297.56h0M411.87 298.31h0M404.44 303.37h0M422.41 279.22h0M392.13 306.49h0M435.97 286.91h0M424.09 278.54h0M425.71 295.6h0M403.98 302.53h0M425.79 281.87h0M412.14 290.37h0M406.28 295.35h0M417.53 299.31h0M429.28 299.5h0M416.65 291.06h0M413.53 278.84h0M431.21 273.72h0M428.97 293.84h0M421.66 300.51h0M405.36 302.32h0M429.17 301.88h0M396.68 301.81h0M433.45 279.2h0M405.01 303.99h0M413.92 303.76h0M433.74 271.4h0M417.25 300.3h0M407.7 293.51h0M412.32 300.07h0M394.26 306.52h0M406.95 298.08h0M397.51 306.07h0M430.35 289.6h0M435.42 283.96h0M419.09 297.34h0M437.53 293.51h0M422.35 278.25h0M429.58 288.59h0M416.96 293.95h0M425.14 297.19h0M433.25 297.06h0M414.9 293.61h0M412.88 301.21h0M422.85 286.31h0M415.06 292.59h0M398.14 304.92h0M406.18 301.15h0M418.5 299.51h0M394.7 307.04h0M422.16 295.66h0M433.47 287.57h0M397.34 306.84h0M400.5 305.49h0M402.57 305.46h0M403.18 298.2h0M430.47 292.21h0M399.79 297.96h0M411.96 302.86h0M433.81 274.78h0M421.46 282.73h0M421.83 295.83h0M410.99 300.96h0M422.11 296.59h0M400.65 302.59h0M417 299.87h0M431.41 271.83h0M405.47 307.16h0M402.3 303.03h0M416.82 302.14h0M408.29 286.59h0M412.53 284.44h0M420.61 274.18h0M419.54 295.7h0M404.93 295.68h0M427.17 288.19h0M427.2 291.74h0M419.22 300.28h0M411.71 295.93h0M413.81 299.08h0M418.8 300.31h0M422.23 288.68h0M398.97 304.27h0M425.45 300.18h0M428.64 294.15h0M428.02 278.94h0M420.94 299.43h0M402.68 292.27h0M401.74 303.14h0M397.29 306.78h0M422.79 277.61h0M418.39 295.44h0M409.57 299.86h0M419.72 279.55h0M392.02 306h0M422.69 286.39h0M402.56 299.01h0M426.84 279.81h0M424.68 282.99h0M409.21 302.33h0M425.45 274.45h0M424.05 293.86h0M407.5 298.47h0M403.78 297.44h0M392.08 306.43h0M414.68 289.33h0M415.77 287.64h0M390.09 306.88h0M410.47 290.03h0M418.53 298.39h0M405.83 304.28h0M432.97 281.03h0M408.65 288.61h0M421.04 295.88h0M434.38 293.36h0M417.86 294.17h0M414.99 292.15h0M434.42 280.75h0M404.16 302.4h0M422.89 279.24h0M423.91 282.64h0M421.23 295.51h0M406.9 292.42h0M426.57 289.58h0M409.64 290.89h0M415.56 294.92h0M433.02 292.62h0M430.08 277.56h0M425.49 298.72h0M418.7 282.65h0M418.73 281.58h0M419.21 295.18h0M418.95 301.19h0M435.85 300.49h0M416.37 283.13h0M424.39 295.51h0M436.75 291.44h0M425.94 279.41h0M433.05 281.24h0M420.29 299.28h0M427.05 295.74h0M416.05 295.89h0M436.11 286.69h0M400.09 306.88h0M423.06 297.62h0M410.06 302.79h0M426.57 300.76h0M395.53 296.96h0M428.38 291.02h0M435.81 285.59h0M424.16 284.76h0M400.85 302.47h0M412.14 301.29h0M403.9 304.6h0M408.25 299.9h0M414.5 302.51h0M420.97 291.93h0M417.7 292.28h0M426.02 294.74h0M413.47 298.83h0M429.52 281.62h0M413.26 302.62h0M425.45 283.2h0M414.82 297.59h0M416.36 295.63h0M433.09 272.68h0M402.45 302.83h0M430.53 294.59h0M409.6 295.32h0M417.51 303h0M424.51 287.97h0M436.38 276.86h0M399.56 304.76h0M433.98 287.92h0M424.36 278.1h0M400.81 303.72h0M413.49 294.27h0M408.37 302.1h0M394 307.2h0M420.34 287.37h0M431.98 268.81h0M428.26 295.43h0M411.94 305.15h0M409.8 298.77h0M413.14 295.45h0M430.5 288.34h0M427.88 282.27h0M433.99 295.18h0M433.03 279.17h0M417.07 297.07h0M399.23 306.37h0M425.08 286.59h0M427.6 299.94h0M433.24 280.52h0M399.28 304.07h0M409.41 298.59h0M424.97 277.08h0M423.39 292.82h0M430.28 285.29h0M431.13 296.98h0M402.89 305.99h0M412.12 302.75h0M436.29 284.89h0M401.63 302.44h0M430.06 289.09h0M425.43 286.52h0M429.38 287.24h0M425.02 294.64h0M432.35 285.65h0M398.72 297.17h0M402.54 301.06h0M415.86 287.74h0M403.67 295.46h0M404.86 304.22h0M418.7 296.5h0M429.28 293.26h0M424.02 291.06h0M400.23 295.07h0M433.11 301.93h0M433.12 283.44h0M425.79 279.67h0M408.87 297.21h0M401.32 302.03h0M422.38 302.42h0M416.97 285.68h0M419.89 292.67h0M410.61 291.42h0M424.65 279.28h0M404.06 301.73h0M397.79 305.12h0M428.65 292.97h0M411.77 302.94h0M408.06 289.97h0M413.54 295.65h0M418.94 284.88h0M430.96 271.11h0M391.58 306.71h0M425.56 289.11h0M416.37 292.13h0M413.33 300.81h0M430.15 285.9h0M407.65 295.3h0M416.38 299.69h0M425.44 296.15h0M431.62 288.19h0M423.41 299.9h0M422.25 287.96h0M435.58 284.08h0M426.05 289.82h0M435.1 284.5h0M436.5 288.02h0M423.77 294.94h0M418.42 302.33h0M407.76 297.17h0M407.52 305.77h0M436.2 296.68h0M412.51 296.99h0M416.49 295.65h0M436.48 284.77h0M430.06 282.04h0M415.12 295.87h0M429.91 279.81h0M426.45 287.74h0M415.74 286.82h0M435.04 281.3h0M398.9 302.45h0M407.86 301.59h0M412.33 287.38h0M401.77 302.58h0M421.24 296.47h0M424.33 291.65h0M430.51 274.1h0M416.67 295.28h0M414.1 299.68h0M429.35 285.13h0M415.66 301.91h0M401.18 305.12h0M415.01 294.46h0M431.7 273.93h0M425.5 284.91h0M429.55 298.21h0M418.87 283.15h0M428.78 284.35h0M432.45 291.79h0M399.45 305.09h0M426.19 291.04h0M435.21 283.74h0M410.72 286.08h0M409.83 301.83h0M395.67 306.93h0M412.55 294.94h0M403.84 298.83h0M406.33 302.69h0M432.91 296.44h0M425.27 299.41h0M424.46 305.65h0M415.23 296.2h0M422.82 295.58h0M403.45 304.85h0M417.48 297.57h0M426.71 293.03h0M403.64 304.63h0M418.77 293.33h0M404.98 301.86h0M434.83 274.37h0M426.76 290.94h0M419.55 292.42h0M432.38 290.55h0M412.53 303.44h0M424.18 284.59h0M429.11 295.54h0M433.19 292.9h0M419.45 288.76h0M416.34 294.33h0M420.38 296.24h0M418.72 295.25h0M432.55 301.4h0M421.1 299.86h0M436.07 291.35h0M430.59 284.46h0M403.54 305.62h0M409.41 294.79h0M411.99 296.26h0M431.19 298.83h0M410.98 287.57h0M415.6 299.18h0M416.64 297.06h0M411.45 297.4h0M413.79 304.25h0M398.89 301.12h0M430.77 279.12h0M434.8 289.06h0M418.79 298.45h0M420.39 286.42h0M431.28 273.23h0M414.6 304.29h0M423.83 280.07h0M394.47 306.62h0M423.47 285.64h0M432.22 281.51h0M433.64 284.33h0M429.71 287.17h0M423.03 290.62h0M428.37 272.76h0M425.78 299.68h0M409.88 305.49h0M435.72 282.9h0M405.34 301.03h0M423.02 298.38h0M395.39 306.35h0M417.75 300.5h0M413.71 304.71h0M398.93 304.99h0M433.5 282.2h0M430.56 279.73h0M405.23 301.52h0M414.16 302.56h0M423.46 276.11h0M435.49 289.48h0M432.71 279.74h0M399.14 305.52h0M435.04 282.39h0M408.73 305.57h0M396.86 306.37h0M405.43 294.02h0M424.65 293.58h0M436.64 298.59h0M406.06 301.21h0M423.01 288.99h0M430.47 279.67h0M431.62 288.71h0M413.91 297.5h0M411.83 298.47h0M427.94 294.21h0M419.36 298.37h0M437.97 291.69h0M416.06 276.46h0M422.32 298.08h0M427.92 292.93h0M416.81 288.94h0M422.34 299.19h0M423.07 294.66h0M418.04 280.65h0M419.19 300.72h0M420.12 300.44h0M429.97 300.29h0M412.91 299.39h0M436.26 274.63h0M410.48 298.31h0M416.69 282.19h0M419.82 287.96h0M399.32 304.96h0M418.93 287.21h0M427.4 268.12h0M427.11 290.09h0M422.64 287.78h0M426.93 298.56h0M413.51 298.79h0M429.06 290.96h0M410.81 297.91h0M409.41 295.83h0M400.34 305.54h0M401.32 305.04h0M411.44 298h0M424.64 279.64h0M405.83 298.12h0M409.01 302.15h0M405.65 299.51h0M432.75 284.78h0M434.39 273.04h0M408.35 301.75h0M404.43 303.91h0M409.86 303.55h0M416.24 299.53h0M422.99 296.07h0M402.1 301.09h0M422.09 295.94h0M426.12 295.28h0M396.88 299.81h0M411.39 300.16h0M428.19 278.88h0M402.24 302.85h0M409.03 298.82h0M402.66 304.91h0M417.25 282.06h0M420.46 275.12h0M412.52 289.45h0M434.19 297.61h0M389.45 307.2h0M425.27 279.67h0M407.76 294.38h0M411.48 293.6h0M433.82 281.15h0M418.83 282.38h0M423.21 278.88h0M422.22 286.9h0M430.4 278.76h0M410.41 304.02h0M406.23 294.15h0M413.21 298.69h0M408.02 299.6h0M420.22 285.17h0M413.62 299.5h0M411.08 300.77h0M428.22 290.39h0M435.42 298.13h0M405.82 299.32h0M413.34 297.23h0M420.68 304.17h0M422.4 285.48h0M415.84 295.07h0M397.42 306h0M419.73 270.87h0M403.81 279.73h0M426.55 270.87h0M423.02 299.19h0M416.96 286.45h0M408.9 304.82h0M430.29 298.32h0M411.75 282.96h0M424.59 286.96h0M433.98 280.9h0M404.39 299.82h0M429.84 299.83h0M405.83 302.18h0M414.06 294.63h0M393.28 305.54h0M422.76 300.87h0M421.09 297.79h0M428.03 297.19h0M427.34 297.3h0M398.51 305.1h0M407.84 297.4h0M431.29 285.73h0M423.37 293.03h0M419.43 293.31h0M431.38 295.46h0M430.91 303.92h0M417.89 301.37h0M411.02 299.26h0M401.93 305.94h0M425.33 299.3h0M418.39 292.82h0M416.97 303.74h0M406.24 283.85h0M420.74 302.72h0M427.77 294.59h0M395.25 306.51h0M420.72 291.61h0M422.13 304.94h0M411.25 300.67h0M427.85 281.72h0M416.55 287.75h0M403.01 299.6h0M427.67 279.82h0M425.32 301.34h0M422.96 284.63h0M412.25 300.59h0M410.72 295.61h0M420.43 291.77h0M417.77 295.16h0M428.56 302.61h0M400.81 302.97h0M411.26 278.71h0M413.75 298.17h0M407.15 304.93h0M425.16 298.2h0M408.35 300.93h0M433.22 293.3h0M427.8 292.31h0M437.15 285.11h0M405.11 305.93h0M408.55 302.92h0M423.16 290.32h0M402.9 304.18h0M418.77 294.55h0M431.07 295.29h0M423.11 275.66h0M431.87 280.1h0M411.39 285.18h0M426.21 287.41h0M428.42 282.97h0M413.17 299.76h0M424.36 288.76h0M417.14 300.1h0M432.78 297.04h0M431.94 293.26h0M426.47 286.24h0M414.41 274.9h0M428.2 291.69h0M412.31 293.12h0M409.14 278.42h0M399.62 304.62h0M412.19 300.14h0M392.76 306.46h0M433.46 287.4h0M423.33 285.87h0M419.77 292.78h0M411.8 297.42h0M416.45 294.41h0M416.95 294.31h0M430.12 300.98h0M402.82 298.9h0M435.6 291.61h0M407.55 302.64h0M417.63 288.18h0M426.44 290.34h0M434.54 286.97h0M407.83 303.75h0M429.61 278.86h0M428.81 299.44h0M420.57 285.8h0M426.87 287.06h0M407.92 305.75h0M403.52 299.41h0M417.39 295.94h0M413.2 296.54h0M414.64 299.35h0M409.39 295.18h0M415.61 304.64h0M425.49 293.07h0M428.35 279.25h0M405.21 300.98h0M432 296.35h0M422.22 279.33h0M404.94 302.12h0M429.88 276.58h0M398.96 305.83h0M429.14 283.01h0M418.85 299.46h0M402.23 304.62h0M431.5 282.44h0M418.95 300.11h0M422.36 281.92h0M436.02 283.55h0M426.36 283.83h0M412.29 298.4h0M421.03 300.16h0M397.15 306.44h0M421.31 275.01h0M407.27 298.5h0M424.5 291.34h0M433.38 286.14h0M397.17 303.95h0M420.59 300.19h0M425.86 303.21h0M418.91 279.69h0M403.94 294.95h0M435.89 278.7h0M421.36 293.68h0M413.61 293.99h0M432.12 292.36h0M406.63 302.7h0M428.92 293.86h0M417.76 295.27h0M429.47 283.59h0M436.56 286.2h0M429.29 285.94h0M401.78 304.99h0M407.88 305.66h0M419.33 279.5h0M415.11 300.22h0M420.58 299.81h0M432.97 290.43h0M413.04 302.23h0M419.39 279.56h0M410.27 279.16h0M431.44 278.56h0M421.57 300.96h0M421.77 301.85h0M405.83 298.36h0M393.91 305.53h0M403.32 305.4h0M396.46 304.42h0M413.12 291.69h0M421.11 280.36h0M420.04 283.9h0M419.51 294.18h0M410.35 297.92h0M409.33 301.18h0M409.5 304.69h0M410.36 300.15h0M412.69 303.86h0M399.29 303.7h0M398.34 304.69h0M417.92 304h0M391.5 307.2h0M404.33 297.23h0M404.44 306.32h0M414.48 298.98h0M431.37 291.46h0M403.75 303.6h0M426.59 291.91h0M432.05 281.04h0M420.55 300.04h0M409.59 303.97h0M428.71 286.56h0M399.85 304.89h0M413.36 299.28h0M428.71 298.97h0M428.56 271.32h0M404.7 300.78h0M425.9 290.45h0M412.21 300.6h0M426.68 274.53h0M405.35 297.62h0M412.53 300.89h0M428.8 284.58h0M412.8 291.33h0M429.67 290.12h0M422.77 300.28h0M414.43 296.14h0M432.41 278.38h0M407.64 301.53h0M437.84 292.51h0M427.71 278.97h0M402.36 302.49h0M398.95 303.17h0M398.92 303.95h0M417.61 276.51h0M394.82 306.2h0M402.47 304.76h0M430.19 300.6h0M407.69 302.64h0M415.39 297.32h0M429.05 287.53h0M428.21 286.8h0M436.19 294.88h0M411.63 296.15h0M397.44 304.46h0M415.16 305.31h0M416.84 279.59h0M423.42 278.93h0M436.22 293h0M435.27 292.97h0M422.35 293.92h0M408.41 303.68h0M420.09 280.07h0M408.62 299.06h0M436.41 289.1h0M410.23 294.1h0M426.43 299.61h0M417.03 301.16h0M422.56 287.85h0M429.19 298.71h0M424.49 291.92h0M433.06 279.12h0M434.52 279.21h0M422.96 280.26h0M401.68 300.83h0M435.85 296.11h0M417.71 300.58h0M399.75 305.72h0M435.17 294.26h0M427.13 289.11h0M405.62 302.98h0M412.57 300.12h0M426.67 294.92h0M428.4 291.29h0M416.1 294.75h0M427.29 291.77h0M422.98 279.22h0M418.22 282.94h0M421.78 299.52h0M413.72 298.78h0M412.68 303.27h0M399.96 302h0M407.44 298.85h0M420.55 301.17h0M433.61 273.56h0M415.91 294.71h0M429.15 294.78h0M419.7 297.85h0M426.33 290.13h0M418.5 303.1h0M412.52 288.45h0M433.52 272.22h0M402.79 301.28h0M415.79 301.07h0M410.89 302.26h0M398.3 301.72h0M419.85 289.47h0M429.72 291.27h0M411.39 292.03h0M409.4 304.03h0M413.87 298.09h0M403.68 304.73h0M414.4 290.78h0M413.74 301.14h0M406.18 306.8h0M409.02 298.82h0M405.42 304.71h0M434.77 284.22h0M433.99 297.18h0M430.51 298.06h0M425.03 290.19h0M400.56 303.45h0M430.84 290.45h0M426.13 282.39h0M395.38 305.44h0M397.89 303.56h0M429.46 293.85h0M406.15 304.07h0M413.18 303.47h0M415.6 294.29h0M422.09 302.36h0M416.46 299.17h0M419.15 293.05h0M393.77 305.61h0M400.86 304.55h0M425.92 285.66h0M419.38 303.8h0M415.76 286.54h0M415.93 297.24h0M429.82 276.04h0M414.98 297.01h0M402.02 298.92h0M401.67 303.44h0M423.17 279.19h0M419.34 297.44h0M426 294.35h0M415.84 283.4h0M421.33 291.75h0M396.75 304.82h0M421.52 286.76h0M410.36 302.45h0M418.25 299.87h0M414.74 301.72h0M396.69 306.18h0M428.58 286.68h0M432.61 270.27h0M415.51 305.17h0M415.41 293.08h0M410.27 299.57h0M427.84 289.6h0M428.21 282.13h0M422.78 291.56h0M431.08 278.64h0M420.52 279.02h0M422.67 295.95h0M420.81 268.23h0M419.03 294.72h0M402.32 296.02h0M427.78 297.37h0M422.88 297.73h0M426.34 282.3h0M426.63 280.92h0M430.41 292.45h0M425.81 285.46h0M412.24 298.23h0M407.69 298.51h0M428.31 279.55h0M396.56 305.87h0M396.75 306.12h0M404.78 296.31h0M409.81 288.87h0M422.62 302.6h0M432.48 301.62h0M411.55 296.55h0M431.95 279.07h0M427.99 290.83h0M425.05 300.25h0M419.27 291.36h0M425.19 295.52h0M427.24 300.6h0M412.42 291.85h0M410.75 299.84h0M424.27 298.36h0M435.41 281.98h0M420.89 294.61h0M397.12 306.58h0M420.59 299.46h0M425.46 297.22h0M403.71 303.71h0M427.3 282.97h0M411.97 303.79h0M405.77 304.22h0M409.05 289.17h0M434.99 290.04h0M416.78 298.01h0M398.44 301.17h0M414.66 298.45h0M431.76 280.03h0M415.73 300.74h0M425.61 284.69h0M425.57 279.74h0M419.66 301.28h0M403.56 300.81h0M417.42 283.91h0M411.57 290.11h0M399.18 305.16h0M408.71 301.78h0M413.69 300.69h0M397.24 306.98h0M418.5 298.37h0M420.23 287.92h0M423.98 294.24h0M403.01 304.02h0M434.61 287.71h0M427.73 279.81h0M429.56 274.65h0M434.86 279.2h0M433.94 302.36h0M419.18 288.58h0M426.3 287.04h0M432.02 299.77h0M425.27 282.73h0M399.33 305.73h0M419.44 294.39h0M392.17 305.95h0M401.77 275.37h0M413.55 283.85h0M432.16 297.37h0M431.42 293.69h0M407.66 292.24h0M431.23 285.02h0M430.89 283.3h0M415.18 292.33h0M416.82 299.05h0M410.54 302.79h0M401.34 300.9h0M427.45 278.54h0M429.92 298.11h0M408.45 301.06h0M413.19 296.25h0M422.53 277.68h0M398.82 302.73h0M405.68 303.16h0M403.9 289.81h0M428.96 301.7h0M406.44 303.45h0M406.13 300.12h0M400.68 304.66h0M431.39 277.11h0M414.74 305.53h0M422.05 299.75h0M426.64 295.54h0M408.02 296.09h0M407.2 298.51h0M426.09 289.1h0M406.45 284.29h0M434.44 274.55h0M410.97 305.71h0M413.75 289.62h0M426 299.49h0M426.76 297.81h0M434.46 273.19h0M414.06 291.83h0M406.2 300.33h0M423.33 279.76h0M436.76 287.08h0M425.1 281.3h0M407.68 301.76h0M416.59 299.87h0M403.59 303.23h0M428.89 300.54h0M420.03 278.83h0M422.76 296.54h0M418.3 294.82h0M420.8 290.05h0M421.27 278.35h0M430.22 277.75h0M429.79 291.87h0M428.02 292.47h0M408.23 295.05h0M422.11 277.57h0M426.06 291.46h0M434.92 289.37h0M424.04 276.31h0M417.26 291.03h0M410.64 301.35h0M427.86 301.65h0M400.8 304.58h0M423.5 272.86h0M418.34 289.41h0M427.44 287.71h0M409.78 293.8h0M420.65 276.47h0M403.55 303.97h0M402.52 300.51h0M420.56 270.45h0M419.32 292.13h0M399.97 298.88h0M416.05 290.04h0M431.81 295.38h0M415.04 291.87h0M399.27 297.83h0M418.37 282.52h0M420.77 298.86h0M415.12 292.68h0M431.77 293.62h0M417.53 299.19h0M421.77 303.37h0M432.14 272.63h0M403.48 304.2h0M401.66 305.51h0M417.26 303.68h0M412.26 294.89h0M418.2 288.84h0M420.29 301.81h0M434.94 288.33h0M409.79 304.48h0M409.48 304.71h0M423.43 299.16h0M422.25 289.76h0M427.72 283.41h0M434.42 282.85h0M398.65 302.47h0M399.97 306.08h0M411.14 297.63h0M420.08 291.88h0M425.53 276.97h0M435.6 297.96h0M412.71 302.29h0M423.31 278.96h0M407.28 302.42h0M436.57 281.95h0M407.39 303.44h0M414.93 293.72h0M405.64 299.58h0M415.55 298.25h0M415.96 305.1h0M412.83 303.1h0M412.21 286.97h0M434.86 300.38h0M403.35 303.4h0M426.31 291.27h0M424.71 281.71h0M437.42 291.39h0M414.56 285.86h0M426.6 299.32h0M417.2 304.05h0M414.72 301.81h0M436.98 280.07h0M430.57 290.25h0M422.48 299.98h0M424.68 293.47h0M420.18 298h0M412.6 302.89h0M406.04 299.78h0M410.26 293.18h0M406.46 296.63h0M396.79 303.28h0M423.43 279.44h0M417.15 301.85h0M395.38 303.25h0M405.79 299.61h0M403.32 302.18h0M437.64 282.72h0M426.6 284.74h0M432 289.08h0M432.61 280.75h0M414.62 294.14h0M413.04 294.18h0M425.92 298.62h0M413.79 285h0M405.91 306.14h0M416.84 297.27h0M426.08 281.17h0M431.93 277.63h0M403.27 305.3h0M420.5 294.52h0M417.46 287.61h0M412.79 301.59h0M413.42 301.56h0M413.6 298.74h0M422.02 292.6h0M429.53 292.57h0M417.3 279.2h0M415.84 301.79h0M429.5 291.15h0M421.56 299.25h0M430.77 281.26h0M419.31 288.22h0M426.51 288.36h0M410.19 301.25h0M399.09 303.31h0M412.25 284.46h0M402.79 300.26h0M436.38 288.49h0M414.25 295.77h0M405.79 301.54h0M425.21 286.95h0M421.21 298.8h0M434.59 282.92h0M425.5 297.69h0M404.62 305.67h0M416.04 299.01h0M430.98 284.02h0M409.28 297.31h0M417.94 291.49h0M428.09 293.35h0M426.01 287.44h0M414.92 285.29h0M419.06 295.2h0M408.5 300.41h0M436.02 291.24h0M434.23 296.13h0M431.84 293.35h0M404.44 295.76h0M405.91 303.2h0M422.4 295.45h0M405.63 298.02h0M413.7 300.38h0M399.99 304.14h0M400.51 306.01h0M428.07 277.29h0M425.79 300.68h0M417.85 278.87h0M411.86 301.79h0M403.61 294.83h0M415.18 300.01h0M423.63 292.23h0M417.38 295.76h0M431.5 279.54h0M415.29 300.32h0M410.53 303.05h0M411.52 289.82h0M391.64 307.02h0M433.66 282.7h0M405.21 301.61h0M436.76 298.39h0M399.87 306.1h0M437.03 285.65h0M407.57 302.42h0M402.08 299.97h0M414.01 301.11h0M426.74 293.7h0M411.29 299.01h0M426.32 301.06h0M424.28 288.69h0M431.73 280.88h0M407.23 302.97h0M427.11 289.3h0M397.3 306.17h0M424.68 293.6h0M424.2 300.26h0M421.21 300.49h0M409.63 300.96h0M423.31 279.74h0M406.26 301.74h0M424.58 272.96h0M413.48 299.74h0M414.35 286.65h0M427.61 296.51h0M414.77 301.1h0M432.18 299.15h0M402.52 306.35h0M414.96 283.96h0M405.89 301.45h0M414.18 292.7h0M419.41 293.98h0M432.9 288.55h0M404.48 303.71h0M426.88 294.86h0M416.95 287.56h0M436.13 283.36h0M402.38 302.01h0M403.63 303.73h0M409.88 297.37h0M413.85 284.3h0M411.56 295.56h0M431.08 279.8h0M417.58 272.33h0M390.46 307.2h0M435.73 297.19h0M432.74 278.46h0M418.76 299.72h0M429.54 290.91h0M427.32 278.63h0M399.36 305.89h0M412.89 292.42h0M430.92 298.67h0M431.09 279.81h0M417.58 304.13h0M421.62 291.98h0M422.82 284.48h0M429.25 293.14h0M416.08 292.74h0M415.86 305.59h0M418.34 299.96h0M388.92 307.2h0M435.72 293.03h0M426.84 278.76h0M435.99 284.47h0M418.9 293.57h0M396.98 304.44h0M408.6 287.11h0M426.59 279.05h0M423.86 292.36h0M417.41 294.6h0M428.1 291.58h0M431.67 292.92h0M409.82 301.5h0M431.19 290.93h0M411.75 304.39h0M425.94 302.77h0M421.56 289.88h0M408.29 296.59h0M430.5 293.82h0M410.31 300.98h0M422.15 284.58h0M412.74 302.83h0M433.96 286.24h0M419.2 302.46h0M399.66 306.14h0M416.37 295.86h0M425.01 293.23h0M413.51 300.76h0M429.55 295.68h0M405.98 299.74h0M418.86 294.09h0M418.38 291.37h0M399.28 303.13h0M409.31 297.88h0M428.15 281.94h0M433.3 281.77h0M399.7 300.43h0M417.04 283.87h0M431.12 272.21h0M417.64 303.86h0M416.25 299.81h0M402.47 304.93h0M426 300.26h0M431.35 287.3h0M418.63 290.08h0M433.94 278.03h0M420.06 302.78h0M418.39 289.47h0M401.05 305.64h0M419.98 287.45h0M407.9 301.38h0M421.64 302.46h0M425.97 278.15h0M404.47 304.74h0M432.94 279.42h0M394.61 304.41h0M414.23 299.68h0M407.61 305.45h0M414.96 294.04h0M421.89 282.5h0M425.03 291.43h0M426.53 298.85h0M420.28 285.54h0M417.85 295.93h0M429.43 278.47h0M424.04 292.22h0M427.88 279.59h0M401.4 301.26h0M426.03 294.71h0M398.6 305.98h0M421.06 284.39h0M399.48 304.27h0M427.08 286.82h0M400.86 305.62h0M412.87 286.47h0M403.27 303.6h0M435.82 293.84h0M410.83 296.92h0M421.39 279.68h0M407.55 301.79h0M412.05 300.29h0M416.01 294.36h0M425.68 301.35h0M396.75 306.38h0M427.97 288.03h0M425.24 279.61h0M436.75 283.8h0M434.04 289.87h0M400.19 304.01h0M407.41 303.3h0M432.73 280.98h0M436.98 280.33h0M435.25 298.04h0M410.24 279.69h0M410.27 297.6h0M403.85 303.32h0M413.13 290.14h0M411.82 300.59h0M397.2 304.46h0M416.4 294.67h0M416.52 295.32h0M413.78 296.58h0M430.77 268.54h0M436.72 282.87h0M403.75 304.21h0M423.01 292.31h0M405.77 298.72h0M400.64 304.36h0M427.16 282.23h0M397.89 302.79h0M409.88 302.33h0M409.89 292.64h0M401.97 303.83h0M397.51 306.36h0M429.19 278.96h0M413.29 295.38h0M408.27 299.37h0M402.33 300.36h0M400.77 305.23h0M393.99 303.52h0M435.59 279.97h0M421.23 283.08h0M406.78 305.38h0M431.82 279.1h0M422.1 270.77h0M418.73 297.1h0M405.4 303.67h0M395.57 306.36h0M432.07 280.28h0M430.72 299.51h0M412.85 281.9h0M417.74 301.21h0M406.05 304.99h0M424.5 297.24h0M436.64 288.73h0M428.79 293.28h0M416.31 301.78h0M430.72 278.35h0M400.5 304.3h0M415.76 294.63h0M425.41 290.61h0M425.4 302.79h0M411.79 290.98h0M431.66 293.48h0M416.54 304h0M431.57 276.39h0M416 300.81h0M429.38 276.95h0M427.26 290.23h0M414.97 302.57h0M406.93 305.42h0M432.17 294.06h0M407 300h0M396.08 305.52h0M404.18 304.31h0M401.56 302.62h0M433.78 293.36h0M413 296.97h0M411.03 294.07h0M423.03 273.78h0M427.8 290.89h0M419.53 301.43h0M429.87 283.49h0M409.59 293.41h0M433.45 281.57h0" stroke="#3e4c68" stroke-width="1.8" stroke-linecap="round" fill="none"/>
<path d="M318.5 223.4h0M325.8 241.2h0M339.8 245h0M340.6 259.8h0M346.5 259.8h0M335.7 273.2h0M329.3 280h0M340.3 274.9h0M337.9 284h0M350.8 272.2h0M352.7 277.5h0M364.8 282.1h0M408.2 234.2h0M401.2 245h0M414.1 242.5h0M402.5 261.4h0M411.4 256h0M413.8 251.2h0M399.8 274h0M393.1 285.1h0M415.4 266.8h0M391.7 298.3h0M420.8 235.8h0M432.6 234.2h0M435.1 231.5h0M422 240.5h0M430.8 241.1h0M434.6 240.8h0M434.2 245.8h0M413.8 254.2h0M410.5 256.2h0M420.8 258.5h0M428.9 257.7h0M438.2 261.8h0M402.3 261.5h0M411.5 263h0M407.4 270h0M399.7 273.8h0M393 284.6h0M391.8 297.7h0M345 285h0M343 289h0M348 283h0" stroke="#3e4c68" stroke-width="1.9" stroke-linecap="round" fill="none"/>
<line x1="311.6" y1="209.7" x2="311.6" y2="308" stroke="#111" stroke-width="1.1" />
<line x1="311" y1="308" x2="459.5" y2="308" stroke="#111" stroke-width="1.1" />
<line x1="309" y1="308" x2="311.6" y2="308" stroke="#111" stroke-width="0.8" />
<line x1="309" y1="288.43" x2="311.6" y2="288.43" stroke="#111" stroke-width="0.8" />
<line x1="309" y1="268.85" x2="311.6" y2="268.85" stroke="#111" stroke-width="0.8" />
<line x1="309" y1="249.28" x2="311.6" y2="249.28" stroke="#111" stroke-width="0.8" />
<line x1="309" y1="229.7" x2="311.6" y2="229.7" stroke="#111" stroke-width="0.8" />
<line x1="309" y1="210.12" x2="311.6" y2="210.12" stroke="#111" stroke-width="0.8" />
<text x="304.4" y="310.2" font-size="6.2" text-anchor="end" textLength="3.72" lengthAdjust="spacingAndGlyphs" stroke="#222" stroke-width="0.08">0</text>
<text x="304.4" y="271.05" font-size="6.2" text-anchor="end" textLength="11.17" lengthAdjust="spacingAndGlyphs" stroke="#222" stroke-width="0.08">100</text>
<text x="304.4" y="231.9" font-size="6.2" text-anchor="end" textLength="11.17" lengthAdjust="spacingAndGlyphs" stroke="#222" stroke-width="0.08">200</text>
<line x1="312" y1="308" x2="312" y2="310.2" stroke="#111" stroke-width="0.8" />
<line x1="326.58" y1="308" x2="326.58" y2="310.2" stroke="#111" stroke-width="0.8" />
<line x1="341.16" y1="308" x2="341.16" y2="310.2" stroke="#111" stroke-width="0.8" />
<line x1="355.74" y1="308" x2="355.74" y2="310.2" stroke="#111" stroke-width="0.8" />
<line x1="370.32" y1="308" x2="370.32" y2="310.2" stroke="#111" stroke-width="0.8" />
<line x1="384.9" y1="308" x2="384.9" y2="310.2" stroke="#111" stroke-width="0.8" />
<line x1="399.48" y1="308" x2="399.48" y2="310.2" stroke="#111" stroke-width="0.8" />
<line x1="414.06" y1="308" x2="414.06" y2="310.2" stroke="#111" stroke-width="0.8" />
<line x1="428.64" y1="308" x2="428.64" y2="310.2" stroke="#111" stroke-width="0.8" />
<line x1="443.22" y1="308" x2="443.22" y2="310.2" stroke="#111" stroke-width="0.8" />
<line x1="457.8" y1="308" x2="457.8" y2="310.2" stroke="#111" stroke-width="0.8" />
<text x="312" y="320.3" font-size="6.2" text-anchor="middle" textLength="7.63" lengthAdjust="spacingAndGlyphs" stroke="#222" stroke-width="0.08">−5</text>
<text x="384.9" y="320.3" font-size="6.2" text-anchor="middle" textLength="3.72" lengthAdjust="spacingAndGlyphs" stroke="#222" stroke-width="0.08">0</text>
<text x="457.8" y="320.3" font-size="6.2" text-anchor="middle" textLength="3.72" lengthAdjust="spacingAndGlyphs" stroke="#222" stroke-width="0.08">5</text>
<text x="386.5" y="332.7" font-size="8.2" text-anchor="middle" font-weight="bold" fill="#1a1a1a" textLength="20.7" lengthAdjust="spacingAndGlyphs" stroke="#1a1a1a" stroke-width="0.08">Log2FC</text>
<text x="0" y="0" font-size="8.0" text-anchor="middle" fill="#1a1a1a" stroke="#1a1a1a" stroke-width="0.08" transform="translate(287.6 257) rotate(-90) scale(0.790 1)">-Log10 (<tspan font-style="italic">P</tspan> value)</text>
<text x="402.9" y="193" font-size="6.6" stroke="#222" stroke-width="0.08">3010 differential peaks</text>
<text x="402.9" y="202" font-size="6.6" textLength="48.5" lengthAdjust="spacingAndGlyphs" stroke="#222" stroke-width="0.08">FDR &lt; 1.00e-04</text>
<text x="456.7" y="202" font-size="6.6" textLength="19.4" lengthAdjust="spacingAndGlyphs" stroke="#222" stroke-width="0.08">FC &gt; 4</text>
<text x="466.4" y="257.7" font-size="6.9" text-anchor="middle" fill="#3f7fb5" textLength="100.3" lengthAdjust="spacingAndGlyphs" transform="rotate(90 466.4 257.7)" stroke="#3f7fb5" stroke-width="0.08">Downregulated in LSC A-485 48h</text>
<text x="7.8" y="362.8" font-size="12.9" font-weight="bold" fill="#111" textLength="8.38" lengthAdjust="spacingAndGlyphs" stroke="#111" stroke-width="0.08">D</text>
<rect x="21.5" y="380.3" width="196" height="8.4" fill="#cdcdcd" />
<rect x="21.5" y="393.75" width="94.9" height="8.4" fill="#cdcdcd" />
<rect x="21.5" y="407.2" width="70.4" height="8.4" fill="#ecc3cf" />
<rect x="21.5" y="420.65" width="54.8" height="8.4" fill="#cdcdcd" />
<rect x="21.5" y="434.1" width="51.3" height="8.4" fill="#cdcdcd" />
<rect x="21.5" y="447.55" width="48.9" height="8.4" fill="#ecc3cf" />
<rect x="21.5" y="461" width="43.5" height="8.4" fill="#cdcdcd" />
<rect x="21.5" y="474.45" width="42.3" height="8.4" fill="#cdcdcd" />
<rect x="21.5" y="487.9" width="39.5" height="8.4" fill="#cdcdcd" />
<text x="24.6" y="386.8" font-size="6.56" stroke="#222" stroke-width="0.08">PML-RARA fusion protein in acute promyelocytic leukemia</text>
<text x="24.6" y="400.25" font-size="6.56" stroke="#222" stroke-width="0.08">Genes forming the macrophage-enriched metabolic network</text>
<text x="24.6" y="413.7" font-size="6.56" fill="#c8174a" stroke="#c8174a" stroke-width="0.08">The 'MLL signature 1': genes up-regulated in pediatric AML</text>
<text x="24.6" y="427.15" font-size="6.56" stroke="#222" stroke-width="0.08">Genes up-regulated in macrophages by aerolysin-related cytotoxic enterotoxin</text>
<text x="24.6" y="440.6" font-size="6.56" stroke="#222" stroke-width="0.08">Up-regulated genes from plasmacytic plasmacytoma tumors.</text>
<text x="24.6" y="454.05" font-size="6.56" fill="#c8174a" stroke="#c8174a" stroke-width="0.08">The 'MLL signature 2': genes up-regulated in pediatric AML</text>
<text x="24.6" y="467.5" font-size="6.56" stroke="#222" stroke-width="0.08">Genes down-regulated in monocyte-derived dendritic cells after stimulation with galecin-1</text>
<text x="24.6" y="480.95" font-size="6.56" stroke="#222" stroke-width="0.08">Genes up-regulated in the MM1S cells after treatment with aplidin</text>
<text x="24.6" y="494.4" font-size="6.56" stroke="#222" stroke-width="0.08">Genes up-regulated in pulpal tissue extracted from carious teeth</text>
<line x1="21.5" y1="375" x2="21.5" y2="500.4" stroke="#111" stroke-width="1.1" />
<line x1="21.5" y1="500.4" x2="267" y2="500.4" stroke="#111" stroke-width="1.1" />
<line x1="21.5" y1="500.4" x2="21.5" y2="503" stroke="#111" stroke-width="0.8" />
<text x="21.5" y="513.2" font-size="6.2" text-anchor="middle" textLength="3.72" lengthAdjust="spacingAndGlyphs" stroke="#222" stroke-width="0.08">0</text>
<line x1="82.75" y1="500.4" x2="82.75" y2="503" stroke="#111" stroke-width="0.8" />
<text x="82.75" y="513.2" font-size="6.2" text-anchor="middle" textLength="7.45" lengthAdjust="spacingAndGlyphs" stroke="#222" stroke-width="0.08">50</text>
<line x1="144" y1="500.4" x2="144" y2="503" stroke="#111" stroke-width="0.8" />
<text x="144" y="513.2" font-size="6.2" text-anchor="middle" textLength="11.17" lengthAdjust="spacingAndGlyphs" stroke="#222" stroke-width="0.08">100</text>
<line x1="205.25" y1="500.4" x2="205.25" y2="503" stroke="#111" stroke-width="0.8" />
<text x="205.25" y="513.2" font-size="6.2" text-anchor="middle" textLength="11.17" lengthAdjust="spacingAndGlyphs" stroke="#222" stroke-width="0.08">150</text>
<line x1="266.5" y1="500.4" x2="266.5" y2="503" stroke="#111" stroke-width="0.8" />
<text x="266.5" y="513.2" font-size="6.2" text-anchor="middle" textLength="11.17" lengthAdjust="spacingAndGlyphs" stroke="#222" stroke-width="0.08">200</text>
<text x="145.6" y="525.9" font-size="8.4" text-anchor="middle" fill="#1a1a1a" textLength="105" lengthAdjust="spacingAndGlyphs" style="stroke:#1a1a1a;stroke-width:0.25">MSigDB perturbation –log10 (q-value)</text>
<text x="301.6" y="362.8" font-size="12.9" font-weight="bold" fill="#111" textLength="7.92" lengthAdjust="spacingAndGlyphs" stroke="#111" stroke-width="0.08">E</text>
<defs><clipPath id="bigc"><circle cx="366.4" cy="395.0" r="42.4"/></clipPath></defs>
<circle cx="366.4" cy="395" r="42.4" fill="#bcbfdb" />
<circle cx="417.3" cy="395.5" r="34" fill="#fcdbba" />
<circle cx="417.3" cy="395.5" r="34.0" fill="#cdaca3" clip-path="url(#bigc)"/>
<text x="355.5" y="388.6" font-size="6.7" text-anchor="middle" stroke="#222" stroke-width="0.08">H3K27ac</text>
<text x="355.5" y="397.8" font-size="6.7" text-anchor="middle" stroke="#222" stroke-width="0.08">ChIP-seq</text>
<text x="355.5" y="407.2" font-size="6.7" text-anchor="middle" stroke="#222" stroke-width="0.08">down</text>
<text x="397.2" y="396.7" font-size="6.9" text-anchor="middle" stroke="#222" stroke-width="0.08">569</text>
<text x="429.8" y="392.3" font-size="6.45" text-anchor="middle" stroke="#222" stroke-width="0.08">RNA-seq</text>
<text x="429.8" y="401.2" font-size="6.45" text-anchor="middle" stroke="#222" stroke-width="0.08">down</text>
<line x1="398.3" y1="431" x2="398.3" y2="444.5" stroke="#111" stroke-width="1.1" />
<path d="M395.5 443.2 L401.1 443.2 L398.3 449.6 Z" fill="#111"/>
<text x="312.7" y="462.8" font-size="7.5" stroke="#222" stroke-width="0.08">Motif family</text>
<text x="368" y="462.8" font-size="7.5" fill="#222"><tspan font-style="italic">P</tspan>-value</text>
<text x="443" y="462" font-size="7.5" text-anchor="middle" stroke="#222" stroke-width="0.08">Motif</text>
<text x="317.3" y="476.4" font-size="7" stroke="#222" stroke-width="0.08">SPIB</text>
<text x="368.5" y="476.4" font-size="7" stroke="#222" stroke-width="0.08">1e-26</text>
<text x="317.3" y="490.8" font-size="7" stroke="#222" stroke-width="0.08">PU.1</text>
<text x="368.5" y="490.8" font-size="7" stroke="#222" stroke-width="0.08">1e-20</text>
<text x="317.3" y="505.2" font-size="7" stroke="#222" stroke-width="0.08">ELF5</text>
<text x="368.5" y="505.2" font-size="7" stroke="#222" stroke-width="0.08">1e-19</text>
<text x="317.3" y="519.6" font-size="7" stroke="#222" stroke-width="0.08">RUNX1</text>
<text x="368.5" y="519.6" font-size="7" stroke="#222" stroke-width="0.08">1e-17</text>
<text x="317.3" y="534" font-size="7" stroke="#222" stroke-width="0.08">ELF1</text>
<text x="368.5" y="534" font-size="7" stroke="#222" stroke-width="0.08">1e-15</text>
<text x="317.3" y="548.4" font-size="7" stroke="#222" stroke-width="0.08">CEBPb</text>
<text x="368.5" y="548.4" font-size="7" stroke="#222" stroke-width="0.08">1e-15</text>
<text transform="translate(412.9 477.4) scale(0.704 0.182)" font-size="10" font-weight="bold" fill="#f0a82a" stroke="#f0a82a" stroke-width="0.5">G</text>
<text transform="translate(412.9 476.1) scale(0.759 0.182)" font-size="10" font-weight="bold" fill="#1f4fa8" stroke="#1f4fa8" stroke-width="0.5">C</text>
<text transform="translate(412.9 474.8) scale(0.759 0.978)" font-size="10" font-weight="bold" fill="#1e9a45" stroke="#1e9a45" stroke-width="0.5">A</text>
<text transform="translate(418.17 477.4) scale(0.704 0.182)" font-size="10" font-weight="bold" fill="#f0a82a" stroke="#f0a82a" stroke-width="0.5">G</text>
<text transform="translate(418.17 476.1) scale(0.759 0.182)" font-size="10" font-weight="bold" fill="#1f4fa8" stroke="#1f4fa8" stroke-width="0.5">C</text>
<text transform="translate(418.17 474.8) scale(0.759 1.034)" font-size="10" font-weight="bold" fill="#1e9a45" stroke="#1e9a45" stroke-width="0.5">A</text>
<text transform="translate(423.43 477.4) scale(0.759 0.182)" font-size="10" font-weight="bold" fill="#1f4fa8" stroke="#1f4fa8" stroke-width="0.5">C</text>
<text transform="translate(423.43 476.1) scale(0.704 0.182)" font-size="10" font-weight="bold" fill="#f0a82a" stroke="#f0a82a" stroke-width="0.5">G</text>
<text transform="translate(423.43 474.8) scale(0.759 1.034)" font-size="10" font-weight="bold" fill="#1e9a45" stroke="#1e9a45" stroke-width="0.5">A</text>
<text transform="translate(428.7 477.4) scale(0.759 0.182)" font-size="10" font-weight="bold" fill="#1f4fa8" stroke="#1f4fa8" stroke-width="0.5">C</text>
<text transform="translate(428.7 476.1) scale(0.759 0.209)" font-size="10" font-weight="bold" fill="#1e9a45" stroke="#1e9a45" stroke-width="0.5">A</text>
<text transform="translate(428.7 474.6) scale(0.704 0.866)" font-size="10" font-weight="bold" fill="#f0a82a" stroke="#f0a82a" stroke-width="0.5">G</text>
<text transform="translate(433.97 477.4) scale(0.759 0.182)" font-size="10" font-weight="bold" fill="#1f4fa8" stroke="#1f4fa8" stroke-width="0.5">C</text>
<text transform="translate(433.97 476.1) scale(0.896 0.182)" font-size="10" font-weight="bold" fill="#d6262f" stroke="#d6262f" stroke-width="0.5">T</text>
<text transform="translate(433.97 474.8) scale(0.759 0.447)" font-size="10" font-weight="bold" fill="#1e9a45" stroke="#1e9a45" stroke-width="0.5">A</text>
<text transform="translate(433.97 471.6) scale(0.704 0.419)" font-size="10" font-weight="bold" fill="#f0a82a" stroke="#f0a82a" stroke-width="0.5">G</text>
<text transform="translate(439.23 477.4) scale(0.759 0.182)" font-size="10" font-weight="bold" fill="#1e9a45" stroke="#1e9a45" stroke-width="0.5">A</text>
<text transform="translate(439.23 476.1) scale(0.704 1.061)" font-size="10" font-weight="bold" fill="#f0a82a" stroke="#f0a82a" stroke-width="0.5">G</text>
<text transform="translate(444.5 477.4) scale(0.759 0.182)" font-size="10" font-weight="bold" fill="#1e9a45" stroke="#1e9a45" stroke-width="0.5">A</text>
<text transform="translate(444.5 476.1) scale(0.704 1.117)" font-size="10" font-weight="bold" fill="#f0a82a" stroke="#f0a82a" stroke-width="0.5">G</text>
<text transform="translate(449.77 477.4) scale(0.704 0.182)" font-size="10" font-weight="bold" fill="#f0a82a" stroke="#f0a82a" stroke-width="0.5">G</text>
<text transform="translate(449.77 476.1) scale(0.759 1.061)" font-size="10" font-weight="bold" fill="#1e9a45" stroke="#1e9a45" stroke-width="0.5">A</text>
<text transform="translate(455.03 477.4) scale(0.704 0.182)" font-size="10" font-weight="bold" fill="#f0a82a" stroke="#f0a82a" stroke-width="0.5">G</text>
<text transform="translate(455.03 476.1) scale(0.759 0.182)" font-size="10" font-weight="bold" fill="#1f4fa8" stroke="#1f4fa8" stroke-width="0.5">C</text>
<text transform="translate(455.03 474.8) scale(0.759 1.006)" font-size="10" font-weight="bold" fill="#1e9a45" stroke="#1e9a45" stroke-width="0.5">A</text>
<text transform="translate(460.3 477.4) scale(0.759 0.182)" font-size="10" font-weight="bold" fill="#1e9a45" stroke="#1e9a45" stroke-width="0.5">A</text>
<text transform="translate(460.3 476.1) scale(0.759 0.209)" font-size="10" font-weight="bold" fill="#1f4fa8" stroke="#1f4fa8" stroke-width="0.5">C</text>
<text transform="translate(460.3 474.6) scale(0.704 0.810)" font-size="10" font-weight="bold" fill="#f0a82a" stroke="#f0a82a" stroke-width="0.5">G</text>
<text transform="translate(465.57 477.4) scale(0.759 0.182)" font-size="10" font-weight="bold" fill="#1f4fa8" stroke="#1f4fa8" stroke-width="0.5">C</text>
<text transform="translate(465.57 476.1) scale(0.759 0.182)" font-size="10" font-weight="bold" fill="#1e9a45" stroke="#1e9a45" stroke-width="0.5">A</text>
<text transform="translate(465.57 474.8) scale(0.896 1.061)" font-size="10" font-weight="bold" fill="#d6262f" stroke="#d6262f" stroke-width="0.5">T</text>
<text transform="translate(470.83 477.4) scale(0.759 0.182)" font-size="10" font-weight="bold" fill="#1e9a45" stroke="#1e9a45" stroke-width="0.5">A</text>
<text transform="translate(470.83 476.1) scale(0.759 0.182)" font-size="10" font-weight="bold" fill="#1f4fa8" stroke="#1f4fa8" stroke-width="0.5">C</text>
<text transform="translate(470.83 474.8) scale(0.704 0.950)" font-size="10" font-weight="bold" fill="#f0a82a" stroke="#f0a82a" stroke-width="0.5">G</text>
<text transform="translate(412.9 492.4) scale(0.758 0.182)" font-size="10" font-weight="bold" fill="#1f4fa8" stroke="#1f4fa8" stroke-width="0.5">C</text>
<text transform="translate(412.9 491.1) scale(0.703 0.182)" font-size="10" font-weight="bold" fill="#f0a82a" stroke="#f0a82a" stroke-width="0.5">G</text>
<text transform="translate(412.9 489.8) scale(0.758 0.950)" font-size="10" font-weight="bold" fill="#1e9a45" stroke="#1e9a45" stroke-width="0.5">A</text>
<text transform="translate(418.16 492.4) scale(0.758 0.182)" font-size="10" font-weight="bold" fill="#1f4fa8" stroke="#1f4fa8" stroke-width="0.5">C</text>
<text transform="translate(418.16 491.1) scale(0.758 0.209)" font-size="10" font-weight="bold" fill="#1e9a45" stroke="#1e9a45" stroke-width="0.5">A</text>
<text transform="translate(418.16 489.6) scale(0.703 0.838)" font-size="10" font-weight="bold" fill="#f0a82a" stroke="#f0a82a" stroke-width="0.5">G</text>
<text transform="translate(423.42 492.4) scale(0.703 0.182)" font-size="10" font-weight="bold" fill="#f0a82a" stroke="#f0a82a" stroke-width="0.5">G</text>
<text transform="translate(423.42 491.1) scale(0.758 1.089)" font-size="10" font-weight="bold" fill="#1e9a45" stroke="#1e9a45" stroke-width="0.5">A</text>
<text transform="translate(428.68 492.4) scale(0.703 1.201)" font-size="10" font-weight="bold" fill="#f0a82a" stroke="#f0a82a" stroke-width="0.5">G</text>
<text transform="translate(433.94 492.4) scale(0.703 1.201)" font-size="10" font-weight="bold" fill="#f0a82a" stroke="#f0a82a" stroke-width="0.5">G</text>
<text transform="translate(439.2 492.4) scale(0.758 1.201)" font-size="10" font-weight="bold" fill="#1e9a45" stroke="#1e9a45" stroke-width="0.5">A</text>
<text transform="translate(444.46 492.4) scale(0.703 0.182)" font-size="10" font-weight="bold" fill="#f0a82a" stroke="#f0a82a" stroke-width="0.5">G</text>
<text transform="translate(444.46 491.1) scale(0.758 1.034)" font-size="10" font-weight="bold" fill="#1e9a45" stroke="#1e9a45" stroke-width="0.5">A</text>
<text transform="translate(449.72 492.4) scale(0.703 1.201)" font-size="10" font-weight="bold" fill="#f0a82a" stroke="#f0a82a" stroke-width="0.5">G</text>
<text transform="translate(454.98 492.4) scale(0.758 0.182)" font-size="10" font-weight="bold" fill="#1f4fa8" stroke="#1f4fa8" stroke-width="0.5">C</text>
<text transform="translate(454.98 491.1) scale(0.895 1.117)" font-size="10" font-weight="bold" fill="#d6262f" stroke="#d6262f" stroke-width="0.5">T</text>
<text transform="translate(460.24 492.4) scale(0.758 0.182)" font-size="10" font-weight="bold" fill="#1e9a45" stroke="#1e9a45" stroke-width="0.5">A</text>
<text transform="translate(460.24 491.1) scale(0.895 0.182)" font-size="10" font-weight="bold" fill="#d6262f" stroke="#d6262f" stroke-width="0.5">T</text>
<text transform="translate(460.24 489.8) scale(0.703 0.978)" font-size="10" font-weight="bold" fill="#f0a82a" stroke="#f0a82a" stroke-width="0.5">G</text>
<text transform="translate(412.9 506.5) scale(0.703 0.182)" font-size="10" font-weight="bold" fill="#f0a82a" stroke="#f0a82a" stroke-width="0.5">G</text>
<text transform="translate(412.9 505.2) scale(0.758 0.182)" font-size="10" font-weight="bold" fill="#1f4fa8" stroke="#1f4fa8" stroke-width="0.5">C</text>
<text transform="translate(412.9 503.9) scale(0.758 0.950)" font-size="10" font-weight="bold" fill="#1e9a45" stroke="#1e9a45" stroke-width="0.5">A</text>
<text transform="translate(418.16 506.5) scale(0.895 0.196)" font-size="10" font-weight="bold" fill="#d6262f" stroke="#d6262f" stroke-width="0.5">T</text>
<text transform="translate(418.16 505.1) scale(0.703 0.363)" font-size="10" font-weight="bold" fill="#f0a82a" stroke="#f0a82a" stroke-width="0.5">G</text>
<text transform="translate(418.16 502.5) scale(0.758 0.587)" font-size="10" font-weight="bold" fill="#1f4fa8" stroke="#1f4fa8" stroke-width="0.5">C</text>
<text transform="translate(423.42 506.5) scale(0.758 0.196)" font-size="10" font-weight="bold" fill="#1e9a45" stroke="#1e9a45" stroke-width="0.5">A</text>
<text transform="translate(423.42 505.1) scale(0.758 0.363)" font-size="10" font-weight="bold" fill="#1f4fa8" stroke="#1f4fa8" stroke-width="0.5">C</text>
<text transform="translate(423.42 502.5) scale(0.703 0.391)" font-size="10" font-weight="bold" fill="#f0a82a" stroke="#f0a82a" stroke-width="0.5">G</text>
<text transform="translate(428.68 506.5) scale(0.758 1.229)" font-size="10" font-weight="bold" fill="#1e9a45" stroke="#1e9a45" stroke-width="0.5">A</text>
<text transform="translate(433.94 506.5) scale(0.703 1.229)" font-size="10" font-weight="bold" fill="#f0a82a" stroke="#f0a82a" stroke-width="0.5">G</text>
<text transform="translate(439.2 506.5) scale(0.703 1.229)" font-size="10" font-weight="bold" fill="#f0a82a" stroke="#f0a82a" stroke-width="0.5">G</text>
<text transform="translate(444.46 506.5) scale(0.758 1.229)" font-size="10" font-weight="bold" fill="#1e9a45" stroke="#1e9a45" stroke-width="0.5">A</text>
<text transform="translate(449.72 506.5) scale(0.758 1.229)" font-size="10" font-weight="bold" fill="#1e9a45" stroke="#1e9a45" stroke-width="0.5">A</text>
<text transform="translate(454.98 506.5) scale(0.703 1.201)" font-size="10" font-weight="bold" fill="#f0a82a" stroke="#f0a82a" stroke-width="0.5">G</text>
<text transform="translate(460.24 506.5) scale(0.895 1.229)" font-size="10" font-weight="bold" fill="#d6262f" stroke="#d6262f" stroke-width="0.5">T</text>
<text transform="translate(412.9 520.6) scale(0.704 0.223)" font-size="10" font-weight="bold" fill="#f0a82a" stroke="#f0a82a" stroke-width="0.5">G</text>
<text transform="translate(412.9 519) scale(0.759 0.279)" font-size="10" font-weight="bold" fill="#1f4fa8" stroke="#1f4fa8" stroke-width="0.5">C</text>
<text transform="translate(412.9 517) scale(0.759 0.531)" font-size="10" font-weight="bold" fill="#1e9a45" stroke="#1e9a45" stroke-width="0.5">A</text>
<text transform="translate(418.17 520.6) scale(0.704 0.209)" font-size="10" font-weight="bold" fill="#f0a82a" stroke="#f0a82a" stroke-width="0.5">G</text>
<text transform="translate(418.17 519.1) scale(0.759 0.321)" font-size="10" font-weight="bold" fill="#1e9a45" stroke="#1e9a45" stroke-width="0.5">A</text>
<text transform="translate(418.17 516.8) scale(0.759 0.587)" font-size="10" font-weight="bold" fill="#1f4fa8" stroke="#1f4fa8" stroke-width="0.5">C</text>
<text transform="translate(423.43 520.6) scale(0.759 1.229)" font-size="10" font-weight="bold" fill="#1e9a45" stroke="#1e9a45" stroke-width="0.5">A</text>
<text transform="translate(428.7 520.6) scale(0.704 1.229)" font-size="10" font-weight="bold" fill="#f0a82a" stroke="#f0a82a" stroke-width="0.5">G</text>
<text transform="translate(433.97 520.6) scale(0.704 1.229)" font-size="10" font-weight="bold" fill="#f0a82a" stroke="#f0a82a" stroke-width="0.5">G</text>
<text transform="translate(439.23 520.6) scale(0.759 1.229)" font-size="10" font-weight="bold" fill="#1e9a45" stroke="#1e9a45" stroke-width="0.5">A</text>
<text transform="translate(444.5 520.6) scale(0.759 0.279)" font-size="10" font-weight="bold" fill="#1e9a45" stroke="#1e9a45" stroke-width="0.5">A</text>
<text transform="translate(444.5 518.6) scale(0.896 0.782)" font-size="10" font-weight="bold" fill="#d6262f" stroke="#d6262f" stroke-width="0.5">T</text>
<text transform="translate(449.77 520.6) scale(0.704 1.229)" font-size="10" font-weight="bold" fill="#f0a82a" stroke="#f0a82a" stroke-width="0.5">G</text>
<text transform="translate(455.03 520.6) scale(0.896 1.229)" font-size="10" font-weight="bold" fill="#d6262f" stroke="#d6262f" stroke-width="0.5">T</text>
<text transform="translate(460.3 520.6) scale(0.704 1.201)" font-size="10" font-weight="bold" fill="#f0a82a" stroke="#f0a82a" stroke-width="0.5">G</text>
<text transform="translate(465.57 520.6) scale(0.759 0.182)" font-size="10" font-weight="bold" fill="#1e9a45" stroke="#1e9a45" stroke-width="0.5">A</text>
<text transform="translate(465.57 519.3) scale(0.704 1.145)" font-size="10" font-weight="bold" fill="#f0a82a" stroke="#f0a82a" stroke-width="0.5">G</text>
<text transform="translate(470.83 520.6) scale(0.759 0.196)" font-size="10" font-weight="bold" fill="#1f4fa8" stroke="#1f4fa8" stroke-width="0.5">C</text>
<text transform="translate(470.83 519.2) scale(0.704 0.196)" font-size="10" font-weight="bold" fill="#f0a82a" stroke="#f0a82a" stroke-width="0.5">G</text>
<text transform="translate(470.83 517.8) scale(0.896 0.754)" font-size="10" font-weight="bold" fill="#d6262f" stroke="#d6262f" stroke-width="0.5">T</text>
<text transform="translate(412.9 535) scale(0.758 0.209)" font-size="10" font-weight="bold" fill="#1f4fa8" stroke="#1f4fa8" stroke-width="0.5">C</text>
<text transform="translate(412.9 533.5) scale(0.703 0.251)" font-size="10" font-weight="bold" fill="#f0a82a" stroke="#f0a82a" stroke-width="0.5">G</text>
<text transform="translate(412.9 531.7) scale(0.758 0.615)" font-size="10" font-weight="bold" fill="#1e9a45" stroke="#1e9a45" stroke-width="0.5">A</text>
<text transform="translate(418.16 535) scale(0.895 0.209)" font-size="10" font-weight="bold" fill="#d6262f" stroke="#d6262f" stroke-width="0.5">T</text>
<text transform="translate(418.16 533.5) scale(0.758 0.251)" font-size="10" font-weight="bold" fill="#1e9a45" stroke="#1e9a45" stroke-width="0.5">A</text>
<text transform="translate(418.16 531.7) scale(0.758 0.642)" font-size="10" font-weight="bold" fill="#1f4fa8" stroke="#1f4fa8" stroke-width="0.5">C</text>
<text transform="translate(423.42 535) scale(0.703 0.182)" font-size="10" font-weight="bold" fill="#f0a82a" stroke="#f0a82a" stroke-width="0.5">G</text>
<text transform="translate(423.42 533.7) scale(0.758 1.061)" font-size="10" font-weight="bold" fill="#1f4fa8" stroke="#1f4fa8" stroke-width="0.5">C</text>
<text transform="translate(428.68 535) scale(0.758 1.229)" font-size="10" font-weight="bold" fill="#1f4fa8" stroke="#1f4fa8" stroke-width="0.5">C</text>
<text transform="translate(433.94 535) scale(0.703 1.229)" font-size="10" font-weight="bold" fill="#f0a82a" stroke="#f0a82a" stroke-width="0.5">G</text>
<text transform="translate(439.2 535) scale(0.703 1.229)" font-size="10" font-weight="bold" fill="#f0a82a" stroke="#f0a82a" stroke-width="0.5">G</text>
<text transform="translate(444.46 535) scale(0.758 1.229)" font-size="10" font-weight="bold" fill="#1e9a45" stroke="#1e9a45" stroke-width="0.5">A</text>
<text transform="translate(449.72 535) scale(0.758 1.229)" font-size="10" font-weight="bold" fill="#1e9a45" stroke="#1e9a45" stroke-width="0.5">A</text>
<text transform="translate(454.98 535) scale(0.758 0.182)" font-size="10" font-weight="bold" fill="#1e9a45" stroke="#1e9a45" stroke-width="0.5">A</text>
<text transform="translate(454.98 533.7) scale(0.703 1.061)" font-size="10" font-weight="bold" fill="#f0a82a" stroke="#f0a82a" stroke-width="0.5">G</text>
<text transform="translate(460.24 535) scale(0.758 0.209)" font-size="10" font-weight="bold" fill="#1e9a45" stroke="#1e9a45" stroke-width="0.5">A</text>
<text transform="translate(460.24 533.5) scale(0.758 0.209)" font-size="10" font-weight="bold" fill="#1f4fa8" stroke="#1f4fa8" stroke-width="0.5">C</text>
<text transform="translate(460.24 532) scale(0.895 0.726)" font-size="10" font-weight="bold" fill="#d6262f" stroke="#d6262f" stroke-width="0.5">T</text>
<text transform="translate(412.9 550) scale(0.758 1.229)" font-size="10" font-weight="bold" fill="#1e9a45" stroke="#1e9a45" stroke-width="0.5">A</text>
<text transform="translate(418.16 550) scale(0.895 1.229)" font-size="10" font-weight="bold" fill="#d6262f" stroke="#d6262f" stroke-width="0.5">T</text>
<text transform="translate(423.42 550) scale(0.895 1.229)" font-size="10" font-weight="bold" fill="#d6262f" stroke="#d6262f" stroke-width="0.5">T</text>
<text transform="translate(428.68 550) scale(0.895 0.196)" font-size="10" font-weight="bold" fill="#d6262f" stroke="#d6262f" stroke-width="0.5">T</text>
<text transform="translate(428.68 548.6) scale(0.758 0.223)" font-size="10" font-weight="bold" fill="#1e9a45" stroke="#1e9a45" stroke-width="0.5">A</text>
<text transform="translate(428.68 547) scale(0.703 0.670)" font-size="10" font-weight="bold" fill="#f0a82a" stroke="#f0a82a" stroke-width="0.5">G</text>
<text transform="translate(433.94 550) scale(0.758 0.196)" font-size="10" font-weight="bold" fill="#1e9a45" stroke="#1e9a45" stroke-width="0.5">A</text>
<text transform="translate(433.94 548.6) scale(0.703 0.223)" font-size="10" font-weight="bold" fill="#f0a82a" stroke="#f0a82a" stroke-width="0.5">G</text>
<text transform="translate(433.94 547) scale(0.758 0.642)" font-size="10" font-weight="bold" fill="#1f4fa8" stroke="#1f4fa8" stroke-width="0.5">C</text>
<text transform="translate(439.2 550) scale(0.895 0.196)" font-size="10" font-weight="bold" fill="#d6262f" stroke="#d6262f" stroke-width="0.5">T</text>
<text transform="translate(439.2 548.6) scale(0.758 0.223)" font-size="10" font-weight="bold" fill="#1f4fa8" stroke="#1f4fa8" stroke-width="0.5">C</text>
<text transform="translate(439.2 547) scale(0.703 0.642)" font-size="10" font-weight="bold" fill="#f0a82a" stroke="#f0a82a" stroke-width="0.5">G</text>
<text transform="translate(444.46 550) scale(0.758 1.229)" font-size="10" font-weight="bold" fill="#1f4fa8" stroke="#1f4fa8" stroke-width="0.5">C</text>
<text transform="translate(449.72 550) scale(0.758 1.229)" font-size="10" font-weight="bold" fill="#1e9a45" stroke="#1e9a45" stroke-width="0.5">A</text>
<text transform="translate(454.98 550) scale(0.758 1.229)" font-size="10" font-weight="bold" fill="#1e9a45" stroke="#1e9a45" stroke-width="0.5">A</text>
<text transform="translate(460.24 550) scale(0.895 0.209)" font-size="10" font-weight="bold" fill="#d6262f" stroke="#d6262f" stroke-width="0.5">T</text>
<text transform="translate(460.24 548.5) scale(0.703 0.223)" font-size="10" font-weight="bold" fill="#f0a82a" stroke="#f0a82a" stroke-width="0.5">G</text>
<text transform="translate(460.24 546.9) scale(0.758 0.670)" font-size="10" font-weight="bold" fill="#1f4fa8" stroke="#1f4fa8" stroke-width="0.5">C</text>
<text x="7.6" y="578.1" font-size="12.9" font-weight="bold" fill="#111" textLength="7.49" lengthAdjust="spacingAndGlyphs" stroke="#111" stroke-width="0.08">F</text>
<line x1="127.6" y1="584.4" x2="127.6" y2="695.4" stroke="#b0b0b0" stroke-width="0.8" />
<path d="M60.4 685.3 L63.54 685.48 L66.67 686.85 L69.81 685.3 L72.95 685.18 L76.09 685.78 L79.22 684 L82.36 683.69 L85.5 684.25 L88.63 683.69 L91.77 682.97 L94.91 683.48 L98.05 683.85 L101.18 683.86 L104.32 682.2 L107.46 682.75 L110.6 681.86 L113.73 679.51 L116.87 675.51 L120.01 675.16 L123.14 674.45 L126.28 674.14 L129.42 674.47 L132.56 675.61 L135.69 677.25 L138.83 677.83 L141.97 678.44 L145.1 679.39 L148.24 680.93 L151.38 682.11 L154.52 683.35 L157.65 682.76 L160.79 682.97 L163.93 683.19 L167.07 683.4 L170.2 683.77 L173.34 684.26 L176.48 684.95 L179.61 684.61 L182.75 685.21 L185.89 684.22 L189.03 684.29 L192.16 685.44 L195.3 686.35" fill="none" stroke="#66305e" stroke-width="1.2" stroke-linejoin="round" stroke-linecap="round" />
<path d="M60.4 685.88 L63.54 687.14 L66.67 687.03 L69.81 685.72 L72.95 684.42 L76.09 684.93 L79.22 686.35 L82.36 684.7 L85.5 682.38 L88.63 682.41 L91.77 683.38 L94.91 684.92 L98.05 684.9 L101.18 686.5 L104.32 685.06 L107.46 683.28 L110.6 680.32 L113.73 674.11 L116.87 668.72 L120.01 666.99 L123.14 668.02 L126.28 668.16 L129.42 668.66 L132.56 666.32 L135.69 664.45 L138.83 667.39 L141.97 673.89 L145.1 685.62 L148.24 687.26 L151.38 684.24 L154.52 682.27 L157.65 682.62 L160.79 684.95 L163.93 684.49 L167.07 683.79 L170.2 685.16 L173.34 687.62 L176.48 686.63 L179.61 686.41 L182.75 686.72 L185.89 687.06 L189.03 686.47 L192.16 684.46 L195.3 684.43" fill="none" stroke="#5ab4dc" stroke-width="1.2" stroke-linejoin="round" stroke-linecap="round" />
<path d="M60.4 684.74 L63.54 685.1 L66.67 686.61 L69.81 685.33 L72.95 684.76 L76.09 684.04 L79.22 684.33 L82.36 685.5 L85.5 684.43 L88.63 684.2 L91.77 685.34 L94.91 685.8 L98.05 685.83 L101.18 684.24 L104.32 682.36 L107.46 684.3 L110.6 681.86 L113.73 674.99 L116.87 670.38 L120.01 671.19 L123.14 668.46 L126.28 669.01 L129.42 668.97 L132.56 668.82 L135.69 670.2 L138.83 668.93 L141.97 673.58 L145.1 683 L148.24 686.93 L151.38 688.19 L154.52 684.75 L157.65 685.55 L160.79 687.6 L163.93 686.85 L167.07 684.92 L170.2 683.14 L173.34 682.79 L176.48 684.23 L179.61 684.5 L182.75 682.68 L185.89 683.59 L189.03 686.19 L192.16 686.14 L195.3 685.88" fill="none" stroke="#1d4378" stroke-width="1.2" stroke-linejoin="round" stroke-linecap="round" />
<path d="M60.4 628.56 L62.69 629.56 L64.97 631.15 L67.26 630.54 L69.55 629.49 L71.83 627.99 L74.12 627.93 L76.41 628.22 L78.69 627.42 L80.98 625.74 L83.26 624.74 L85.55 623.55 L87.84 622.3 L90.12 621.94 L92.41 620.62 L94.7 618.87 L96.98 616.98 L99.27 615.52 L101.56 615.24 L103.84 614.03 L106.13 612.53 L108.42 610.01 L110.7 606.86 L112.99 601.16 L115.27 595.82 L117.56 592.19 L119.85 588.76 L122.13 588.18 L124.42 589.09 L126.71 591.12 L128.99 591.38 L131.28 591.28 L133.57 591.09 L135.85 592.99 L138.14 595.89 L140.43 599.59 L142.71 603.03 L145 606.54 L147.28 609.36 L149.57 611.42 L151.86 613.7 L154.14 614.7 L156.43 615.64 L158.72 616.59 L161 617.31 L163.29 617.87 L165.58 619.63 L167.86 620.54 L170.15 621.73 L172.44 622.44 L174.72 623.59 L177.01 624.7 L179.29 625.62 L181.58 626.37 L183.87 627.05 L186.15 627.17 L188.44 627.22 L190.73 627.85 L193.01 628.72 L195.3 629.24" fill="none" stroke="#b8163e" stroke-width="1.45" stroke-linejoin="round" stroke-linecap="round" />
<rect x="54.8" y="584.4" width="145.7" height="111" fill="none" stroke="#1a1a1a" stroke-width="1.1"/>
<line x1="52.2" y1="600.2" x2="54.8" y2="600.2" stroke="#111" stroke-width="0.8" />
<text x="48.2" y="602.5" font-size="6.4" text-anchor="end" textLength="13.7" lengthAdjust="spacingAndGlyphs" stroke="#222" stroke-width="0.08">0.16</text>
<line x1="52.2" y1="617.6" x2="54.8" y2="617.6" stroke="#111" stroke-width="0.8" />
<line x1="52.2" y1="634.8" x2="54.8" y2="634.8" stroke="#111" stroke-width="0.8" />
<text x="48.2" y="637.1" font-size="6.4" text-anchor="end" textLength="13.7" lengthAdjust="spacingAndGlyphs" stroke="#222" stroke-width="0.08">0.12</text>
<line x1="52.2" y1="652.3" x2="54.8" y2="652.3" stroke="#111" stroke-width="0.8" />
<line x1="52.2" y1="669.7" x2="54.8" y2="669.7" stroke="#111" stroke-width="0.8" />
<text x="48.2" y="672" font-size="6.4" text-anchor="end" textLength="13.7" lengthAdjust="spacingAndGlyphs" stroke="#222" stroke-width="0.08">0.08</text>
<line x1="52.2" y1="687" x2="54.8" y2="687" stroke="#111" stroke-width="0.8" />
<line x1="60.4" y1="695.4" x2="60.4" y2="698" stroke="#111" stroke-width="0.8" />
<line x1="87.4" y1="695.4" x2="87.4" y2="698" stroke="#111" stroke-width="0.8" />
<line x1="114.4" y1="695.4" x2="114.4" y2="698" stroke="#111" stroke-width="0.8" />
<line x1="141.3" y1="695.4" x2="141.3" y2="698" stroke="#111" stroke-width="0.8" />
<line x1="168.3" y1="695.4" x2="168.3" y2="698" stroke="#111" stroke-width="0.8" />
<line x1="195.3" y1="695.4" x2="195.3" y2="698" stroke="#111" stroke-width="0.8" />
<text x="60.4" y="708" font-size="6.4" text-anchor="middle" textLength="11.02" lengthAdjust="spacingAndGlyphs" stroke="#222" stroke-width="0.08">−3k</text>
<text x="127.6" y="708" font-size="6.4" text-anchor="middle" stroke="#222" stroke-width="0.08">enhancer</text>
<text x="127.6" y="716.6" font-size="6.4" text-anchor="middle" stroke="#222" stroke-width="0.08">center</text>
<text x="195.3" y="708" font-size="6.4" text-anchor="middle" textLength="7.1" lengthAdjust="spacingAndGlyphs" stroke="#222" stroke-width="0.08">3k</text>
<text x="29.4" y="639.6" font-size="8.4" text-anchor="middle" font-weight="bold" fill="#1a1a1a" textLength="31.8" lengthAdjust="spacingAndGlyphs" transform="rotate(-90 29.4 639.6)" stroke="#1a1a1a" stroke-width="0.08">Enrichment</text>
<text x="58.3" y="593.5" font-size="6.55" fill="#c0163c" stroke="#c0163c" stroke-width="0.08">H3K27ac</text>
<text x="165.3" y="593.5" font-size="6.5" fill="#c0163c" stroke="#c0163c" stroke-width="0.08">A-485 0h</text>
<text x="165.3" y="601.6" font-size="6.5" fill="#5ab4dc" stroke="#5ab4dc" stroke-width="0.08">A-485 24h</text>
<text x="165.3" y="609.7" font-size="6.5" fill="#1d3f78" stroke="#1d3f78" stroke-width="0.08">A-485 48h</text>
<text x="165.3" y="617.7" font-size="6.5" fill="#5b2a6e" stroke="#5b2a6e" stroke-width="0.08">A-485 72h</text>
<text x="220.4" y="577.8" font-size="12.9" font-weight="bold" fill="#111" textLength="9.23" lengthAdjust="spacingAndGlyphs" stroke="#111" stroke-width="0.08">G</text>
<line x1="339.4" y1="583.7" x2="339.4" y2="694.7" stroke="#b0b0b0" stroke-width="0.8" />
<path d="M270.8 684.53 L273.1 684.03 L275.39 683.53 L277.69 683.94 L279.99 683.82 L282.28 683.31 L284.58 682.69 L286.88 683.22 L289.17 683.55 L291.47 683.63 L293.77 684.72 L296.06 685.48 L298.36 684.8 L300.66 685.06 L302.95 685.78 L305.25 685.47 L307.55 685.5 L309.84 684.34 L312.14 684.81 L314.44 686.03 L316.73 685.37 L319.03 684.37 L321.33 681.97 L323.62 679.07 L325.92 676.94 L328.22 674.76 L330.51 673.8 L332.81 674.51 L335.11 674.24 L337.4 673.9 L339.7 676.03 L341.99 677.11 L344.29 674.45 L346.59 674.79 L348.88 676.4 L351.18 680.17 L353.48 685.67 L355.77 688.46 L358.07 689.82 L360.37 689.02 L362.66 687.29 L364.96 686.69 L367.26 686.58 L369.55 686.8 L371.85 686.16 L374.15 686.1 L376.44 687.36 L378.74 686.28 L381.04 685.63 L383.33 685.93 L385.63 684.83 L387.93 684.65 L390.22 684.22 L392.52 682.94 L394.82 682.61 L397.11 684.35 L399.41 684.75 L401.71 685.14 L404 685.98 L406.3 685.54" fill="none" stroke="#2b2a78" stroke-width="1.2" stroke-linejoin="round" stroke-linecap="round" />
<path d="M270.8 669.24 L273.1 667.06 L275.39 666.07 L277.69 667.58 L279.99 668.75 L282.28 669.17 L284.58 667.97 L286.88 667.61 L289.17 668.34 L291.47 669.16 L293.77 667.41 L296.06 667.82 L298.36 667.85 L300.66 667.28 L302.95 667.56 L305.25 667.8 L307.55 667.46 L309.84 667.96 L312.14 668.6 L314.44 668.54 L316.73 667.45 L319.03 666.92 L321.33 663.61 L323.62 658.98 L325.92 656.64 L328.22 655.9 L330.51 655.11 L332.81 654.06 L335.11 654.86 L337.4 654.49 L339.7 654.73 L341.99 655.01 L344.29 655.49 L346.59 655.56 L348.88 656.18 L351.18 659 L353.48 665.34 L355.77 668.85 L358.07 668.91 L360.37 669.64 L362.66 669.34 L364.96 668.89 L367.26 668.81 L369.55 668.26 L371.85 667.3 L374.15 667.32 L376.44 668.68 L378.74 669.06 L381.04 668.66 L383.33 668.54 L385.63 668.96 L387.93 669.07 L390.22 668.75 L392.52 668.95 L394.82 668.69 L397.11 668.21 L399.41 668.59 L401.71 667.6 L404 667.23 L406.3 668.95" fill="none" stroke="#1d3f6e" stroke-width="1.2" stroke-linejoin="round" stroke-linecap="round" />
<path d="M270.8 647.18 L273.1 647.71 L275.39 646.22 L277.69 646.46 L279.99 645.97 L282.28 645.42 L284.58 644.97 L286.88 646.08 L289.17 645.12 L291.47 645.27 L293.77 643.71 L296.06 642.16 L298.36 642.37 L300.66 643.03 L302.95 641.35 L305.25 640.7 L307.55 640.74 L309.84 639.34 L312.14 637.08 L314.44 636.71 L316.73 636.88 L319.03 634.65 L321.33 632.69 L323.62 629.8 L325.92 626.85 L328.22 625.72 L330.51 623.93 L332.81 623.25 L335.11 622.6 L337.4 622.74 L339.7 622.3 L341.99 622.4 L344.29 621.55 L346.59 622.16 L348.88 623.46 L351.18 625.26 L353.48 627.77 L355.77 630.1 L358.07 632.51 L360.37 635.9 L362.66 636.91 L364.96 637.45 L367.26 638.07 L369.55 638.32 L371.85 639.32 L374.15 639.36 L376.44 639.18 L378.74 639.85 L381.04 641.51 L383.33 640.86 L385.63 640.64 L387.93 641.5 L390.22 644.34 L392.52 645.44 L394.82 644.21 L397.11 644.07 L399.41 645.59 L401.71 647.02 L404 648.43 L406.3 650.05" fill="none" stroke="#3ea6d4" stroke-width="1.3" stroke-linejoin="round" stroke-linecap="round" />
<path d="M270.8 624.62 L273.1 623.98 L275.39 623.39 L277.69 623.03 L279.99 622.99 L282.28 622.61 L284.58 622.09 L286.88 621.54 L289.17 620.04 L291.47 620.07 L293.77 619.76 L296.06 619.99 L298.36 619.11 L300.66 619.54 L302.95 618.89 L305.25 618.69 L307.55 617.69 L309.84 618.03 L312.14 619.58 L314.44 618.75 L316.73 617.95 L319.03 617.82 L321.33 617.19 L323.62 616.23 L325.92 601.02 L328.22 595.2 L330.51 593.45 L332.81 593.48 L335.11 593.37 L337.4 592.99 L339.7 592.85 L341.99 592.13 L344.29 592.07 L346.59 592.78 L348.88 593.89 L351.18 593.86 L353.48 602.92 L355.77 615.26 L358.07 621.39 L360.37 623.53 L362.66 622.8 L364.96 621.46 L367.26 620.4 L369.55 620.41 L371.85 620.53 L374.15 619.41 L376.44 621.01 L378.74 622.2 L381.04 622.28 L383.33 622.14 L385.63 620.48 L387.93 621.06 L390.22 623.18 L392.52 623.68 L394.82 624.57 L397.11 624.92 L399.41 625.31 L401.71 624.73 L404 625.42 L406.3 626.75" fill="none" stroke="#b8163e" stroke-width="1.4" stroke-linejoin="round" stroke-linecap="round" />
<rect x="265.9" y="583.7" width="145.7" height="111" fill="none" stroke="#1a1a1a" stroke-width="1.1"/>
<line x1="263.3" y1="588.3" x2="265.9" y2="588.3" stroke="#111" stroke-width="0.8" />
<line x1="263.3" y1="603" x2="265.9" y2="603" stroke="#111" stroke-width="0.8" />
<text x="260.6" y="605.3" font-size="6.4" text-anchor="end" textLength="13.7" lengthAdjust="spacingAndGlyphs" stroke="#222" stroke-width="0.08">0.12</text>
<line x1="263.3" y1="617.8" x2="265.9" y2="617.8" stroke="#111" stroke-width="0.8" />
<line x1="263.3" y1="632.6" x2="265.9" y2="632.6" stroke="#111" stroke-width="0.8" />
<text x="260.6" y="634.9" font-size="6.4" text-anchor="end" textLength="13.7" lengthAdjust="spacingAndGlyphs" stroke="#222" stroke-width="0.08">0.10</text>
<line x1="263.3" y1="647.4" x2="265.9" y2="647.4" stroke="#111" stroke-width="0.8" />
<line x1="263.3" y1="662.2" x2="265.9" y2="662.2" stroke="#111" stroke-width="0.8" />
<text x="260.6" y="664.5" font-size="6.4" text-anchor="end" textLength="13.7" lengthAdjust="spacingAndGlyphs" stroke="#222" stroke-width="0.08">0.08</text>
<line x1="263.3" y1="677" x2="265.9" y2="677" stroke="#111" stroke-width="0.8" />
<line x1="263.3" y1="691.8" x2="265.9" y2="691.8" stroke="#111" stroke-width="0.8" />
<text x="260.6" y="694.1" font-size="6.4" text-anchor="end" textLength="13.7" lengthAdjust="spacingAndGlyphs" stroke="#222" stroke-width="0.08">0.06</text>
<line x1="271.5" y1="694.7" x2="271.5" y2="697.3" stroke="#111" stroke-width="0.8" />
<line x1="298.5" y1="694.7" x2="298.5" y2="697.3" stroke="#111" stroke-width="0.8" />
<line x1="325.5" y1="694.7" x2="325.5" y2="697.3" stroke="#111" stroke-width="0.8" />
<line x1="352.7" y1="694.7" x2="352.7" y2="697.3" stroke="#111" stroke-width="0.8" />
<line x1="379.5" y1="694.7" x2="379.5" y2="697.3" stroke="#111" stroke-width="0.8" />
<line x1="406.7" y1="694.7" x2="406.7" y2="697.3" stroke="#111" stroke-width="0.8" />
<text x="271.5" y="708" font-size="6.4" text-anchor="middle" textLength="11.02" lengthAdjust="spacingAndGlyphs" stroke="#222" stroke-width="0.08">−3k</text>
<text x="339.4" y="708" font-size="6.4" text-anchor="middle" stroke="#222" stroke-width="0.08">enhancer</text>
<text x="339.4" y="716.6" font-size="6.4" text-anchor="middle" stroke="#222" stroke-width="0.08">center</text>
<text x="406.7" y="708" font-size="6.4" text-anchor="middle" textLength="7.1" lengthAdjust="spacingAndGlyphs" stroke="#222" stroke-width="0.08">3k</text>
<text x="240.9" y="641.2" font-size="8.4" text-anchor="middle" font-weight="bold" fill="#1a1a1a" textLength="31.4" lengthAdjust="spacingAndGlyphs" transform="rotate(-90 240.9 641.2)" stroke="#1a1a1a" stroke-width="0.08">Enrichment</text>
<text x="269.5" y="593.3" font-size="6.8" stroke="#222" stroke-width="0.08">EP300</text>
<text x="376.9" y="592.6" font-size="6.5" fill="#c0163c" stroke="#c0163c" stroke-width="0.08">A-485 0h</text>
<text x="376.9" y="601.1" font-size="6.5" fill="#5ab4dc" stroke="#5ab4dc" stroke-width="0.08">A-485 24h</text>
<text x="376.9" y="609.5" font-size="6.5" fill="#1d3f6e" stroke="#1d3f6e" stroke-width="0.08">A-485 48h</text>
<text x="376.9" y="617.5" font-size="6.5" fill="#5b2a6e" stroke="#5b2a6e" stroke-width="0.08">A-485 72h</text>
<rect x="0" y="0" width="520" height="1" fill="#4a4a4a"/><rect x="0" y="1" width="520" height="0.6" fill="#b8b8b8"/>
<rect x="0" y="0" width="1" height="725" fill="#4a4a4a"/><rect x="1" y="0" width="0.6" height="725" fill="#a0a0a0"/>
<rect x="519" y="0" width="1" height="725" fill="#4a4a4a"/><rect x="518.4" y="0" width="0.6" height="725" fill="#b8b8b8"/>
<rect x="0" y="724" width="520" height="1" fill="#4a4a4a"/><rect x="0" y="723.4" width="520" height="0.6" fill="#b8b8b8"/>
</svg></body></html>
